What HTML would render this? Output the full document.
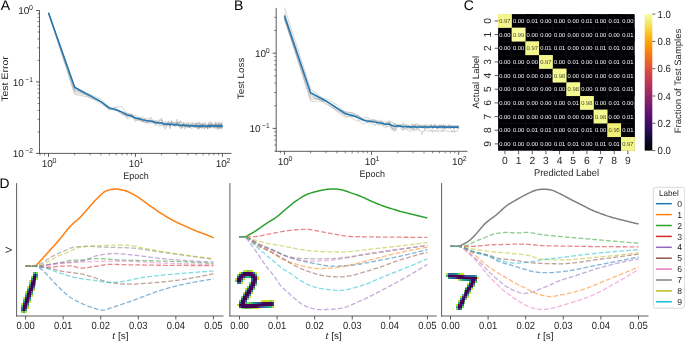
<!DOCTYPE html>
<html><head><meta charset="utf-8"><style>
html,body{margin:0;padding:0;background:#fff;}
svg{display:block;font-family:"Liberation Sans", sans-serif;text-rendering:geometricPrecision;will-change:transform;}
</style></head><body>
<svg width="685" height="341" viewBox="0 0 685 341">
<rect width="685" height="341" fill="#fff"/>
<text x="0.7" y="9.8" font-size="14" text-anchor="start" fill="#000" >A</text>
<text x="233.9" y="9.8" font-size="14" text-anchor="start" fill="#000" >B</text>
<text x="463.7" y="9.8" font-size="14" text-anchor="start" fill="#000" >C</text>
<text x="-0.6" y="187.6" font-size="13.8" text-anchor="start" fill="#000" >D</text>
<polyline points="48.5,13.1 74.67,86.73 89.99,97.87 100.85,101.66 109.28,109.62 116.16,109.7 121.98,111.84 127.02,118.68 131.47,117.05 135.45,117.69 139.05,120.2 142.33,121.83 145.36,120.11 148.16,122.06 150.76,119.39 153.2,121.22 155.49,121.58 157.65,120.19 159.69,120.28 161.62,120.27 163.47,123.38 165.22,123.72 166.9,123.64 168.51,124.68 170.05,121.94 171.53,124.79 172.96,125.59 174.33,126.74 175.66,123.69 176.94,124.71 178.17,121.72 179.37,124.75 180.53,121.57 181.66,123.05 182.76,127.69 183.82,121.66 184.86,127.07 185.86,126.21 186.84,125.09 187.8,126.53 188.73,126.72 189.64,127.69 190.53,125.6 191.4,125.08 192.25,125.14 193.08,124.6 193.89,126.23 194.68,125.04 195.46,128.02 196.23,123.32 196.97,124.57 197.71,124.79 198.43,123.03 199.13,129.21 199.82,122.58 200.5,125.84 201.17,125.47 201.83,128.74 202.48,123.3 203.11,127.84 203.73,125.17 204.35,126.02 204.95,125.27 205.55,127.16 206.13,124.6 206.71,126.11 207.28,126.72 207.84,128.81 208.39,122.85 208.93,128.34 209.47,127.53 210,125.55 210.52,126.63 211.03,125.58 211.54,128.44 212.04,126.5 212.53,125.93 213.02,125.91 213.5,125.95 213.97,125.98 214.44,125.06 214.91,128.9 215.36,123.73 215.82,121.55 216.26,126.06 216.7,126.03 217.14,126.69 217.57,125.95 218,126.03 218.42,126.63 218.84,127.43 219.25,125.66 219.66,125.75 220.06,128.61 220.46,126.87 220.86,125.01 221.25,129.05 221.64,127.16 222.02,125.5 222.4,124.8" fill="none" stroke="#999999" stroke-width="0.8" stroke-linejoin="round" stroke-linecap="butt" stroke-opacity="0.5"/>
<polyline points="48.5,12.4 74.67,88.23 89.99,95.64 100.85,101.77 109.28,107.14 116.16,109.42 121.98,114.96 127.02,114.02 131.47,113.92 135.45,119.43 139.05,119.05 142.33,121.48 145.36,122.94 148.16,120.71 150.76,121.37 153.2,122.14 155.49,120.37 157.65,124.64 159.69,126.57 161.62,124.3 163.47,123.63 165.22,123.78 166.9,122.92 168.51,123.09 170.05,124.15 171.53,123.45 172.96,124.46 174.33,122.32 175.66,126.3 176.94,125.83 178.17,123.63 179.37,121.58 180.53,125.93 181.66,127.98 182.76,124.56 183.82,125.02 184.86,124.86 185.86,127.03 186.84,124.27 187.8,127.69 188.73,125.54 189.64,127.72 190.53,126.28 191.4,125.92 192.25,123.94 193.08,125.34 193.89,126.12 194.68,127.62 195.46,126.94 196.23,125.43 196.97,127.18 197.71,128.08 198.43,126.3 199.13,125.85 199.82,125.91 200.5,127.75 201.17,127.32 201.83,125.11 202.48,127.06 203.11,125.79 203.73,125.39 204.35,128.3 204.95,127.67 205.55,125.43 206.13,126.59 206.71,127.19 207.28,125.56 207.84,126.29 208.39,127.39 208.93,123.97 209.47,126.91 210,127.47 210.52,127.15 211.03,124.63 211.54,126.89 212.04,125.3 212.53,127.22 213.02,127.26 213.5,126.74 213.97,125.45 214.44,125.68 214.91,127.57 215.36,125.29 215.82,127.1 216.26,127.12 216.7,126.1 217.14,129.51 217.57,126.55 218,129.17 218.42,123.92 218.84,123.65 219.25,127.68 219.66,127.25 220.06,126.07 220.46,126.39 220.86,124.12 221.25,125.69 221.64,125.2 222.02,126.19 222.4,127.53" fill="none" stroke="#999999" stroke-width="0.8" stroke-linejoin="round" stroke-linecap="butt" stroke-opacity="0.5"/>
<polyline points="48.5,13.6 74.67,89.73 89.99,96.76 100.85,101.88 109.28,107.86 116.16,110.43 121.98,111.74 127.02,117.29 131.47,114.83 135.45,121.7 139.05,116.56 142.33,121.64 145.36,118.5 148.16,124.24 150.76,121.67 153.2,122.78 155.49,124.02 157.65,121.6 159.69,121.21 161.62,119.38 163.47,126.39 165.22,122.57 166.9,123.02 168.51,124.42 170.05,128.87 171.53,121.33 172.96,125.56 174.33,124.39 175.66,126.37 176.94,121.92 178.17,124.79 179.37,127.26 180.53,128.58 181.66,128.6 182.76,124.05 183.82,125.7 184.86,125.39 185.86,123.13 186.84,123.05 187.8,126.99 188.73,126.19 189.64,125.61 190.53,127.99 191.4,124.34 192.25,126.97 193.08,126.19 193.89,126.16 194.68,127.05 195.46,126.54 196.23,126.67 196.97,126.66 197.71,129.28 198.43,125.75 199.13,127.79 199.82,127.16 200.5,125.69 201.17,127.42 201.83,124.92 202.48,127.93 203.11,125 203.73,125.48 204.35,126.66 204.95,127.4 205.55,127.49 206.13,127.46 206.71,125.88 207.28,124.82 207.84,126.94 208.39,126.59 208.93,124.84 209.47,127.51 210,126.44 210.52,124.85 211.03,126.76 211.54,124.37 212.04,124.98 212.53,126.7 213.02,124.09 213.5,126.21 213.97,124.38 214.44,127.13 214.91,125.21 215.36,126.4 215.82,124.22 216.26,125.72 216.7,127.38 217.14,126.75 217.57,123.83 218,127.33 218.42,127.29 218.84,125.69 219.25,127.93 219.66,124.85 220.06,126.06 220.46,127.53 220.86,127.77 221.25,127.73 221.64,124.83 222.02,124.01 222.4,126.64" fill="none" stroke="#999999" stroke-width="0.8" stroke-linejoin="round" stroke-linecap="butt" stroke-opacity="0.5"/>
<polyline points="48.5,13 74.67,91.23 89.99,94.23 100.85,99.25 109.28,107.72 116.16,110.1 121.98,111.72 127.02,112.89 131.47,114.98 135.45,115.33 139.05,117.64 142.33,118.16 145.36,119.31 148.16,118.09 150.76,123.59 153.2,120.75 155.49,123.6 157.65,123.95 159.69,119.77 161.62,118.31 163.47,124.69 165.22,121.44 166.9,122.66 168.51,122.16 170.05,123.19 171.53,120.66 172.96,123.06 174.33,122.47 175.66,123.5 176.94,119.1 178.17,125.36 179.37,124.51 180.53,120.62 181.66,122.49 182.76,123.89 183.82,124.96 184.86,123.81 185.86,126.25 186.84,123.84 187.8,122.16 188.73,122.82 189.64,125.34 190.53,123.12 191.4,125.64 192.25,126.01 193.08,125.36 193.89,126.13 194.68,124.2 195.46,124.46 196.23,123.53 196.97,123.5 197.71,122 198.43,123.59 199.13,122.79 199.82,122.26 200.5,124.66 201.17,125.12 201.83,123.92 202.48,126.46 203.11,125.81 203.73,125.95 204.35,123.53 204.95,122.24 205.55,125.21 206.13,124.84 206.71,125.43 207.28,124.98 207.84,126.16 208.39,123.98 208.93,125.31 209.47,123.14 210,121.21 210.52,123.77 211.03,126.42 211.54,122.11 212.04,125.75 212.53,123.47 213.02,123.85 213.5,124.44 213.97,124.66 214.44,123.1 214.91,124.55 215.36,124.96 215.82,125.46 216.26,123.41 216.7,126.37 217.14,126.81 217.57,127.45 218,122.69 218.42,124.6 218.84,122.05 219.25,124.85 219.66,125.07 220.06,122.96 220.46,122.43 220.86,124.61 221.25,125.15 221.64,123.42 222.02,124.07 222.4,121.33" fill="none" stroke="#999999" stroke-width="0.8" stroke-linejoin="round" stroke-linecap="butt" stroke-opacity="0.5"/>
<polyline points="48.5,12.6 74.67,92.93 89.99,95.51 100.85,101.91 109.28,109.29 116.16,106.88 121.98,106.7 127.02,114.68 131.47,114.51 135.45,117.42 139.05,119.21 142.33,119.77 145.36,122.24 148.16,122.7 150.76,116.97 153.2,120.9 155.49,125.74 157.65,121.17 159.69,124.51 161.62,122.61 163.47,122.04 165.22,126.45 166.9,125.54 168.51,123.06 170.05,125.69 171.53,121.27 172.96,122.67 174.33,126.09 175.66,124.48 176.94,122.45 178.17,125.51 179.37,125.38 180.53,127.15 181.66,126.5 182.76,124.2 183.82,123.81 184.86,124.43 185.86,124.25 186.84,127.24 187.8,127.53 188.73,127.19 189.64,125.59 190.53,124.61 191.4,126.62 192.25,124.61 193.08,125.65 193.89,122.62 194.68,124.66 195.46,127.65 196.23,123.7 196.97,122.98 197.71,125.07 198.43,127.91 199.13,127.56 199.82,124.76 200.5,124.58 201.17,125.14 201.83,123.9 202.48,125.35 203.11,124.85 203.73,123.11 204.35,124.43 204.95,124.9 205.55,124.03 206.13,123.66 206.71,126.55 207.28,127.94 207.84,124.85 208.39,124.66 208.93,125.95 209.47,124.93 210,124.17 210.52,127.16 211.03,123.83 211.54,124.26 212.04,124.36 212.53,124.07 213.02,124.93 213.5,126.01 213.97,127.15 214.44,126.12 214.91,125.3 215.36,123.63 215.82,125.17 216.26,124.04 216.7,125.13 217.14,126.5 217.57,125.51 218,124.99 218.42,124.3 218.84,125.22 219.25,125.39 219.66,124.1 220.06,124.63 220.46,126.34 220.86,123.22 221.25,124.71 221.64,123.83 222.02,127.12 222.4,125.98" fill="none" stroke="#999999" stroke-width="0.8" stroke-linejoin="round" stroke-linecap="butt" stroke-opacity="0.5"/>
<polyline points="48.5,13.3 74.67,94.33 89.99,97.39 100.85,103.66 109.28,109.33 116.16,107.41 121.98,113.43 127.02,116.44 131.47,114.22 135.45,120.02 139.05,120.57 142.33,116.78 145.36,119.69 148.16,120.68 150.76,120.83 153.2,123.32 155.49,120.33 157.65,123.02 159.69,124.42 161.62,125.71 163.47,124.49 165.22,124.08 166.9,126.27 168.51,120.86 170.05,127.21 171.53,124.82 172.96,123.06 174.33,124.88 175.66,122.24 176.94,122 178.17,125.48 179.37,124.74 180.53,127.58 181.66,124.54 182.76,123.79 183.82,124.42 184.86,129.22 185.86,126.17 186.84,125.07 187.8,124.51 188.73,124.43 189.64,126.12 190.53,127.21 191.4,128.5 192.25,128.55 193.08,127.18 193.89,125.73 194.68,125.42 195.46,123.1 196.23,125.18 196.97,127.46 197.71,126.26 198.43,127.36 199.13,124.7 199.82,128.15 200.5,127.22 201.17,126.83 201.83,127.36 202.48,123.43 203.11,125.93 203.73,125.43 204.35,129.39 204.95,126.48 205.55,126.01 206.13,127.96 206.71,125.23 207.28,128.74 207.84,125.73 208.39,126.64 208.93,125.44 209.47,127.83 210,123.73 210.52,127.66 211.03,125.6 211.54,126.78 212.04,125.17 212.53,127.02 213.02,126.97 213.5,127.5 213.97,127.13 214.44,127.53 214.91,128.01 215.36,126.21 215.82,125.19 216.26,125.07 216.7,127.59 217.14,126.24 217.57,128.05 218,126.77 218.42,125.44 218.84,127.85 219.25,129.14 219.66,126.49 220.06,125.56 220.46,125.68 220.86,127.81 221.25,126 221.64,126.22 222.02,127.55 222.4,126.73" fill="none" stroke="#999999" stroke-width="0.8" stroke-linejoin="round" stroke-linecap="butt" stroke-opacity="0.5"/>
<polyline points="48.5,12.8 74.67,89.23 89.99,95.75 100.85,102.03 109.28,108.66 116.16,110.59 121.98,113.66 127.02,113.66 131.47,117.47 135.45,118.81 139.05,118.86 142.33,120.69 145.36,122.32 148.16,121.27 150.76,121.62 153.2,119.98 155.49,123.22 157.65,122.82 159.69,122.82 161.62,121.98 163.47,125.11 165.22,129.48 166.9,125.25 168.51,124.74 170.05,125.69 171.53,123.75 172.96,125.32 174.33,123.93 175.66,124.12 176.94,125.97 178.17,126.07 179.37,125.52 180.53,124.23 181.66,126.2 182.76,123.69 183.82,127.08 184.86,125.04 185.86,125.65 186.84,127.04 187.8,126.72 188.73,123.61 189.64,125.5 190.53,126.63 191.4,124.27 192.25,122.18 193.08,126.13 193.89,126.25 194.68,127.03 195.46,126.46 196.23,126.53 196.97,126.7 197.71,128.47 198.43,127.06 199.13,127.14 199.82,125.7 200.5,128 201.17,126.01 201.83,127.39 202.48,123.14 203.11,126.64 203.73,126.13 204.35,125.59 204.95,128.13 205.55,126.84 206.13,126.05 206.71,125.5 207.28,128.9 207.84,127.29 208.39,127.16 208.93,125.18 209.47,128.04 210,127.01 210.52,125.87 211.03,126.1 211.54,124.04 212.04,127.11 212.53,124.78 213.02,127.36 213.5,125.66 213.97,125.42 214.44,126.72 214.91,126.51 215.36,124.78 215.82,126.14 216.26,127.02 216.7,125.92 217.14,124.53 217.57,125.93 218,125.03 218.42,125.51 218.84,126.3 219.25,126.17 219.66,125.98 220.06,124.2 220.46,126.67 220.86,125.99 221.25,125.74 221.64,126.43 222.02,128.56 222.4,124.69" fill="none" stroke="#999999" stroke-width="0.8" stroke-linejoin="round" stroke-linecap="butt" stroke-opacity="0.5"/>
<polyline points="48.5,12.83 74.67,87.27 89.99,95.66 100.85,101.69 109.28,107.85 116.16,109.72 121.98,112.15 127.02,114.94 131.47,116.01 135.45,118.1 139.05,118.7 142.33,119.67 145.36,120.36 148.16,121.02 150.76,121.07 153.2,121.75 155.49,122.53 157.65,122.7 159.69,123.09 161.62,122.77 163.47,123.98 165.22,124.21 166.9,124.19 168.51,123.91 170.05,124.91 171.53,123.95 172.96,124.66 174.33,124.8 175.66,124.86 176.94,124.37 178.17,125.11 179.37,125.25 180.53,125.36 181.66,125.59 182.76,125.1 183.82,125.14 184.86,125.6 185.86,125.52 186.84,125.33 187.8,125.8 188.73,125.48 189.64,125.98 190.53,125.89 191.4,125.87 192.25,125.72 193.08,125.96 193.89,125.93 194.68,126.04 195.46,126.18 196.23,125.61 196.97,125.91 197.71,126.22 198.43,126.03 199.13,126.29 199.82,125.74 200.5,126.2 201.17,126.17 201.83,126.04 202.48,125.74 203.11,126.07 203.73,125.73 204.35,126.2 204.95,126.07 205.55,126.08 206.13,126.01 206.71,126.06 207.28,126.42 207.84,126.32 208.39,125.88 208.93,125.86 209.47,126.31 210,125.64 210.52,126.13 211.03,125.86 211.54,125.73 212.04,125.87 212.53,125.87 213.02,125.95 213.5,126.09 213.97,125.94 214.44,126.01 214.91,126.32 215.36,125.6 215.82,125.59 216.26,125.83 216.7,126.22 217.14,126.38 217.57,126.14 218,126.06 218.42,125.78 218.84,125.81 219.25,126.37 219.66,125.89 220.06,125.8 220.46,126.05 220.86,125.83 221.25,126.19 221.64,125.74 222.02,126.12 222.4,125.78" fill="none" stroke="#1f77b4" stroke-width="1.5" stroke-linejoin="round" stroke-linecap="butt" />
<line x1="39.5" y1="10.4" x2="39.5" y2="153.8" stroke="#333333" stroke-width="0.8" />
<line x1="39.1" y1="153.4" x2="231.5" y2="153.4" stroke="#333333" stroke-width="0.8" />
<line x1="36" y1="153.4" x2="39.5" y2="153.4" stroke="#333333" stroke-width="0.8" />
<line x1="37.5" y1="131.89" x2="39.5" y2="131.89" stroke="#333333" stroke-width="0.6" />
<line x1="37.5" y1="119.31" x2="39.5" y2="119.31" stroke="#333333" stroke-width="0.6" />
<line x1="37.5" y1="110.38" x2="39.5" y2="110.38" stroke="#333333" stroke-width="0.6" />
<line x1="37.5" y1="103.46" x2="39.5" y2="103.46" stroke="#333333" stroke-width="0.6" />
<line x1="37.5" y1="97.8" x2="39.5" y2="97.8" stroke="#333333" stroke-width="0.6" />
<line x1="37.5" y1="93.02" x2="39.5" y2="93.02" stroke="#333333" stroke-width="0.6" />
<line x1="37.5" y1="88.87" x2="39.5" y2="88.87" stroke="#333333" stroke-width="0.6" />
<line x1="37.5" y1="85.22" x2="39.5" y2="85.22" stroke="#333333" stroke-width="0.6" />
<line x1="36" y1="81.95" x2="39.5" y2="81.95" stroke="#333333" stroke-width="0.8" />
<line x1="37.5" y1="60.44" x2="39.5" y2="60.44" stroke="#333333" stroke-width="0.6" />
<line x1="37.5" y1="47.86" x2="39.5" y2="47.86" stroke="#333333" stroke-width="0.6" />
<line x1="37.5" y1="38.93" x2="39.5" y2="38.93" stroke="#333333" stroke-width="0.6" />
<line x1="37.5" y1="32.01" x2="39.5" y2="32.01" stroke="#333333" stroke-width="0.6" />
<line x1="37.5" y1="26.35" x2="39.5" y2="26.35" stroke="#333333" stroke-width="0.6" />
<line x1="37.5" y1="21.57" x2="39.5" y2="21.57" stroke="#333333" stroke-width="0.6" />
<line x1="37.5" y1="17.42" x2="39.5" y2="17.42" stroke="#333333" stroke-width="0.6" />
<line x1="37.5" y1="13.77" x2="39.5" y2="13.77" stroke="#333333" stroke-width="0.6" />
<line x1="36" y1="10.5" x2="39.5" y2="10.5" stroke="#333333" stroke-width="0.8" />
<text x="29.3" y="14.3" font-size="10" text-anchor="end" fill="#262626" >10</text>
<text x="32.9" y="10.2" font-size="7" text-anchor="end" fill="#262626" >0</text>
<text x="23.9" y="85.75" font-size="10" text-anchor="end" fill="#262626" >10</text>
<text x="32.9" y="81.65" font-size="7" text-anchor="end" fill="#262626" textLength="7.6" lengthAdjust="spacingAndGlyphs" >−1</text>
<text x="23.9" y="157.2" font-size="10" text-anchor="end" fill="#262626" >10</text>
<text x="32.9" y="153.1" font-size="7" text-anchor="end" fill="#262626" textLength="7.6" lengthAdjust="spacingAndGlyphs" >−2</text>
<line x1="40.07" y1="153.4" x2="40.07" y2="155.4" stroke="#333333" stroke-width="0.6" />
<line x1="44.52" y1="153.4" x2="44.52" y2="155.4" stroke="#333333" stroke-width="0.6" />
<line x1="48.5" y1="153.4" x2="48.5" y2="156.9" stroke="#333333" stroke-width="0.8" />
<line x1="74.67" y1="153.4" x2="74.67" y2="155.4" stroke="#333333" stroke-width="0.6" />
<line x1="89.99" y1="153.4" x2="89.99" y2="155.4" stroke="#333333" stroke-width="0.6" />
<line x1="100.85" y1="153.4" x2="100.85" y2="155.4" stroke="#333333" stroke-width="0.6" />
<line x1="109.28" y1="153.4" x2="109.28" y2="155.4" stroke="#333333" stroke-width="0.6" />
<line x1="116.16" y1="153.4" x2="116.16" y2="155.4" stroke="#333333" stroke-width="0.6" />
<line x1="121.98" y1="153.4" x2="121.98" y2="155.4" stroke="#333333" stroke-width="0.6" />
<line x1="127.02" y1="153.4" x2="127.02" y2="155.4" stroke="#333333" stroke-width="0.6" />
<line x1="131.47" y1="153.4" x2="131.47" y2="155.4" stroke="#333333" stroke-width="0.6" />
<line x1="135.45" y1="153.4" x2="135.45" y2="156.9" stroke="#333333" stroke-width="0.8" />
<line x1="161.62" y1="153.4" x2="161.62" y2="155.4" stroke="#333333" stroke-width="0.6" />
<line x1="176.94" y1="153.4" x2="176.94" y2="155.4" stroke="#333333" stroke-width="0.6" />
<line x1="187.8" y1="153.4" x2="187.8" y2="155.4" stroke="#333333" stroke-width="0.6" />
<line x1="196.23" y1="153.4" x2="196.23" y2="155.4" stroke="#333333" stroke-width="0.6" />
<line x1="203.11" y1="153.4" x2="203.11" y2="155.4" stroke="#333333" stroke-width="0.6" />
<line x1="208.93" y1="153.4" x2="208.93" y2="155.4" stroke="#333333" stroke-width="0.6" />
<line x1="213.97" y1="153.4" x2="213.97" y2="155.4" stroke="#333333" stroke-width="0.6" />
<line x1="218.42" y1="153.4" x2="218.42" y2="155.4" stroke="#333333" stroke-width="0.6" />
<line x1="222.4" y1="153.4" x2="222.4" y2="156.9" stroke="#333333" stroke-width="0.8" />
<text x="47.3" y="166.6" font-size="10" text-anchor="middle" fill="#262626" >10</text>
<text x="52.5" y="163" font-size="7" text-anchor="start" fill="#262626" >0</text>
<text x="134.25" y="166.6" font-size="10" text-anchor="middle" fill="#262626" >10</text>
<text x="139.45" y="163" font-size="7" text-anchor="start" fill="#262626" >1</text>
<text x="221.2" y="166.6" font-size="10" text-anchor="middle" fill="#262626" >10</text>
<text x="226.4" y="163" font-size="7" text-anchor="start" fill="#262626" >2</text>
<text x="136" y="178.8" font-size="9.3" text-anchor="middle" fill="#262626" textLength="25.5" lengthAdjust="spacingAndGlyphs" >Epoch</text>
<text x="0" y="0" font-size="9.3" text-anchor="middle" fill="#262626" textLength="45.5" lengthAdjust="spacingAndGlyphs" transform="translate(8,79) rotate(-90)">Test Error</text>
<polyline points="284.4,7.5 310.63,88.92 325.98,100.68 336.87,108.3 345.32,111.96 352.22,112.93 358.05,117.18 363.1,119.94 367.56,122.84 371.55,119.8 375.16,120.49 378.45,124.64 381.48,124.95 384.29,127.41 386.9,127.08 389.34,125.9 391.63,126.25 393.8,131.68 395.84,127.25 397.78,126.86 399.63,126.72 401.39,128.9 403.07,129.22 404.69,128.74 406.23,129.38 407.71,130.06 409.14,130.84 410.52,131.54 411.85,130.52 413.13,128.1 414.37,131.44 415.57,128.9 416.74,130.49 417.87,128.97 418.97,130.78 420.03,129.91 421.07,131.09 422.08,134.57 423.06,130.77 424.02,131.72 424.95,129.34 425.87,130.44 426.76,131.42 427.63,130.61 428.48,131.06 429.31,130.77 430.12,129.66 430.92,131.22 431.7,129.87 432.47,132.48 433.21,130.18 433.95,131.32 434.67,130.67 435.38,131.55 436.07,130.11 436.75,131.58 437.42,130.55 438.08,131.79 438.73,131.22 439.37,130.79 439.99,129.99 440.61,131.33 441.21,131.07 441.81,132.05 442.4,130.35 442.97,131.13 443.54,131.08 444.1,130.91 444.66,130.86 445.2,130.84 445.74,130.23 446.27,129.91 446.79,130.42 447.3,131.2 447.81,131.92 448.31,131.51 448.81,131.57 449.3,131.37 449.78,131.31 450.25,130.93 450.72,131.38 451.19,132.12 451.65,130.58 452.1,130.33 452.55,132.26 452.99,131.02 453.43,131.55 453.86,131.49 454.29,130.07 454.71,132.59 455.13,132.13 455.54,131.02 455.95,131.42 456.36,131 456.76,130.32 457.15,130.85 457.55,131.19 457.94,131.69 458.32,131.42 458.7,131" fill="none" stroke="#999999" stroke-width="0.8" stroke-linejoin="round" stroke-linecap="butt" stroke-opacity="0.5"/>
<polyline points="284.4,17.5 310.63,95.42 325.98,102.66 336.87,111.41 345.32,117.26 352.22,116.24 358.05,115.79 363.1,119.11 367.56,122.51 371.55,123.55 375.16,125.78 378.45,121.9 381.48,124.05 384.29,125.56 386.9,124.57 389.34,121.26 391.63,127.1 393.8,130.07 395.84,128.03 397.78,125.12 399.63,126.16 401.39,127.25 403.07,130.71 404.69,128 406.23,127.36 407.71,129.45 409.14,127.26 410.52,129.92 411.85,126.58 413.13,126.91 414.37,128.47 415.57,129.37 416.74,128.44 417.87,128.05 418.97,125.57 420.03,126.93 421.07,127.1 422.08,127.2 423.06,128.42 424.02,127.38 424.95,128.57 425.87,127.79 426.76,127.32 427.63,127.77 428.48,128.07 429.31,128.48 430.12,127.13 430.92,127.38 431.7,126.28 432.47,129.17 433.21,129 433.95,127.44 434.67,127.16 435.38,126.46 436.07,127.77 436.75,127.8 437.42,129.58 438.08,127.83 438.73,126.92 439.37,125.47 439.99,128.84 440.61,127.78 441.21,126.24 441.81,127.77 442.4,126.26 442.97,130.51 443.54,128.54 444.1,128.09 444.66,127.49 445.2,125.92 445.74,127.55 446.27,126.43 446.79,128.14 447.3,126.01 447.81,126.99 448.31,128.64 448.81,128.97 449.3,126.83 449.78,126.58 450.25,128.4 450.72,128.39 451.19,127.03 451.65,127.26 452.1,127.27 452.55,126.93 452.99,127.31 453.43,128.7 453.86,128.3 454.29,129.27 454.71,127.77 455.13,127.74 455.54,127.16 455.95,127.77 456.36,126.96 456.76,126.66 457.15,128.35 457.55,128.85 457.94,128.45 458.32,128.79 458.7,128.07" fill="none" stroke="#999999" stroke-width="0.8" stroke-linejoin="round" stroke-linecap="butt" stroke-opacity="0.5"/>
<polyline points="284.4,19 310.63,97.42 325.98,100.98 336.87,107.32 345.32,111.9 352.22,112.62 358.05,115.07 363.1,119.4 367.56,121.12 371.55,120.6 375.16,124.33 378.45,122.67 381.48,123.8 384.29,125.29 386.9,122.2 389.34,120.7 391.63,125.77 393.8,123.72 395.84,127.29 397.78,125.89 399.63,127.13 401.39,126.83 403.07,122.68 404.69,126.91 406.23,125 407.71,124.99 409.14,125.53 410.52,127.21 411.85,127.39 413.13,127.58 414.37,124.23 415.57,125.63 416.74,123.51 417.87,126.32 418.97,127.19 420.03,125.63 421.07,126.83 422.08,126.82 423.06,127.65 424.02,125.6 424.95,125.58 425.87,125.64 426.76,128.28 427.63,127.54 428.48,126.26 429.31,126.6 430.12,126.48 430.92,126.57 431.7,126.16 432.47,126.05 433.21,125.16 433.95,125.76 434.67,127.92 435.38,126.87 436.07,126.43 436.75,126.17 437.42,126.43 438.08,126.68 438.73,125.8 439.37,126.54 439.99,126.58 440.61,125.72 441.21,125.7 441.81,125.52 442.4,125.48 442.97,127.11 443.54,124.42 444.1,126.16 444.66,125.89 445.2,125.9 445.74,126.49 446.27,127.32 446.79,126.49 447.3,126.33 447.81,125.98 448.31,126.36 448.81,127.17 449.3,126.18 449.78,125.63 450.25,125.55 450.72,125.69 451.19,125.49 451.65,127.33 452.1,126.79 452.55,126.37 452.99,127.6 453.43,126.09 453.86,127.1 454.29,127.14 454.71,125.5 455.13,125.51 455.54,125.96 455.95,127.23 456.36,127.51 456.76,125.79 457.15,127.34 457.55,126.38 457.94,126.38 458.32,126.29 458.7,126.45" fill="none" stroke="#999999" stroke-width="0.8" stroke-linejoin="round" stroke-linecap="butt" stroke-opacity="0.5"/>
<polyline points="284.4,16.5 310.63,99.42 325.98,98.25 336.87,104.85 345.32,112.39 352.22,118.39 358.05,121.57 363.1,118.17 367.56,117.27 371.55,120.06 375.16,119.65 378.45,125.08 381.48,123.12 384.29,121.32 386.9,124.53 389.34,124.3 391.63,121.07 393.8,123.33 395.84,124.07 397.78,124.72 399.63,125.11 401.39,124.49 403.07,125.39 404.69,124.35 406.23,124.02 407.71,127.49 409.14,125.95 410.52,126.11 411.85,123.49 413.13,125.41 414.37,126.69 415.57,124.1 416.74,127.08 417.87,125.31 418.97,126.29 420.03,125.7 421.07,126.14 422.08,127.25 423.06,125.42 424.02,127.56 424.95,124.97 425.87,124.8 426.76,126.52 427.63,124.64 428.48,125.34 429.31,126.63 430.12,126.92 430.92,123.95 431.7,126.2 432.47,127.53 433.21,126.85 433.95,125.48 434.67,125.15 435.38,125.43 436.07,124.65 436.75,125.47 437.42,125.54 438.08,125.58 438.73,126.76 439.37,125.51 439.99,124.44 440.61,126.61 441.21,124.79 441.81,125.33 442.4,125.6 442.97,125.42 443.54,124.88 444.1,125.52 444.66,127.5 445.2,125.25 445.74,125.64 446.27,126.65 446.79,126.36 447.3,126.38 447.81,126.46 448.31,124.29 448.81,125.15 449.3,125.92 449.78,126.21 450.25,126.81 450.72,126.2 451.19,125.68 451.65,125.89 452.1,125.72 452.55,126.06 452.99,126.38 453.43,125.66 453.86,125.33 454.29,125.31 454.71,126.69 455.13,126.83 455.54,126.63 455.95,126.54 456.36,126.53 456.76,125.96 457.15,126.42 457.55,125.27 457.94,125.85 458.32,125.51 458.7,126.48" fill="none" stroke="#999999" stroke-width="0.8" stroke-linejoin="round" stroke-linecap="butt" stroke-opacity="0.5"/>
<polyline points="284.4,18 310.63,101.42 325.98,100.93 336.87,108.42 345.32,115.03 352.22,114.23 358.05,116.08 363.1,120.88 367.56,119.06 371.55,122.26 375.16,121.02 378.45,122.27 381.48,119.79 384.29,124.51 386.9,122.83 389.34,122.6 391.63,128.1 393.8,126.18 395.84,131 397.78,126.09 399.63,125.1 401.39,125.92 403.07,128.24 404.69,125.91 406.23,126.68 407.71,126.84 409.14,124.97 410.52,126.45 411.85,125.66 413.13,124.76 414.37,127.5 415.57,127.27 416.74,126.58 417.87,125.44 418.97,124.2 420.03,127.16 421.07,126.52 422.08,124.74 423.06,126.55 424.02,124.92 424.95,126.53 425.87,126.69 426.76,126.89 427.63,126.71 428.48,126.64 429.31,125.3 430.12,126.07 430.92,125.95 431.7,126.22 432.47,126.71 433.21,127.05 433.95,128 434.67,124.04 435.38,126.82 436.07,126.27 436.75,128.52 437.42,127.29 438.08,124.98 438.73,126.81 439.37,126 439.99,127.32 440.61,125.54 441.21,126.37 441.81,126.34 442.4,126.37 442.97,125.97 443.54,124.94 444.1,126.84 444.66,127.28 445.2,126.43 445.74,125.68 446.27,126.66 446.79,126.96 447.3,126.39 447.81,126.52 448.31,127.63 448.81,125.7 449.3,126.14 449.78,125.14 450.25,126.06 450.72,126.04 451.19,125.89 451.65,126.1 452.1,127.93 452.55,126.48 452.99,126.55 453.43,128.21 453.86,126.61 454.29,125.44 454.71,126.95 455.13,126.02 455.54,127.82 455.95,125.83 456.36,126.3 456.76,125.61 457.15,126.78 457.55,126.04 457.94,126.69 458.32,126.49 458.7,126.34" fill="none" stroke="#999999" stroke-width="0.8" stroke-linejoin="round" stroke-linecap="butt" stroke-opacity="0.5"/>
<polyline points="284.4,19.5 310.63,93.92 325.98,104.16 336.87,110 345.32,114.31 352.22,114.67 358.05,119.05 363.1,124.47 367.56,121.08 371.55,121.07 375.16,121.71 378.45,121.5 381.48,122.15 384.29,123.86 386.9,127.03 389.34,125.04 391.63,124.62 393.8,123.14 395.84,126.48 397.78,126.3 399.63,124.64 401.39,125.01 403.07,126.7 404.69,128.33 406.23,127.84 407.71,127.32 409.14,126.68 410.52,127.61 411.85,127.22 413.13,130.07 414.37,125.89 415.57,126.9 416.74,128.94 417.87,127.12 418.97,129.16 420.03,127.46 421.07,127.71 422.08,127.14 423.06,125.99 424.02,126.44 424.95,129.87 425.87,128.14 426.76,128.06 427.63,128.39 428.48,127.96 429.31,128.4 430.12,127.1 430.92,127.14 431.7,128.33 432.47,127.02 433.21,126.09 433.95,127.15 434.67,126.85 435.38,127.94 436.07,126.7 436.75,126.4 437.42,127.07 438.08,128.75 438.73,127.32 439.37,127.51 439.99,127.37 440.61,127.62 441.21,128.16 441.81,128.55 442.4,125.99 442.97,128.5 443.54,127.36 444.1,127.11 444.66,129.33 445.2,127.26 445.74,128.96 446.27,128.19 446.79,126.62 447.3,127.82 447.81,128.02 448.31,127.36 448.81,125.69 449.3,127.22 449.78,127.34 450.25,126.67 450.72,128.86 451.19,127.33 451.65,127.23 452.1,127.31 452.55,126.97 452.99,126.99 453.43,127.62 453.86,127.79 454.29,127.22 454.71,127.52 455.13,126.62 455.54,127.96 455.95,127.09 456.36,127.76 456.76,127 457.15,127.28 457.55,127.78 457.94,126.83 458.32,129.3 458.7,127.64" fill="none" stroke="#999999" stroke-width="0.8" stroke-linejoin="round" stroke-linecap="butt" stroke-opacity="0.5"/>
<polyline points="284.4,12.5 310.63,91.42 325.98,100.84 336.87,110.52 345.32,115.73 352.22,116.39 358.05,115.65 363.1,118.94 367.56,122.29 371.55,120.92 375.16,120.28 378.45,120.73 381.48,121.88 384.29,123.63 386.9,122.88 389.34,124.46 391.63,129.62 393.8,128.29 395.84,123.8 397.78,126.29 399.63,126.08 401.39,125.85 403.07,127.7 404.69,125.77 406.23,125.88 407.71,125.91 409.14,126.38 410.52,128.29 411.85,127.64 413.13,124.94 414.37,126.15 415.57,125.76 416.74,127.78 417.87,127.1 418.97,127.92 420.03,126.83 421.07,124.76 422.08,127.45 423.06,127.17 424.02,127.45 424.95,125.46 425.87,126.93 426.76,126.09 427.63,126.08 428.48,127.13 429.31,127.11 430.12,125.86 430.92,125.06 431.7,124.33 432.47,126.2 433.21,127.83 433.95,126.7 434.67,124.64 435.38,125.95 436.07,127.14 436.75,128.28 437.42,127.81 438.08,127.08 438.73,126.93 439.37,125.83 439.99,126.36 440.61,126.47 441.21,126.1 441.81,126.81 442.4,126.43 442.97,127.04 443.54,127.94 444.1,127.37 444.66,127.12 445.2,126.59 445.74,125.58 446.27,126.72 446.79,127.25 447.3,126.04 447.81,127.81 448.31,126.59 448.81,127.14 449.3,126.62 449.78,125.93 450.25,128.43 450.72,126.03 451.19,127.58 451.65,126.51 452.1,127.13 452.55,126.35 452.99,126.64 453.43,127.61 453.86,128.34 454.29,126.37 454.71,126.98 455.13,127.64 455.54,126.55 455.95,127.49 456.36,126.47 456.76,127.42 457.15,127.32 457.55,127.84 457.94,127.28 458.32,126.25 458.7,127.49" fill="none" stroke="#999999" stroke-width="0.8" stroke-linejoin="round" stroke-linecap="butt" stroke-opacity="0.5"/>
<polyline points="284.4,15.54 310.63,92.87 325.98,100.99 336.87,108.14 345.32,113.58 352.22,115.54 358.05,117.65 363.1,119.97 367.56,121.11 371.55,121.54 375.16,122.13 378.45,122.75 381.48,123.05 384.29,124.04 386.9,124.22 389.34,124.02 391.63,125.44 393.8,125.91 395.84,126.14 397.78,125.83 399.63,125.93 401.39,126.2 403.07,126.66 404.69,126.55 406.23,126.48 407.71,126.91 409.14,126.67 410.52,127.31 411.85,126.78 413.13,126.76 414.37,126.95 415.57,126.82 416.74,127.15 417.87,126.89 418.97,127.09 420.03,127.01 421.07,127.06 422.08,127.39 423.06,127.17 424.02,127.1 424.95,127.04 425.87,127.03 426.76,127.28 427.63,127.09 428.48,127.12 429.31,127.17 430.12,126.9 430.92,126.78 431.7,126.79 432.47,127.29 433.21,127.09 433.95,127.07 434.67,126.73 435.38,127.02 436.07,126.89 436.75,127.23 437.42,127.23 438.08,127.13 438.73,127.07 439.37,126.8 439.99,127.01 440.61,127.02 441.21,126.85 441.81,127.11 442.4,126.73 442.97,127.32 443.54,126.9 444.1,127.09 444.66,127.32 445.2,126.86 445.74,126.99 446.27,127.1 446.79,127.13 447.3,127 447.81,127.24 448.31,127.16 448.81,127.1 449.3,127.03 449.78,126.9 450.25,127.21 450.72,127.2 451.19,127.11 451.65,127.1 452.1,127.2 452.55,127.14 452.99,127.22 453.43,127.41 453.86,127.38 454.29,127.12 454.71,127.33 455.13,127.24 455.54,127.28 455.95,127.3 456.36,127.25 456.76,127.02 457.15,127.38 457.55,127.32 457.94,127.31 458.32,127.37 458.7,127.34" fill="none" stroke="#1f77b4" stroke-width="1.5" stroke-linejoin="round" stroke-linecap="butt" />
<line x1="276.2" y1="7.9" x2="276.2" y2="151.7" stroke="#333333" stroke-width="0.8" />
<line x1="275.8" y1="151.3" x2="467.5" y2="151.3" stroke="#333333" stroke-width="0.8" />
<line x1="274.2" y1="151.04" x2="276.2" y2="151.04" stroke="#333333" stroke-width="0.6" />
<line x1="274.2" y1="145.08" x2="276.2" y2="145.08" stroke="#333333" stroke-width="0.6" />
<line x1="274.2" y1="140.05" x2="276.2" y2="140.05" stroke="#333333" stroke-width="0.6" />
<line x1="274.2" y1="135.69" x2="276.2" y2="135.69" stroke="#333333" stroke-width="0.6" />
<line x1="274.2" y1="131.84" x2="276.2" y2="131.84" stroke="#333333" stroke-width="0.6" />
<line x1="272.7" y1="128.4" x2="276.2" y2="128.4" stroke="#333333" stroke-width="0.8" />
<line x1="274.2" y1="105.76" x2="276.2" y2="105.76" stroke="#333333" stroke-width="0.6" />
<line x1="274.2" y1="92.52" x2="276.2" y2="92.52" stroke="#333333" stroke-width="0.6" />
<line x1="274.2" y1="83.13" x2="276.2" y2="83.13" stroke="#333333" stroke-width="0.6" />
<line x1="274.2" y1="75.84" x2="276.2" y2="75.84" stroke="#333333" stroke-width="0.6" />
<line x1="274.2" y1="69.88" x2="276.2" y2="69.88" stroke="#333333" stroke-width="0.6" />
<line x1="274.2" y1="64.85" x2="276.2" y2="64.85" stroke="#333333" stroke-width="0.6" />
<line x1="274.2" y1="60.49" x2="276.2" y2="60.49" stroke="#333333" stroke-width="0.6" />
<line x1="274.2" y1="56.64" x2="276.2" y2="56.64" stroke="#333333" stroke-width="0.6" />
<line x1="272.7" y1="53.2" x2="276.2" y2="53.2" stroke="#333333" stroke-width="0.8" />
<line x1="274.2" y1="30.56" x2="276.2" y2="30.56" stroke="#333333" stroke-width="0.6" />
<line x1="274.2" y1="17.32" x2="276.2" y2="17.32" stroke="#333333" stroke-width="0.6" />
<text x="266" y="57" font-size="10" text-anchor="end" fill="#262626" >10</text>
<text x="269.6" y="52.9" font-size="7" text-anchor="end" fill="#262626" >0</text>
<text x="260.6" y="132.2" font-size="10" text-anchor="end" fill="#262626" >10</text>
<text x="269.6" y="128.1" font-size="7" text-anchor="end" fill="#262626" textLength="7.6" lengthAdjust="spacingAndGlyphs" >−1</text>
<line x1="280.41" y1="151.3" x2="280.41" y2="153.3" stroke="#333333" stroke-width="0.6" />
<line x1="284.4" y1="151.3" x2="284.4" y2="154.8" stroke="#333333" stroke-width="0.8" />
<line x1="310.63" y1="151.3" x2="310.63" y2="153.3" stroke="#333333" stroke-width="0.6" />
<line x1="325.98" y1="151.3" x2="325.98" y2="153.3" stroke="#333333" stroke-width="0.6" />
<line x1="336.87" y1="151.3" x2="336.87" y2="153.3" stroke="#333333" stroke-width="0.6" />
<line x1="345.32" y1="151.3" x2="345.32" y2="153.3" stroke="#333333" stroke-width="0.6" />
<line x1="352.22" y1="151.3" x2="352.22" y2="153.3" stroke="#333333" stroke-width="0.6" />
<line x1="358.05" y1="151.3" x2="358.05" y2="153.3" stroke="#333333" stroke-width="0.6" />
<line x1="363.1" y1="151.3" x2="363.1" y2="153.3" stroke="#333333" stroke-width="0.6" />
<line x1="367.56" y1="151.3" x2="367.56" y2="153.3" stroke="#333333" stroke-width="0.6" />
<line x1="371.55" y1="151.3" x2="371.55" y2="154.8" stroke="#333333" stroke-width="0.8" />
<line x1="397.78" y1="151.3" x2="397.78" y2="153.3" stroke="#333333" stroke-width="0.6" />
<line x1="413.13" y1="151.3" x2="413.13" y2="153.3" stroke="#333333" stroke-width="0.6" />
<line x1="424.02" y1="151.3" x2="424.02" y2="153.3" stroke="#333333" stroke-width="0.6" />
<line x1="432.47" y1="151.3" x2="432.47" y2="153.3" stroke="#333333" stroke-width="0.6" />
<line x1="439.37" y1="151.3" x2="439.37" y2="153.3" stroke="#333333" stroke-width="0.6" />
<line x1="445.2" y1="151.3" x2="445.2" y2="153.3" stroke="#333333" stroke-width="0.6" />
<line x1="450.25" y1="151.3" x2="450.25" y2="153.3" stroke="#333333" stroke-width="0.6" />
<line x1="454.71" y1="151.3" x2="454.71" y2="153.3" stroke="#333333" stroke-width="0.6" />
<line x1="458.7" y1="151.3" x2="458.7" y2="154.8" stroke="#333333" stroke-width="0.8" />
<text x="283.2" y="164.5" font-size="10" text-anchor="middle" fill="#262626" >10</text>
<text x="288.4" y="160.9" font-size="7" text-anchor="start" fill="#262626" >0</text>
<text x="370.35" y="164.5" font-size="10" text-anchor="middle" fill="#262626" >10</text>
<text x="375.55" y="160.9" font-size="7" text-anchor="start" fill="#262626" >1</text>
<text x="457.5" y="164.5" font-size="10" text-anchor="middle" fill="#262626" >10</text>
<text x="462.7" y="160.9" font-size="7" text-anchor="start" fill="#262626" >2</text>
<text x="372.35" y="176.7" font-size="9.3" text-anchor="middle" fill="#262626" textLength="25.5" lengthAdjust="spacingAndGlyphs" >Epoch</text>
<text x="0" y="0" font-size="9.3" text-anchor="middle" fill="#262626" textLength="41.5" lengthAdjust="spacingAndGlyphs" transform="translate(243.6,78.45) rotate(-90)">Test Loss</text>
<rect x="498.1" y="14.1" width="136.6" height="136.6" fill="#000004"/>
<rect x="498.1" y="14.1" width="13.66" height="13.66" fill="#f3f68a"/>
<rect x="525.42" y="14.1" width="13.66" height="13.66" fill="#010106"/>
<rect x="580.06" y="14.1" width="13.66" height="13.66" fill="#010106"/>
<rect x="607.38" y="14.1" width="13.66" height="13.66" fill="#010106"/>
<rect x="511.76" y="27.76" width="13.66" height="13.66" fill="#f9fc9d"/>
<rect x="621.04" y="27.76" width="13.66" height="13.66" fill="#010106"/>
<rect x="525.42" y="41.42" width="13.66" height="13.66" fill="#f3f68a"/>
<rect x="539.08" y="41.42" width="13.66" height="13.66" fill="#010106"/>
<rect x="552.74" y="41.42" width="13.66" height="13.66" fill="#010106"/>
<rect x="593.72" y="41.42" width="13.66" height="13.66" fill="#010106"/>
<rect x="607.38" y="41.42" width="13.66" height="13.66" fill="#010106"/>
<rect x="539.08" y="55.08" width="13.66" height="13.66" fill="#f3f68a"/>
<rect x="566.4" y="55.08" width="13.66" height="13.66" fill="#010106"/>
<rect x="607.38" y="55.08" width="13.66" height="13.66" fill="#010106"/>
<rect x="621.04" y="55.08" width="13.66" height="13.66" fill="#010106"/>
<rect x="552.74" y="68.74" width="13.66" height="13.66" fill="#f5f992"/>
<rect x="621.04" y="68.74" width="13.66" height="13.66" fill="#010106"/>
<rect x="566.4" y="82.4" width="13.66" height="13.66" fill="#f5f992"/>
<rect x="607.38" y="82.4" width="13.66" height="13.66" fill="#010106"/>
<rect x="621.04" y="82.4" width="13.66" height="13.66" fill="#010106"/>
<rect x="566.4" y="96.06" width="13.66" height="13.66" fill="#010106"/>
<rect x="580.06" y="96.06" width="13.66" height="13.66" fill="#f5f992"/>
<rect x="607.38" y="96.06" width="13.66" height="13.66" fill="#010106"/>
<rect x="593.72" y="109.72" width="13.66" height="13.66" fill="#f5f992"/>
<rect x="621.04" y="109.72" width="13.66" height="13.66" fill="#010106"/>
<rect x="525.42" y="123.38" width="13.66" height="13.66" fill="#010106"/>
<rect x="539.08" y="123.38" width="13.66" height="13.66" fill="#010106"/>
<rect x="566.4" y="123.38" width="13.66" height="13.66" fill="#010106"/>
<rect x="580.06" y="123.38" width="13.66" height="13.66" fill="#010106"/>
<rect x="607.38" y="123.38" width="13.66" height="13.66" fill="#f1ef75"/>
<rect x="621.04" y="123.38" width="13.66" height="13.66" fill="#010106"/>
<rect x="552.74" y="137.04" width="13.66" height="13.66" fill="#010106"/>
<rect x="566.4" y="137.04" width="13.66" height="13.66" fill="#010106"/>
<rect x="593.72" y="137.04" width="13.66" height="13.66" fill="#010106"/>
<rect x="607.38" y="137.04" width="13.66" height="13.66" fill="#010106"/>
<rect x="621.04" y="137.04" width="13.66" height="13.66" fill="#f3f68a"/>
<line x1="511.76" y1="14.1" x2="511.76" y2="150.7" stroke="#1a1a1a" stroke-width="0.5" />
<line x1="498.1" y1="27.76" x2="634.7" y2="27.76" stroke="#1a1a1a" stroke-width="0.5" />
<line x1="525.42" y1="14.1" x2="525.42" y2="150.7" stroke="#1a1a1a" stroke-width="0.5" />
<line x1="498.1" y1="41.42" x2="634.7" y2="41.42" stroke="#1a1a1a" stroke-width="0.5" />
<line x1="539.08" y1="14.1" x2="539.08" y2="150.7" stroke="#1a1a1a" stroke-width="0.5" />
<line x1="498.1" y1="55.08" x2="634.7" y2="55.08" stroke="#1a1a1a" stroke-width="0.5" />
<line x1="552.74" y1="14.1" x2="552.74" y2="150.7" stroke="#1a1a1a" stroke-width="0.5" />
<line x1="498.1" y1="68.74" x2="634.7" y2="68.74" stroke="#1a1a1a" stroke-width="0.5" />
<line x1="566.4" y1="14.1" x2="566.4" y2="150.7" stroke="#1a1a1a" stroke-width="0.5" />
<line x1="498.1" y1="82.4" x2="634.7" y2="82.4" stroke="#1a1a1a" stroke-width="0.5" />
<line x1="580.06" y1="14.1" x2="580.06" y2="150.7" stroke="#1a1a1a" stroke-width="0.5" />
<line x1="498.1" y1="96.06" x2="634.7" y2="96.06" stroke="#1a1a1a" stroke-width="0.5" />
<line x1="593.72" y1="14.1" x2="593.72" y2="150.7" stroke="#1a1a1a" stroke-width="0.5" />
<line x1="498.1" y1="109.72" x2="634.7" y2="109.72" stroke="#1a1a1a" stroke-width="0.5" />
<line x1="607.38" y1="14.1" x2="607.38" y2="150.7" stroke="#1a1a1a" stroke-width="0.5" />
<line x1="498.1" y1="123.38" x2="634.7" y2="123.38" stroke="#1a1a1a" stroke-width="0.5" />
<line x1="621.04" y1="14.1" x2="621.04" y2="150.7" stroke="#1a1a1a" stroke-width="0.5" />
<line x1="498.1" y1="137.04" x2="634.7" y2="137.04" stroke="#1a1a1a" stroke-width="0.5" />
<rect x="498.1" y="14.1" width="13.66" height="13.66" fill="#f3f68a"/>
<rect x="511.76" y="27.76" width="13.66" height="13.66" fill="#f9fc9d"/>
<rect x="525.42" y="41.42" width="13.66" height="13.66" fill="#f3f68a"/>
<rect x="539.08" y="55.08" width="13.66" height="13.66" fill="#f3f68a"/>
<rect x="552.74" y="68.74" width="13.66" height="13.66" fill="#f5f992"/>
<rect x="566.4" y="82.4" width="13.66" height="13.66" fill="#f5f992"/>
<rect x="580.06" y="96.06" width="13.66" height="13.66" fill="#f5f992"/>
<rect x="593.72" y="109.72" width="13.66" height="13.66" fill="#f5f992"/>
<rect x="607.38" y="123.38" width="13.66" height="13.66" fill="#f1ef75"/>
<rect x="621.04" y="137.04" width="13.66" height="13.66" fill="#f3f68a"/>
<text x="504.93" y="23.03" font-size="5.9" text-anchor="middle" fill="#3c3c28" textLength="11.3" lengthAdjust="spacingAndGlyphs" >0.97</text>
<text x="518.59" y="23.03" font-size="5.9" text-anchor="middle" fill="#ffffff" textLength="11.3" lengthAdjust="spacingAndGlyphs" >0.00</text>
<text x="532.25" y="23.03" font-size="5.9" text-anchor="middle" fill="#ffffff" textLength="11.3" lengthAdjust="spacingAndGlyphs" >0.01</text>
<text x="545.91" y="23.03" font-size="5.9" text-anchor="middle" fill="#ffffff" textLength="11.3" lengthAdjust="spacingAndGlyphs" >0.00</text>
<text x="559.57" y="23.03" font-size="5.9" text-anchor="middle" fill="#ffffff" textLength="11.3" lengthAdjust="spacingAndGlyphs" >0.00</text>
<text x="573.23" y="23.03" font-size="5.9" text-anchor="middle" fill="#ffffff" textLength="11.3" lengthAdjust="spacingAndGlyphs" >0.00</text>
<text x="586.89" y="23.03" font-size="5.9" text-anchor="middle" fill="#ffffff" textLength="11.3" lengthAdjust="spacingAndGlyphs" >0.01</text>
<text x="600.55" y="23.03" font-size="5.9" text-anchor="middle" fill="#ffffff" textLength="11.3" lengthAdjust="spacingAndGlyphs" >0.00</text>
<text x="614.21" y="23.03" font-size="5.9" text-anchor="middle" fill="#ffffff" textLength="11.3" lengthAdjust="spacingAndGlyphs" >0.01</text>
<text x="627.87" y="23.03" font-size="5.9" text-anchor="middle" fill="#ffffff" textLength="11.3" lengthAdjust="spacingAndGlyphs" >0.00</text>
<text x="504.93" y="36.69" font-size="5.9" text-anchor="middle" fill="#ffffff" textLength="11.3" lengthAdjust="spacingAndGlyphs" >0.00</text>
<text x="518.59" y="36.69" font-size="5.9" text-anchor="middle" fill="#3c3c28" textLength="11.3" lengthAdjust="spacingAndGlyphs" >0.99</text>
<text x="532.25" y="36.69" font-size="5.9" text-anchor="middle" fill="#ffffff" textLength="11.3" lengthAdjust="spacingAndGlyphs" >0.00</text>
<text x="545.91" y="36.69" font-size="5.9" text-anchor="middle" fill="#ffffff" textLength="11.3" lengthAdjust="spacingAndGlyphs" >0.00</text>
<text x="559.57" y="36.69" font-size="5.9" text-anchor="middle" fill="#ffffff" textLength="11.3" lengthAdjust="spacingAndGlyphs" >0.00</text>
<text x="573.23" y="36.69" font-size="5.9" text-anchor="middle" fill="#ffffff" textLength="11.3" lengthAdjust="spacingAndGlyphs" >0.00</text>
<text x="586.89" y="36.69" font-size="5.9" text-anchor="middle" fill="#ffffff" textLength="11.3" lengthAdjust="spacingAndGlyphs" >0.00</text>
<text x="600.55" y="36.69" font-size="5.9" text-anchor="middle" fill="#ffffff" textLength="11.3" lengthAdjust="spacingAndGlyphs" >0.00</text>
<text x="614.21" y="36.69" font-size="5.9" text-anchor="middle" fill="#ffffff" textLength="11.3" lengthAdjust="spacingAndGlyphs" >0.00</text>
<text x="627.87" y="36.69" font-size="5.9" text-anchor="middle" fill="#ffffff" textLength="11.3" lengthAdjust="spacingAndGlyphs" >0.01</text>
<text x="504.93" y="50.35" font-size="5.9" text-anchor="middle" fill="#ffffff" textLength="11.3" lengthAdjust="spacingAndGlyphs" >0.00</text>
<text x="518.59" y="50.35" font-size="5.9" text-anchor="middle" fill="#ffffff" textLength="11.3" lengthAdjust="spacingAndGlyphs" >0.00</text>
<text x="532.25" y="50.35" font-size="5.9" text-anchor="middle" fill="#3c3c28" textLength="11.3" lengthAdjust="spacingAndGlyphs" >0.97</text>
<text x="545.91" y="50.35" font-size="5.9" text-anchor="middle" fill="#ffffff" textLength="11.3" lengthAdjust="spacingAndGlyphs" >0.01</text>
<text x="559.57" y="50.35" font-size="5.9" text-anchor="middle" fill="#ffffff" textLength="11.3" lengthAdjust="spacingAndGlyphs" >0.01</text>
<text x="573.23" y="50.35" font-size="5.9" text-anchor="middle" fill="#ffffff" textLength="11.3" lengthAdjust="spacingAndGlyphs" >0.00</text>
<text x="586.89" y="50.35" font-size="5.9" text-anchor="middle" fill="#ffffff" textLength="11.3" lengthAdjust="spacingAndGlyphs" >0.00</text>
<text x="600.55" y="50.35" font-size="5.9" text-anchor="middle" fill="#ffffff" textLength="11.3" lengthAdjust="spacingAndGlyphs" >0.01</text>
<text x="614.21" y="50.35" font-size="5.9" text-anchor="middle" fill="#ffffff" textLength="11.3" lengthAdjust="spacingAndGlyphs" >0.01</text>
<text x="627.87" y="50.35" font-size="5.9" text-anchor="middle" fill="#ffffff" textLength="11.3" lengthAdjust="spacingAndGlyphs" >0.00</text>
<text x="504.93" y="64.01" font-size="5.9" text-anchor="middle" fill="#ffffff" textLength="11.3" lengthAdjust="spacingAndGlyphs" >0.00</text>
<text x="518.59" y="64.01" font-size="5.9" text-anchor="middle" fill="#ffffff" textLength="11.3" lengthAdjust="spacingAndGlyphs" >0.00</text>
<text x="532.25" y="64.01" font-size="5.9" text-anchor="middle" fill="#ffffff" textLength="11.3" lengthAdjust="spacingAndGlyphs" >0.00</text>
<text x="545.91" y="64.01" font-size="5.9" text-anchor="middle" fill="#3c3c28" textLength="11.3" lengthAdjust="spacingAndGlyphs" >0.97</text>
<text x="559.57" y="64.01" font-size="5.9" text-anchor="middle" fill="#ffffff" textLength="11.3" lengthAdjust="spacingAndGlyphs" >0.00</text>
<text x="573.23" y="64.01" font-size="5.9" text-anchor="middle" fill="#ffffff" textLength="11.3" lengthAdjust="spacingAndGlyphs" >0.01</text>
<text x="586.89" y="64.01" font-size="5.9" text-anchor="middle" fill="#ffffff" textLength="11.3" lengthAdjust="spacingAndGlyphs" >0.00</text>
<text x="600.55" y="64.01" font-size="5.9" text-anchor="middle" fill="#ffffff" textLength="11.3" lengthAdjust="spacingAndGlyphs" >0.00</text>
<text x="614.21" y="64.01" font-size="5.9" text-anchor="middle" fill="#ffffff" textLength="11.3" lengthAdjust="spacingAndGlyphs" >0.01</text>
<text x="627.87" y="64.01" font-size="5.9" text-anchor="middle" fill="#ffffff" textLength="11.3" lengthAdjust="spacingAndGlyphs" >0.01</text>
<text x="504.93" y="77.67" font-size="5.9" text-anchor="middle" fill="#ffffff" textLength="11.3" lengthAdjust="spacingAndGlyphs" >0.00</text>
<text x="518.59" y="77.67" font-size="5.9" text-anchor="middle" fill="#ffffff" textLength="11.3" lengthAdjust="spacingAndGlyphs" >0.00</text>
<text x="532.25" y="77.67" font-size="5.9" text-anchor="middle" fill="#ffffff" textLength="11.3" lengthAdjust="spacingAndGlyphs" >0.00</text>
<text x="545.91" y="77.67" font-size="5.9" text-anchor="middle" fill="#ffffff" textLength="11.3" lengthAdjust="spacingAndGlyphs" >0.00</text>
<text x="559.57" y="77.67" font-size="5.9" text-anchor="middle" fill="#3c3c28" textLength="11.3" lengthAdjust="spacingAndGlyphs" >0.98</text>
<text x="573.23" y="77.67" font-size="5.9" text-anchor="middle" fill="#ffffff" textLength="11.3" lengthAdjust="spacingAndGlyphs" >0.00</text>
<text x="586.89" y="77.67" font-size="5.9" text-anchor="middle" fill="#ffffff" textLength="11.3" lengthAdjust="spacingAndGlyphs" >0.00</text>
<text x="600.55" y="77.67" font-size="5.9" text-anchor="middle" fill="#ffffff" textLength="11.3" lengthAdjust="spacingAndGlyphs" >0.00</text>
<text x="614.21" y="77.67" font-size="5.9" text-anchor="middle" fill="#ffffff" textLength="11.3" lengthAdjust="spacingAndGlyphs" >0.00</text>
<text x="627.87" y="77.67" font-size="5.9" text-anchor="middle" fill="#ffffff" textLength="11.3" lengthAdjust="spacingAndGlyphs" >0.01</text>
<text x="504.93" y="91.33" font-size="5.9" text-anchor="middle" fill="#ffffff" textLength="11.3" lengthAdjust="spacingAndGlyphs" >0.00</text>
<text x="518.59" y="91.33" font-size="5.9" text-anchor="middle" fill="#ffffff" textLength="11.3" lengthAdjust="spacingAndGlyphs" >0.00</text>
<text x="532.25" y="91.33" font-size="5.9" text-anchor="middle" fill="#ffffff" textLength="11.3" lengthAdjust="spacingAndGlyphs" >0.00</text>
<text x="545.91" y="91.33" font-size="5.9" text-anchor="middle" fill="#ffffff" textLength="11.3" lengthAdjust="spacingAndGlyphs" >0.00</text>
<text x="559.57" y="91.33" font-size="5.9" text-anchor="middle" fill="#ffffff" textLength="11.3" lengthAdjust="spacingAndGlyphs" >0.00</text>
<text x="573.23" y="91.33" font-size="5.9" text-anchor="middle" fill="#3c3c28" textLength="11.3" lengthAdjust="spacingAndGlyphs" >0.98</text>
<text x="586.89" y="91.33" font-size="5.9" text-anchor="middle" fill="#ffffff" textLength="11.3" lengthAdjust="spacingAndGlyphs" >0.00</text>
<text x="600.55" y="91.33" font-size="5.9" text-anchor="middle" fill="#ffffff" textLength="11.3" lengthAdjust="spacingAndGlyphs" >0.00</text>
<text x="614.21" y="91.33" font-size="5.9" text-anchor="middle" fill="#ffffff" textLength="11.3" lengthAdjust="spacingAndGlyphs" >0.01</text>
<text x="627.87" y="91.33" font-size="5.9" text-anchor="middle" fill="#ffffff" textLength="11.3" lengthAdjust="spacingAndGlyphs" >0.01</text>
<text x="504.93" y="104.99" font-size="5.9" text-anchor="middle" fill="#ffffff" textLength="11.3" lengthAdjust="spacingAndGlyphs" >0.00</text>
<text x="518.59" y="104.99" font-size="5.9" text-anchor="middle" fill="#ffffff" textLength="11.3" lengthAdjust="spacingAndGlyphs" >0.00</text>
<text x="532.25" y="104.99" font-size="5.9" text-anchor="middle" fill="#ffffff" textLength="11.3" lengthAdjust="spacingAndGlyphs" >0.00</text>
<text x="545.91" y="104.99" font-size="5.9" text-anchor="middle" fill="#ffffff" textLength="11.3" lengthAdjust="spacingAndGlyphs" >0.00</text>
<text x="559.57" y="104.99" font-size="5.9" text-anchor="middle" fill="#ffffff" textLength="11.3" lengthAdjust="spacingAndGlyphs" >0.00</text>
<text x="573.23" y="104.99" font-size="5.9" text-anchor="middle" fill="#ffffff" textLength="11.3" lengthAdjust="spacingAndGlyphs" >0.01</text>
<text x="586.89" y="104.99" font-size="5.9" text-anchor="middle" fill="#3c3c28" textLength="11.3" lengthAdjust="spacingAndGlyphs" >0.98</text>
<text x="600.55" y="104.99" font-size="5.9" text-anchor="middle" fill="#ffffff" textLength="11.3" lengthAdjust="spacingAndGlyphs" >0.00</text>
<text x="614.21" y="104.99" font-size="5.9" text-anchor="middle" fill="#ffffff" textLength="11.3" lengthAdjust="spacingAndGlyphs" >0.01</text>
<text x="627.87" y="104.99" font-size="5.9" text-anchor="middle" fill="#ffffff" textLength="11.3" lengthAdjust="spacingAndGlyphs" >0.00</text>
<text x="504.93" y="118.65" font-size="5.9" text-anchor="middle" fill="#ffffff" textLength="11.3" lengthAdjust="spacingAndGlyphs" >0.00</text>
<text x="518.59" y="118.65" font-size="5.9" text-anchor="middle" fill="#ffffff" textLength="11.3" lengthAdjust="spacingAndGlyphs" >0.00</text>
<text x="532.25" y="118.65" font-size="5.9" text-anchor="middle" fill="#ffffff" textLength="11.3" lengthAdjust="spacingAndGlyphs" >0.00</text>
<text x="545.91" y="118.65" font-size="5.9" text-anchor="middle" fill="#ffffff" textLength="11.3" lengthAdjust="spacingAndGlyphs" >0.00</text>
<text x="559.57" y="118.65" font-size="5.9" text-anchor="middle" fill="#ffffff" textLength="11.3" lengthAdjust="spacingAndGlyphs" >0.00</text>
<text x="573.23" y="118.65" font-size="5.9" text-anchor="middle" fill="#ffffff" textLength="11.3" lengthAdjust="spacingAndGlyphs" >0.00</text>
<text x="586.89" y="118.65" font-size="5.9" text-anchor="middle" fill="#ffffff" textLength="11.3" lengthAdjust="spacingAndGlyphs" >0.00</text>
<text x="600.55" y="118.65" font-size="5.9" text-anchor="middle" fill="#3c3c28" textLength="11.3" lengthAdjust="spacingAndGlyphs" >0.98</text>
<text x="614.21" y="118.65" font-size="5.9" text-anchor="middle" fill="#ffffff" textLength="11.3" lengthAdjust="spacingAndGlyphs" >0.00</text>
<text x="627.87" y="118.65" font-size="5.9" text-anchor="middle" fill="#ffffff" textLength="11.3" lengthAdjust="spacingAndGlyphs" >0.01</text>
<text x="504.93" y="132.31" font-size="5.9" text-anchor="middle" fill="#ffffff" textLength="11.3" lengthAdjust="spacingAndGlyphs" >0.00</text>
<text x="518.59" y="132.31" font-size="5.9" text-anchor="middle" fill="#ffffff" textLength="11.3" lengthAdjust="spacingAndGlyphs" >0.00</text>
<text x="532.25" y="132.31" font-size="5.9" text-anchor="middle" fill="#ffffff" textLength="11.3" lengthAdjust="spacingAndGlyphs" >0.01</text>
<text x="545.91" y="132.31" font-size="5.9" text-anchor="middle" fill="#ffffff" textLength="11.3" lengthAdjust="spacingAndGlyphs" >0.01</text>
<text x="559.57" y="132.31" font-size="5.9" text-anchor="middle" fill="#ffffff" textLength="11.3" lengthAdjust="spacingAndGlyphs" >0.00</text>
<text x="573.23" y="132.31" font-size="5.9" text-anchor="middle" fill="#ffffff" textLength="11.3" lengthAdjust="spacingAndGlyphs" >0.01</text>
<text x="586.89" y="132.31" font-size="5.9" text-anchor="middle" fill="#ffffff" textLength="11.3" lengthAdjust="spacingAndGlyphs" >0.01</text>
<text x="600.55" y="132.31" font-size="5.9" text-anchor="middle" fill="#ffffff" textLength="11.3" lengthAdjust="spacingAndGlyphs" >0.00</text>
<text x="614.21" y="132.31" font-size="5.9" text-anchor="middle" fill="#3c3c28" textLength="11.3" lengthAdjust="spacingAndGlyphs" >0.95</text>
<text x="627.87" y="132.31" font-size="5.9" text-anchor="middle" fill="#ffffff" textLength="11.3" lengthAdjust="spacingAndGlyphs" >0.01</text>
<text x="504.93" y="145.97" font-size="5.9" text-anchor="middle" fill="#ffffff" textLength="11.3" lengthAdjust="spacingAndGlyphs" >0.00</text>
<text x="518.59" y="145.97" font-size="5.9" text-anchor="middle" fill="#ffffff" textLength="11.3" lengthAdjust="spacingAndGlyphs" >0.00</text>
<text x="532.25" y="145.97" font-size="5.9" text-anchor="middle" fill="#ffffff" textLength="11.3" lengthAdjust="spacingAndGlyphs" >0.00</text>
<text x="545.91" y="145.97" font-size="5.9" text-anchor="middle" fill="#ffffff" textLength="11.3" lengthAdjust="spacingAndGlyphs" >0.00</text>
<text x="559.57" y="145.97" font-size="5.9" text-anchor="middle" fill="#ffffff" textLength="11.3" lengthAdjust="spacingAndGlyphs" >0.01</text>
<text x="573.23" y="145.97" font-size="5.9" text-anchor="middle" fill="#ffffff" textLength="11.3" lengthAdjust="spacingAndGlyphs" >0.01</text>
<text x="586.89" y="145.97" font-size="5.9" text-anchor="middle" fill="#ffffff" textLength="11.3" lengthAdjust="spacingAndGlyphs" >0.00</text>
<text x="600.55" y="145.97" font-size="5.9" text-anchor="middle" fill="#ffffff" textLength="11.3" lengthAdjust="spacingAndGlyphs" >0.01</text>
<text x="614.21" y="145.97" font-size="5.9" text-anchor="middle" fill="#ffffff" textLength="11.3" lengthAdjust="spacingAndGlyphs" >0.01</text>
<text x="627.87" y="145.97" font-size="5.9" text-anchor="middle" fill="#3c3c28" textLength="11.3" lengthAdjust="spacingAndGlyphs" >0.97</text>
<line x1="494.6" y1="20.93" x2="498.1" y2="20.93" stroke="#333333" stroke-width="0.8" />
<text x="0" y="0" font-size="10.3" text-anchor="middle" fill="#262626" transform="translate(491.1,20.93) rotate(-90)">0</text>
<line x1="504.93" y1="150.7" x2="504.93" y2="154.2" stroke="#333333" stroke-width="0.8" />
<text x="504.93" y="163.8" font-size="10.3" text-anchor="middle" fill="#262626" >0</text>
<line x1="494.6" y1="34.59" x2="498.1" y2="34.59" stroke="#333333" stroke-width="0.8" />
<text x="0" y="0" font-size="10.3" text-anchor="middle" fill="#262626" transform="translate(491.1,34.59) rotate(-90)">1</text>
<line x1="518.59" y1="150.7" x2="518.59" y2="154.2" stroke="#333333" stroke-width="0.8" />
<text x="518.59" y="163.8" font-size="10.3" text-anchor="middle" fill="#262626" >1</text>
<line x1="494.6" y1="48.25" x2="498.1" y2="48.25" stroke="#333333" stroke-width="0.8" />
<text x="0" y="0" font-size="10.3" text-anchor="middle" fill="#262626" transform="translate(491.1,48.25) rotate(-90)">2</text>
<line x1="532.25" y1="150.7" x2="532.25" y2="154.2" stroke="#333333" stroke-width="0.8" />
<text x="532.25" y="163.8" font-size="10.3" text-anchor="middle" fill="#262626" >2</text>
<line x1="494.6" y1="61.91" x2="498.1" y2="61.91" stroke="#333333" stroke-width="0.8" />
<text x="0" y="0" font-size="10.3" text-anchor="middle" fill="#262626" transform="translate(491.1,61.91) rotate(-90)">3</text>
<line x1="545.91" y1="150.7" x2="545.91" y2="154.2" stroke="#333333" stroke-width="0.8" />
<text x="545.91" y="163.8" font-size="10.3" text-anchor="middle" fill="#262626" >3</text>
<line x1="494.6" y1="75.57" x2="498.1" y2="75.57" stroke="#333333" stroke-width="0.8" />
<text x="0" y="0" font-size="10.3" text-anchor="middle" fill="#262626" transform="translate(491.1,75.57) rotate(-90)">4</text>
<line x1="559.57" y1="150.7" x2="559.57" y2="154.2" stroke="#333333" stroke-width="0.8" />
<text x="559.57" y="163.8" font-size="10.3" text-anchor="middle" fill="#262626" >4</text>
<line x1="494.6" y1="89.23" x2="498.1" y2="89.23" stroke="#333333" stroke-width="0.8" />
<text x="0" y="0" font-size="10.3" text-anchor="middle" fill="#262626" transform="translate(491.1,89.23) rotate(-90)">5</text>
<line x1="573.23" y1="150.7" x2="573.23" y2="154.2" stroke="#333333" stroke-width="0.8" />
<text x="573.23" y="163.8" font-size="10.3" text-anchor="middle" fill="#262626" >5</text>
<line x1="494.6" y1="102.89" x2="498.1" y2="102.89" stroke="#333333" stroke-width="0.8" />
<text x="0" y="0" font-size="10.3" text-anchor="middle" fill="#262626" transform="translate(491.1,102.89) rotate(-90)">6</text>
<line x1="586.89" y1="150.7" x2="586.89" y2="154.2" stroke="#333333" stroke-width="0.8" />
<text x="586.89" y="163.8" font-size="10.3" text-anchor="middle" fill="#262626" >6</text>
<line x1="494.6" y1="116.55" x2="498.1" y2="116.55" stroke="#333333" stroke-width="0.8" />
<text x="0" y="0" font-size="10.3" text-anchor="middle" fill="#262626" transform="translate(491.1,116.55) rotate(-90)">7</text>
<line x1="600.55" y1="150.7" x2="600.55" y2="154.2" stroke="#333333" stroke-width="0.8" />
<text x="600.55" y="163.8" font-size="10.3" text-anchor="middle" fill="#262626" >7</text>
<line x1="494.6" y1="130.21" x2="498.1" y2="130.21" stroke="#333333" stroke-width="0.8" />
<text x="0" y="0" font-size="10.3" text-anchor="middle" fill="#262626" transform="translate(491.1,130.21) rotate(-90)">8</text>
<line x1="614.21" y1="150.7" x2="614.21" y2="154.2" stroke="#333333" stroke-width="0.8" />
<text x="614.21" y="163.8" font-size="10.3" text-anchor="middle" fill="#262626" >8</text>
<line x1="494.6" y1="143.87" x2="498.1" y2="143.87" stroke="#333333" stroke-width="0.8" />
<text x="0" y="0" font-size="10.3" text-anchor="middle" fill="#262626" transform="translate(491.1,143.87) rotate(-90)">9</text>
<line x1="627.87" y1="150.7" x2="627.87" y2="154.2" stroke="#333333" stroke-width="0.8" />
<text x="627.87" y="163.8" font-size="10.3" text-anchor="middle" fill="#262626" >9</text>
<text x="566.5" y="175.6" font-size="9.9" text-anchor="middle" fill="#262626" textLength="65" lengthAdjust="spacingAndGlyphs" >Predicted Label</text>
<text x="0" y="0" font-size="9.3" text-anchor="middle" fill="#262626" textLength="52.6" lengthAdjust="spacingAndGlyphs" transform="translate(478.6,82.1) rotate(-90)">Actual Label</text>
<defs><filter id="dblur" x="-10%" y="-10%" width="120%" height="120%"><feGaussianBlur stdDeviation="0.35"/></filter></defs>
<defs><linearGradient id="cb" x1="0" y1="0" x2="0" y2="1"><stop offset="0" stop-color="#fcffa4"/><stop offset="0.05" stop-color="#f1ef75"/><stop offset="0.1" stop-color="#f6d746"/><stop offset="0.15" stop-color="#fbbe23"/><stop offset="0.2" stop-color="#fca50a"/><stop offset="0.25" stop-color="#f98e09"/><stop offset="0.3" stop-color="#f37819"/><stop offset="0.35" stop-color="#ea632a"/><stop offset="0.4" stop-color="#dd513a"/><stop offset="0.45" stop-color="#cc4248"/><stop offset="0.5" stop-color="#bc3754"/><stop offset="0.55" stop-color="#a82e5f"/><stop offset="0.6" stop-color="#932667"/><stop offset="0.65" stop-color="#7f1e6c"/><stop offset="0.7" stop-color="#6a176e"/><stop offset="0.75" stop-color="#57106e"/><stop offset="0.8" stop-color="#420a68"/><stop offset="0.85" stop-color="#2b0b57"/><stop offset="0.9" stop-color="#160b39"/><stop offset="0.95" stop-color="#07051b"/><stop offset="1" stop-color="#000004"/></linearGradient></defs>
<rect x="644.7" y="14.1" width="7.6" height="136.5" fill="url(#cb)"/>
<line x1="652.3" y1="150.6" x2="655.3" y2="150.6" stroke="#333333" stroke-width="0.8" />
<text x="657.6" y="154.1" font-size="10.3" text-anchor="start" fill="#262626" textLength="13.3" lengthAdjust="spacingAndGlyphs" >0.0</text>
<line x1="652.3" y1="123.3" x2="655.3" y2="123.3" stroke="#333333" stroke-width="0.8" />
<text x="657.6" y="126.8" font-size="10.3" text-anchor="start" fill="#262626" textLength="13.3" lengthAdjust="spacingAndGlyphs" >0.2</text>
<line x1="652.3" y1="96" x2="655.3" y2="96" stroke="#333333" stroke-width="0.8" />
<text x="657.6" y="99.5" font-size="10.3" text-anchor="start" fill="#262626" textLength="13.3" lengthAdjust="spacingAndGlyphs" >0.4</text>
<line x1="652.3" y1="68.7" x2="655.3" y2="68.7" stroke="#333333" stroke-width="0.8" />
<text x="657.6" y="72.2" font-size="10.3" text-anchor="start" fill="#262626" textLength="13.3" lengthAdjust="spacingAndGlyphs" >0.6</text>
<line x1="652.3" y1="41.4" x2="655.3" y2="41.4" stroke="#333333" stroke-width="0.8" />
<text x="657.6" y="44.9" font-size="10.3" text-anchor="start" fill="#262626" textLength="13.3" lengthAdjust="spacingAndGlyphs" >0.8</text>
<line x1="652.3" y1="14.1" x2="655.3" y2="14.1" stroke="#333333" stroke-width="0.8" />
<text x="657.6" y="17.6" font-size="10.3" text-anchor="start" fill="#262626" textLength="13.3" lengthAdjust="spacingAndGlyphs" >1.0</text>
<text x="0" y="0" font-size="9.3" text-anchor="middle" fill="#262626" textLength="104.5" lengthAdjust="spacingAndGlyphs" transform="translate(680.8,81.0) rotate(-90)">Fraction of Test Samples</text>
<line x1="16.6" y1="183.1" x2="16.6" y2="316.4" stroke="#333333" stroke-width="0.8" />
<line x1="16.2" y1="316" x2="223.5" y2="316" stroke="#333333" stroke-width="0.8" />
<line x1="25.6" y1="316" x2="25.6" y2="319.5" stroke="#333333" stroke-width="0.8" />
<text x="25.6" y="328.9" font-size="10.4" text-anchor="middle" fill="#262626" textLength="18.4" lengthAdjust="spacingAndGlyphs" >0.00</text>
<line x1="63.16" y1="316" x2="63.16" y2="319.5" stroke="#333333" stroke-width="0.8" />
<text x="63.16" y="328.9" font-size="10.4" text-anchor="middle" fill="#262626" textLength="18.4" lengthAdjust="spacingAndGlyphs" >0.01</text>
<line x1="100.72" y1="316" x2="100.72" y2="319.5" stroke="#333333" stroke-width="0.8" />
<text x="100.72" y="328.9" font-size="10.4" text-anchor="middle" fill="#262626" textLength="18.4" lengthAdjust="spacingAndGlyphs" >0.02</text>
<line x1="138.28" y1="316" x2="138.28" y2="319.5" stroke="#333333" stroke-width="0.8" />
<text x="138.28" y="328.9" font-size="10.4" text-anchor="middle" fill="#262626" textLength="18.4" lengthAdjust="spacingAndGlyphs" >0.03</text>
<line x1="175.84" y1="316" x2="175.84" y2="319.5" stroke="#333333" stroke-width="0.8" />
<text x="175.84" y="328.9" font-size="10.4" text-anchor="middle" fill="#262626" textLength="18.4" lengthAdjust="spacingAndGlyphs" >0.04</text>
<line x1="213.4" y1="316" x2="213.4" y2="319.5" stroke="#333333" stroke-width="0.8" />
<text x="213.4" y="328.9" font-size="10.4" text-anchor="middle" fill="#262626" textLength="18.4" lengthAdjust="spacingAndGlyphs" >0.05</text>
<text x="120.45" y="338.6" font-size="9.6" text-anchor="middle" fill="#262626" textLength="16.2" lengthAdjust="spacingAndGlyphs" ><tspan font-style="italic">t</tspan> [s]</text>
<line x1="229.9" y1="183.1" x2="229.9" y2="316.4" stroke="#333333" stroke-width="0.8" />
<line x1="229.5" y1="316" x2="436.7" y2="316" stroke="#333333" stroke-width="0.8" />
<line x1="239.5" y1="316" x2="239.5" y2="319.5" stroke="#333333" stroke-width="0.8" />
<text x="239.5" y="328.9" font-size="10.4" text-anchor="middle" fill="#262626" textLength="18.4" lengthAdjust="spacingAndGlyphs" >0.00</text>
<line x1="277.08" y1="316" x2="277.08" y2="319.5" stroke="#333333" stroke-width="0.8" />
<text x="277.08" y="328.9" font-size="10.4" text-anchor="middle" fill="#262626" textLength="18.4" lengthAdjust="spacingAndGlyphs" >0.01</text>
<line x1="314.66" y1="316" x2="314.66" y2="319.5" stroke="#333333" stroke-width="0.8" />
<text x="314.66" y="328.9" font-size="10.4" text-anchor="middle" fill="#262626" textLength="18.4" lengthAdjust="spacingAndGlyphs" >0.02</text>
<line x1="352.24" y1="316" x2="352.24" y2="319.5" stroke="#333333" stroke-width="0.8" />
<text x="352.24" y="328.9" font-size="10.4" text-anchor="middle" fill="#262626" textLength="18.4" lengthAdjust="spacingAndGlyphs" >0.03</text>
<line x1="389.82" y1="316" x2="389.82" y2="319.5" stroke="#333333" stroke-width="0.8" />
<text x="389.82" y="328.9" font-size="10.4" text-anchor="middle" fill="#262626" textLength="18.4" lengthAdjust="spacingAndGlyphs" >0.04</text>
<line x1="427.4" y1="316" x2="427.4" y2="319.5" stroke="#333333" stroke-width="0.8" />
<text x="427.4" y="328.9" font-size="10.4" text-anchor="middle" fill="#262626" textLength="18.4" lengthAdjust="spacingAndGlyphs" >0.05</text>
<text x="333.7" y="338.6" font-size="9.6" text-anchor="middle" fill="#262626" textLength="16.2" lengthAdjust="spacingAndGlyphs" ><tspan font-style="italic">t</tspan> [s]</text>
<line x1="441.6" y1="183.1" x2="441.6" y2="316.4" stroke="#333333" stroke-width="0.8" />
<line x1="441.2" y1="316" x2="648.5" y2="316" stroke="#333333" stroke-width="0.8" />
<line x1="450.5" y1="316" x2="450.5" y2="319.5" stroke="#333333" stroke-width="0.8" />
<text x="450.5" y="328.9" font-size="10.4" text-anchor="middle" fill="#262626" textLength="18.4" lengthAdjust="spacingAndGlyphs" >0.00</text>
<line x1="488.1" y1="316" x2="488.1" y2="319.5" stroke="#333333" stroke-width="0.8" />
<text x="488.1" y="328.9" font-size="10.4" text-anchor="middle" fill="#262626" textLength="18.4" lengthAdjust="spacingAndGlyphs" >0.01</text>
<line x1="525.7" y1="316" x2="525.7" y2="319.5" stroke="#333333" stroke-width="0.8" />
<text x="525.7" y="328.9" font-size="10.4" text-anchor="middle" fill="#262626" textLength="18.4" lengthAdjust="spacingAndGlyphs" >0.02</text>
<line x1="563.3" y1="316" x2="563.3" y2="319.5" stroke="#333333" stroke-width="0.8" />
<text x="563.3" y="328.9" font-size="10.4" text-anchor="middle" fill="#262626" textLength="18.4" lengthAdjust="spacingAndGlyphs" >0.03</text>
<line x1="600.9" y1="316" x2="600.9" y2="319.5" stroke="#333333" stroke-width="0.8" />
<text x="600.9" y="328.9" font-size="10.4" text-anchor="middle" fill="#262626" textLength="18.4" lengthAdjust="spacingAndGlyphs" >0.04</text>
<line x1="638.5" y1="316" x2="638.5" y2="319.5" stroke="#333333" stroke-width="0.8" />
<text x="638.5" y="328.9" font-size="10.4" text-anchor="middle" fill="#262626" textLength="18.4" lengthAdjust="spacingAndGlyphs" >0.05</text>
<text x="545.45" y="338.6" font-size="9.6" text-anchor="middle" fill="#262626" textLength="16.2" lengthAdjust="spacingAndGlyphs" ><tspan font-style="italic">t</tspan> [s]</text>
<text x="0" y="0" font-size="9.3" text-anchor="middle" fill="#262626" transform="translate(11.6,249.9) rotate(-90)">V</text>
<polyline points="25.6,266.2 26.35,266.2 27.1,266.2 27.85,266.2 28.6,266.2 29.35,266.2 30.1,266.2 30.85,266.2 31.6,266.2 32.35,266.2 33.1,266.2 33.85,266.2 34.6,266.29 35.35,266.39 36.1,266.55 36.85,266.77 37.6,267.05 38.35,267.38 39.1,267.75 39.85,268.17 40.6,268.65 41.35,269.19 42.1,269.81 42.85,270.48 43.6,271.19 44.35,271.93 45.1,272.69 45.85,273.45 46.6,274.23 47.35,275.01 48.1,275.82 48.85,276.64 49.6,277.48 50.35,278.32 51.1,279.17 51.85,280.01 52.6,280.85 53.35,281.67 54.1,282.47 54.85,283.26 55.6,284.04 56.35,284.8 57.1,285.57 57.85,286.32 58.6,287.06 59.35,287.8 60.1,288.52 60.85,289.24 61.6,289.94 62.35,290.64 63.1,291.33 63.85,292.02 64.6,292.7 65.35,293.38 66.1,294.04 66.85,294.69 67.6,295.32 68.35,295.92 69.1,296.5 69.85,297.04 70.6,297.56 71.35,298.05 72.1,298.52 72.85,298.97 73.6,299.4 74.35,299.81 75.1,300.22 75.85,300.61 76.6,300.99 77.35,301.37 78.1,301.75 78.85,302.11 79.6,302.47 80.35,302.83 81.1,303.18 81.85,303.52 82.6,303.86 83.35,304.19 84.1,304.51 84.85,304.82 85.6,305.13 86.35,305.43 87.1,305.73 87.85,306.02 88.6,306.3 89.35,306.58 90.1,306.85 90.85,307.11 91.6,307.37 92.35,307.62 93.1,307.86 93.85,308.1 94.6,308.33 95.35,308.57 96.1,308.81 96.85,309.05 97.6,309.28 98.35,309.51 99.1,309.71 99.85,309.89 100.6,310.04 101.35,310.14 102.1,310.2 102.85,310.2 103.6,310.15 104.35,310.03 105.1,309.87 105.85,309.67 106.6,309.45 107.35,309.2 108.1,308.94 108.85,308.69 109.6,308.44 110.35,308.2 111.1,307.96 111.85,307.72 112.6,307.48 113.35,307.24 114.1,306.99 114.85,306.74 115.6,306.48 116.35,306.23 117.1,305.98 117.85,305.72 118.6,305.47 119.35,305.22 120.1,304.97 120.85,304.72 121.6,304.47 122.35,304.22 123.1,303.97 123.85,303.71 124.6,303.46 125.35,303.21 126.1,302.95 126.85,302.7 127.6,302.44 128.35,302.18 129.1,301.91 129.85,301.65 130.6,301.38 131.35,301.11 132.1,300.84 132.85,300.56 133.6,300.28 134.35,300 135.1,299.72 135.85,299.43 136.6,299.15 137.35,298.86 138.1,298.58 138.85,298.29 139.6,298 140.35,297.71 141.1,297.42 141.85,297.14 142.6,296.85 143.35,296.56 144.1,296.28 144.85,295.99 145.6,295.71 146.35,295.42 147.1,295.13 147.85,294.84 148.6,294.55 149.35,294.26 150.1,293.97 150.85,293.67 151.6,293.39 152.35,293.1 153.1,292.82 153.85,292.54 154.6,292.27 155.35,292 156.1,291.74 156.85,291.49 157.6,291.24 158.35,291 159.1,290.76 159.85,290.53 160.6,290.29 161.35,290.06 162.1,289.83 162.85,289.61 163.6,289.38 164.35,289.16 165.1,288.94 165.85,288.73 166.6,288.52 167.35,288.31 168.1,288.1 168.85,287.89 169.6,287.69 170.35,287.49 171.1,287.29 171.85,287.09 172.6,286.9 173.35,286.71 174.1,286.52 174.85,286.33 175.6,286.15 176.35,285.97 177.1,285.79 177.85,285.61 178.6,285.44 179.35,285.26 180.1,285.09 180.85,284.92 181.6,284.76 182.35,284.59 183.1,284.43 183.85,284.27 184.6,284.11 185.35,283.95 186.1,283.79 186.85,283.64 187.6,283.48 188.35,283.33 189.1,283.18 189.85,283.03 190.6,282.88 191.35,282.74 192.1,282.59 192.85,282.45 193.6,282.3 194.35,282.16 195.1,282.02 195.85,281.88 196.6,281.74 197.35,281.6 198.1,281.47 198.85,281.33 199.6,281.19 200.35,281.06 201.1,280.93 201.85,280.8 202.6,280.66 203.35,280.53 204.1,280.41 204.85,280.28 205.6,280.15 206.35,280.03 207.1,279.9 207.85,279.78 208.6,279.66 209.35,279.54 210.1,279.42 210.85,279.31 211.6,279.2 212.35,279.1 213.1,279.01 213.5,278.96" fill="none" stroke="#1f77b4" stroke-width="1.3" stroke-linejoin="round" stroke-linecap="butt" stroke-dasharray="4.8,2.1" stroke-opacity="0.55"/>
<polyline points="25.6,266.2 26.35,266.2 27.1,266.2 27.85,266.2 28.6,266.2 29.35,266.2 30.1,266.2 30.85,266.2 31.6,266.2 32.35,266.2 33.1,266.2 33.85,266.2 34.6,265.96 35.35,265.68 36.1,265.24 36.85,264.64 37.6,263.91 38.35,263.1 39.1,262.26 39.85,261.43 40.6,260.6 41.35,259.79 42.1,258.97 42.85,258.14 43.6,257.31 44.35,256.47 45.1,255.63 45.85,254.79 46.6,253.95 47.35,253.11 48.1,252.27 48.85,251.43 49.6,250.6 50.35,249.76 51.1,248.94 51.85,248.11 52.6,247.29 53.35,246.47 54.1,245.64 54.85,244.81 55.6,243.97 56.35,243.13 57.1,242.27 57.85,241.41 58.6,240.54 59.35,239.66 60.1,238.77 60.85,237.87 61.6,236.95 62.35,236.01 63.1,235.06 63.85,234.09 64.6,233.12 65.35,232.15 66.1,231.19 66.85,230.25 67.6,229.32 68.35,228.43 69.1,227.56 69.85,226.74 70.6,225.96 71.35,225.21 72.1,224.5 72.85,223.82 73.6,223.16 74.35,222.52 75.1,221.89 75.85,221.25 76.6,220.61 77.35,219.96 78.1,219.28 78.85,218.58 79.6,217.85 80.35,217.1 81.1,216.31 81.85,215.5 82.6,214.68 83.35,213.83 84.1,212.98 84.85,212.12 85.6,211.25 86.35,210.39 87.1,209.52 87.85,208.67 88.6,207.81 89.35,206.96 90.1,206.1 90.85,205.24 91.6,204.38 92.35,203.52 93.1,202.66 93.85,201.82 94.6,201 95.35,200.2 96.1,199.42 96.85,198.66 97.6,197.92 98.35,197.17 99.1,196.43 99.85,195.69 100.6,194.97 101.35,194.27 102.1,193.61 102.85,192.99 103.6,192.42 104.35,191.92 105.1,191.49 105.85,191.13 106.6,190.82 107.35,190.55 108.1,190.32 108.85,190.1 109.6,189.89 110.35,189.7 111.1,189.54 111.85,189.39 112.6,189.26 113.35,189.17 114.1,189.1 114.85,189.06 115.6,189.05 116.35,189.07 117.1,189.12 117.85,189.19 118.6,189.29 119.35,189.41 120.1,189.54 120.85,189.68 121.6,189.84 122.35,190 123.1,190.18 123.85,190.36 124.6,190.56 125.35,190.78 126.1,191.03 126.85,191.3 127.6,191.59 128.35,191.9 129.1,192.23 129.85,192.57 130.6,192.93 131.35,193.31 132.1,193.69 132.85,194.09 133.6,194.49 134.35,194.89 135.1,195.31 135.85,195.74 136.6,196.2 137.35,196.67 138.1,197.17 138.85,197.69 139.6,198.23 140.35,198.77 141.1,199.33 141.85,199.89 142.6,200.46 143.35,201.02 144.1,201.57 144.85,202.12 145.6,202.66 146.35,203.2 147.1,203.73 147.85,204.26 148.6,204.79 149.35,205.32 150.1,205.85 150.85,206.38 151.6,206.9 152.35,207.43 153.1,207.95 153.85,208.46 154.6,208.98 155.35,209.49 156.1,210 156.85,210.51 157.6,211.01 158.35,211.52 159.1,212.02 159.85,212.52 160.6,213.01 161.35,213.51 162.1,213.99 162.85,214.48 163.6,214.95 164.35,215.42 165.1,215.88 165.85,216.34 166.6,216.79 167.35,217.23 168.1,217.67 168.85,218.1 169.6,218.52 170.35,218.94 171.1,219.36 171.85,219.77 172.6,220.18 173.35,220.58 174.1,220.97 174.85,221.36 175.6,221.74 176.35,222.11 177.1,222.48 177.85,222.85 178.6,223.2 179.35,223.55 180.1,223.9 180.85,224.24 181.6,224.58 182.35,224.92 183.1,225.25 183.85,225.58 184.6,225.91 185.35,226.25 186.1,226.58 186.85,226.91 187.6,227.25 188.35,227.59 189.1,227.92 189.85,228.26 190.6,228.6 191.35,228.93 192.1,229.27 192.85,229.59 193.6,229.92 194.35,230.24 195.1,230.56 195.85,230.87 196.6,231.17 197.35,231.46 198.1,231.75 198.85,232.03 199.6,232.3 200.35,232.57 201.1,232.83 201.85,233.09 202.6,233.35 203.35,233.62 204.1,233.88 204.85,234.16 205.6,234.43 206.35,234.72 207.1,235.01 207.85,235.32 208.6,235.63 209.35,235.95 210.1,236.27 210.85,236.6 211.6,236.92 212.35,237.23 213.1,237.5 213.7,237.69" fill="none" stroke="#ff7f0e" stroke-width="1.5" stroke-linejoin="round" stroke-linecap="butt" />
<polyline points="25.6,266.2 26.35,266.2 27.1,266.2 27.85,266.2 28.6,266.2 29.35,266.2 30.1,266.2 30.85,266.2 31.6,266.2 32.35,266.2 33.1,266.2 33.85,266.2 34.6,266.18 35.35,266.16 36.1,266.13 36.85,266.08 37.6,266.01 38.35,265.94 39.1,265.85 39.85,265.75 40.6,265.64 41.35,265.54 42.1,265.42 42.85,265.31 43.6,265.2 44.35,265.09 45.1,264.99 45.85,264.88 46.6,264.78 47.35,264.67 48.1,264.56 48.85,264.45 49.6,264.34 50.35,264.22 51.1,264.1 51.85,263.98 52.6,263.86 53.35,263.74 54.1,263.61 54.85,263.49 55.6,263.36 56.35,263.23 57.1,263.1 57.85,262.98 58.6,262.85 59.35,262.71 60.1,262.58 60.85,262.44 61.6,262.29 62.35,262.14 63.1,261.97 63.85,261.79 64.6,261.61 65.35,261.43 66.1,261.25 66.85,261.07 67.6,260.89 68.35,260.73 69.1,260.57 69.85,260.43 70.6,260.31 71.35,260.21 72.1,260.13 72.85,260.07 73.6,260.04 74.35,260.03 75.1,260.04 75.85,260.07 76.6,260.1 77.35,260.14 78.1,260.18 78.85,260.22 79.6,260.25 80.35,260.26 81.1,260.26 81.85,260.24 82.6,260.19 83.35,260.11 84.1,260.01 84.85,259.9 85.6,259.77 86.35,259.64 87.1,259.5 87.85,259.37 88.6,259.24 89.35,259.13 90.1,259.04 90.85,258.96 91.6,258.9 92.35,258.85 93.1,258.81 93.85,258.77 94.6,258.74 95.35,258.71 96.1,258.68 96.85,258.66 97.6,258.64 98.35,258.62 99.1,258.61 99.85,258.61 100.6,258.62 101.35,258.63 102.1,258.65 102.85,258.67 103.6,258.71 104.35,258.75 105.1,258.8 105.85,258.85 106.6,258.91 107.35,258.97 108.1,259.03 108.85,259.1 109.6,259.17 110.35,259.24 111.1,259.31 111.85,259.38 112.6,259.45 113.35,259.52 114.1,259.59 114.85,259.66 115.6,259.72 116.35,259.78 117.1,259.83 117.85,259.88 118.6,259.92 119.35,259.96 120.1,260 120.85,260.03 121.6,260.06 122.35,260.09 123.1,260.11 123.85,260.14 124.6,260.16 125.35,260.18 126.1,260.21 126.85,260.23 127.6,260.25 128.35,260.27 129.1,260.29 129.85,260.31 130.6,260.33 131.35,260.35 132.1,260.37 132.85,260.39 133.6,260.4 134.35,260.42 135.1,260.44 135.85,260.45 136.6,260.47 137.35,260.48 138.1,260.5 138.85,260.52 139.6,260.53 140.35,260.55 141.1,260.56 141.85,260.57 142.6,260.59 143.35,260.6 144.1,260.62 144.85,260.63 145.6,260.65 146.35,260.66 147.1,260.67 147.85,260.69 148.6,260.7 149.35,260.72 150.1,260.73 150.85,260.75 151.6,260.76 152.35,260.78 153.1,260.79 153.85,260.81 154.6,260.83 155.35,260.84 156.1,260.86 156.85,260.88 157.6,260.89 158.35,260.91 159.1,260.93 159.85,260.95 160.6,260.97 161.35,260.99 162.1,261.01 162.85,261.03 163.6,261.06 164.35,261.08 165.1,261.1 165.85,261.13 166.6,261.15 167.35,261.18 168.1,261.2 168.85,261.23 169.6,261.26 170.35,261.28 171.1,261.31 171.85,261.34 172.6,261.37 173.35,261.39 174.1,261.42 174.85,261.45 175.6,261.48 176.35,261.51 177.1,261.54 177.85,261.57 178.6,261.61 179.35,261.64 180.1,261.67 180.85,261.7 181.6,261.73 182.35,261.77 183.1,261.8 183.85,261.83 184.6,261.87 185.35,261.9 186.1,261.94 186.85,261.97 187.6,262.01 188.35,262.04 189.1,262.08 189.85,262.11 190.6,262.15 191.35,262.19 192.1,262.23 192.85,262.26 193.6,262.3 194.35,262.34 195.1,262.38 195.85,262.42 196.6,262.45 197.35,262.49 198.1,262.53 198.85,262.57 199.6,262.61 200.35,262.65 201.1,262.69 201.85,262.74 202.6,262.78 203.35,262.82 204.1,262.86 204.85,262.9 205.6,262.94 206.35,262.99 207.1,263.03 207.85,263.07 208.6,263.11 209.35,263.16 210.1,263.2 210.85,263.24 211.6,263.29 212.35,263.32 213.1,263.36 213.5,263.38" fill="none" stroke="#2ca02c" stroke-width="1.3" stroke-linejoin="round" stroke-linecap="butt" stroke-dasharray="4.8,2.1" stroke-opacity="0.55"/>
<polyline points="25.6,266.2 26.35,266.2 27.1,266.2 27.85,266.2 28.6,266.2 29.35,266.2 30.1,266.2 30.85,266.2 31.6,266.2 32.35,266.2 33.1,266.2 33.85,266.2 34.6,266.22 35.35,266.25 36.1,266.29 36.85,266.34 37.6,266.41 38.35,266.5 39.1,266.59 39.85,266.69 40.6,266.79 41.35,266.89 42.1,266.98 42.85,267.07 43.6,267.15 44.35,267.2 45.1,267.25 45.85,267.27 46.6,267.28 47.35,267.27 48.1,267.25 48.85,267.21 49.6,267.17 50.35,267.13 51.1,267.07 51.85,267.01 52.6,266.94 53.35,266.88 54.1,266.8 54.85,266.73 55.6,266.66 56.35,266.58 57.1,266.51 57.85,266.44 58.6,266.37 59.35,266.31 60.1,266.25 60.85,266.19 61.6,266.15 62.35,266.1 63.1,266.06 63.85,266.02 64.6,265.99 65.35,265.95 66.1,265.92 66.85,265.88 67.6,265.86 68.35,265.84 69.1,265.83 69.85,265.83 70.6,265.86 71.35,265.92 72.1,266.02 72.85,266.15 73.6,266.31 74.35,266.5 75.1,266.71 75.85,266.92 76.6,267.14 77.35,267.35 78.1,267.54 78.85,267.71 79.6,267.85 80.35,267.96 81.1,268.02 81.85,268.05 82.6,268.05 83.35,268.02 84.1,267.97 84.85,267.91 85.6,267.83 86.35,267.74 87.1,267.64 87.85,267.53 88.6,267.42 89.35,267.3 90.1,267.18 90.85,267.06 91.6,266.94 92.35,266.82 93.1,266.7 93.85,266.59 94.6,266.48 95.35,266.37 96.1,266.26 96.85,266.14 97.6,266.02 98.35,265.89 99.1,265.76 99.85,265.63 100.6,265.49 101.35,265.36 102.1,265.23 102.85,265.11 103.6,264.99 104.35,264.88 105.1,264.78 105.85,264.68 106.6,264.6 107.35,264.54 108.1,264.48 108.85,264.45 109.6,264.42 110.35,264.41 111.1,264.41 111.85,264.41 112.6,264.42 113.35,264.42 114.1,264.43 114.85,264.45 115.6,264.46 116.35,264.47 117.1,264.49 117.85,264.51 118.6,264.52 119.35,264.54 120.1,264.56 120.85,264.58 121.6,264.6 122.35,264.62 123.1,264.64 123.85,264.66 124.6,264.68 125.35,264.7 126.1,264.72 126.85,264.73 127.6,264.75 128.35,264.77 129.1,264.78 129.85,264.8 130.6,264.81 131.35,264.82 132.1,264.84 132.85,264.85 133.6,264.86 134.35,264.87 135.1,264.89 135.85,264.9 136.6,264.91 137.35,264.92 138.1,264.94 138.85,264.95 139.6,264.96 140.35,264.97 141.1,264.99 141.85,265 142.6,265.01 143.35,265.02 144.1,265.03 144.85,265.04 145.6,265.06 146.35,265.07 147.1,265.08 147.85,265.09 148.6,265.1 149.35,265.11 150.1,265.12 150.85,265.13 151.6,265.14 152.35,265.15 153.1,265.17 153.85,265.18 154.6,265.18 155.35,265.19 156.1,265.2 156.85,265.21 157.6,265.22 158.35,265.23 159.1,265.24 159.85,265.25 160.6,265.26 161.35,265.26 162.1,265.27 162.85,265.28 163.6,265.29 164.35,265.29 165.1,265.3 165.85,265.31 166.6,265.31 167.35,265.32 168.1,265.33 168.85,265.33 169.6,265.34 170.35,265.35 171.1,265.35 171.85,265.36 172.6,265.37 173.35,265.37 174.1,265.38 174.85,265.38 175.6,265.39 176.35,265.4 177.1,265.4 177.85,265.41 178.6,265.42 179.35,265.42 180.1,265.43 180.85,265.43 181.6,265.44 182.35,265.44 183.1,265.45 183.85,265.46 184.6,265.46 185.35,265.47 186.1,265.47 186.85,265.48 187.6,265.48 188.35,265.49 189.1,265.49 189.85,265.5 190.6,265.5 191.35,265.51 192.1,265.51 192.85,265.52 193.6,265.52 194.35,265.53 195.1,265.53 195.85,265.54 196.6,265.54 197.35,265.54 198.1,265.55 198.85,265.55 199.6,265.55 200.35,265.56 201.1,265.56 201.85,265.57 202.6,265.57 203.35,265.57 204.1,265.57 204.85,265.58 205.6,265.58 206.35,265.58 207.1,265.58 207.85,265.59 208.6,265.59 209.35,265.59 210.1,265.59 210.85,265.59 211.6,265.6 212.35,265.6 213.1,265.6 213.5,265.6" fill="none" stroke="#d62728" stroke-width="1.3" stroke-linejoin="round" stroke-linecap="butt" stroke-dasharray="4.8,2.1" stroke-opacity="0.55"/>
<polyline points="25.6,266.2 26.35,266.2 27.1,266.2 27.85,266.2 28.6,266.2 29.35,266.2 30.1,266.2 30.85,266.2 31.6,266.2 32.35,266.2 33.1,266.2 33.85,266.2 34.6,266.19 35.35,266.17 36.1,266.14 36.85,266.1 37.6,266.05 38.35,265.98 39.1,265.91 39.85,265.83 40.6,265.74 41.35,265.65 42.1,265.56 42.85,265.46 43.6,265.37 44.35,265.28 45.1,265.19 45.85,265.1 46.6,265 47.35,264.9 48.1,264.8 48.85,264.7 49.6,264.59 50.35,264.48 51.1,264.37 51.85,264.25 52.6,264.14 53.35,264.02 54.1,263.91 54.85,263.79 55.6,263.68 56.35,263.57 57.1,263.46 57.85,263.36 58.6,263.26 59.35,263.16 60.1,263.07 60.85,262.98 61.6,262.89 62.35,262.82 63.1,262.74 63.85,262.67 64.6,262.6 65.35,262.53 66.1,262.47 66.85,262.41 67.6,262.35 68.35,262.29 69.1,262.23 69.85,262.17 70.6,262.11 71.35,262.05 72.1,261.99 72.85,261.92 73.6,261.86 74.35,261.79 75.1,261.72 75.85,261.64 76.6,261.57 77.35,261.48 78.1,261.4 78.85,261.3 79.6,261.2 80.35,261.1 81.1,260.98 81.85,260.85 82.6,260.7 83.35,260.54 84.1,260.36 84.85,260.17 85.6,259.96 86.35,259.74 87.1,259.49 87.85,259.23 88.6,258.93 89.35,258.62 90.1,258.28 90.85,257.93 91.6,257.58 92.35,257.24 93.1,256.93 93.85,256.64 94.6,256.37 95.35,256.13 96.1,255.91 96.85,255.7 97.6,255.51 98.35,255.34 99.1,255.18 99.85,255.04 100.6,254.92 101.35,254.8 102.1,254.69 102.85,254.58 103.6,254.47 104.35,254.36 105.1,254.26 105.85,254.17 106.6,254.08 107.35,253.99 108.1,253.91 108.85,253.83 109.6,253.76 110.35,253.7 111.1,253.65 111.85,253.6 112.6,253.57 113.35,253.54 114.1,253.52 114.85,253.52 115.6,253.52 116.35,253.53 117.1,253.55 117.85,253.58 118.6,253.62 119.35,253.67 120.1,253.72 120.85,253.78 121.6,253.85 122.35,253.92 123.1,253.99 123.85,254.06 124.6,254.14 125.35,254.22 126.1,254.3 126.85,254.38 127.6,254.46 128.35,254.53 129.1,254.61 129.85,254.68 130.6,254.76 131.35,254.83 132.1,254.91 132.85,254.99 133.6,255.07 134.35,255.15 135.1,255.24 135.85,255.33 136.6,255.41 137.35,255.51 138.1,255.6 138.85,255.69 139.6,255.79 140.35,255.88 141.1,255.98 141.85,256.08 142.6,256.18 143.35,256.28 144.1,256.38 144.85,256.48 145.6,256.58 146.35,256.68 147.1,256.78 147.85,256.89 148.6,256.99 149.35,257.09 150.1,257.19 150.85,257.29 151.6,257.39 152.35,257.48 153.1,257.58 153.85,257.68 154.6,257.77 155.35,257.87 156.1,257.96 156.85,258.05 157.6,258.14 158.35,258.23 159.1,258.31 159.85,258.39 160.6,258.47 161.35,258.55 162.1,258.63 162.85,258.7 163.6,258.77 164.35,258.84 165.1,258.91 165.85,258.97 166.6,259.03 167.35,259.1 168.1,259.16 168.85,259.22 169.6,259.29 170.35,259.35 171.1,259.41 171.85,259.47 172.6,259.53 173.35,259.59 174.1,259.65 174.85,259.71 175.6,259.77 176.35,259.83 177.1,259.89 177.85,259.95 178.6,260.01 179.35,260.06 180.1,260.12 180.85,260.18 181.6,260.23 182.35,260.29 183.1,260.34 183.85,260.4 184.6,260.45 185.35,260.5 186.1,260.56 186.85,260.61 187.6,260.66 188.35,260.71 189.1,260.76 189.85,260.81 190.6,260.86 191.35,260.91 192.1,260.96 192.85,261.01 193.6,261.05 194.35,261.1 195.1,261.14 195.85,261.19 196.6,261.23 197.35,261.28 198.1,261.32 198.85,261.36 199.6,261.4 200.35,261.44 201.1,261.48 201.85,261.52 202.6,261.56 203.35,261.59 204.1,261.63 204.85,261.66 205.6,261.7 206.35,261.73 207.1,261.76 207.85,261.79 208.6,261.82 209.35,261.85 210.1,261.88 210.85,261.91 211.6,261.93 212.35,261.96 213.1,261.98 213.5,261.99" fill="none" stroke="#9467bd" stroke-width="1.3" stroke-linejoin="round" stroke-linecap="butt" stroke-dasharray="4.8,2.1" stroke-opacity="0.55"/>
<polyline points="25.6,266.2 26.35,266.2 27.1,266.2 27.85,266.2 28.6,266.2 29.35,266.2 30.1,266.2 30.85,266.2 31.6,266.2 32.35,266.2 33.1,266.2 33.85,266.2 34.6,266.22 35.35,266.23 36.1,266.27 36.85,266.31 37.6,266.37 38.35,266.44 39.1,266.53 39.85,266.63 40.6,266.74 41.35,266.86 42.1,266.98 42.85,267.12 43.6,267.25 44.35,267.4 45.1,267.54 45.85,267.69 46.6,267.84 47.35,267.99 48.1,268.14 48.85,268.28 49.6,268.43 50.35,268.57 51.1,268.73 51.85,268.89 52.6,269.05 53.35,269.23 54.1,269.41 54.85,269.59 55.6,269.78 56.35,269.97 57.1,270.16 57.85,270.34 58.6,270.52 59.35,270.69 60.1,270.86 60.85,271.01 61.6,271.16 62.35,271.29 63.1,271.42 63.85,271.54 64.6,271.65 65.35,271.75 66.1,271.85 66.85,271.95 67.6,272.05 68.35,272.14 69.1,272.24 69.85,272.33 70.6,272.43 71.35,272.53 72.1,272.63 72.85,272.73 73.6,272.83 74.35,272.93 75.1,273.02 75.85,273.12 76.6,273.22 77.35,273.33 78.1,273.43 78.85,273.55 79.6,273.66 80.35,273.79 81.1,273.92 81.85,274.07 82.6,274.22 83.35,274.38 84.1,274.56 84.85,274.75 85.6,274.95 86.35,275.15 87.1,275.36 87.85,275.59 88.6,275.81 89.35,276.04 90.1,276.28 90.85,276.52 91.6,276.76 92.35,277 93.1,277.25 93.85,277.49 94.6,277.74 95.35,278 96.1,278.26 96.85,278.53 97.6,278.81 98.35,279.09 99.1,279.37 99.85,279.64 100.6,279.91 101.35,280.17 102.1,280.43 102.85,280.67 103.6,280.91 104.35,281.15 105.1,281.38 105.85,281.61 106.6,281.82 107.35,282.03 108.1,282.21 108.85,282.37 109.6,282.51 110.35,282.63 111.1,282.74 111.85,282.84 112.6,282.94 113.35,283.03 114.1,283.12 114.85,283.21 115.6,283.29 116.35,283.38 117.1,283.45 117.85,283.53 118.6,283.6 119.35,283.67 120.1,283.74 120.85,283.8 121.6,283.86 122.35,283.91 123.1,283.96 123.85,284.01 124.6,284.05 125.35,284.09 126.1,284.12 126.85,284.14 127.6,284.16 128.35,284.18 129.1,284.19 129.85,284.19 130.6,284.19 131.35,284.18 132.1,284.17 132.85,284.15 133.6,284.12 134.35,284.09 135.1,284.05 135.85,284.02 136.6,283.97 137.35,283.93 138.1,283.88 138.85,283.83 139.6,283.78 140.35,283.73 141.1,283.67 141.85,283.62 142.6,283.57 143.35,283.51 144.1,283.46 144.85,283.41 145.6,283.36 146.35,283.31 147.1,283.26 147.85,283.2 148.6,283.15 149.35,283.09 150.1,283.04 150.85,282.98 151.6,282.92 152.35,282.86 153.1,282.8 153.85,282.74 154.6,282.68 155.35,282.62 156.1,282.55 156.85,282.49 157.6,282.42 158.35,282.35 159.1,282.28 159.85,282.21 160.6,282.14 161.35,282.07 162.1,282 162.85,281.92 163.6,281.85 164.35,281.77 165.1,281.69 165.85,281.61 166.6,281.53 167.35,281.45 168.1,281.37 168.85,281.29 169.6,281.2 170.35,281.12 171.1,281.03 171.85,280.94 172.6,280.86 173.35,280.76 174.1,280.67 174.85,280.58 175.6,280.48 176.35,280.38 177.1,280.29 177.85,280.18 178.6,280.08 179.35,279.98 180.1,279.87 180.85,279.77 181.6,279.66 182.35,279.55 183.1,279.44 183.85,279.32 184.6,279.21 185.35,279.09 186.1,278.97 186.85,278.85 187.6,278.73 188.35,278.61 189.1,278.49 189.85,278.36 190.6,278.23 191.35,278.1 192.1,277.98 192.85,277.84 193.6,277.71 194.35,277.58 195.1,277.44 195.85,277.3 196.6,277.17 197.35,277.03 198.1,276.89 198.85,276.74 199.6,276.6 200.35,276.45 201.1,276.31 201.85,276.16 202.6,276.01 203.35,275.86 204.1,275.71 204.85,275.56 205.6,275.4 206.35,275.25 207.1,275.09 207.85,274.93 208.6,274.77 209.35,274.61 210.1,274.45 210.85,274.29 211.6,274.13 212.35,273.99 213.1,273.87 213.5,273.78" fill="none" stroke="#8c564b" stroke-width="1.3" stroke-linejoin="round" stroke-linecap="butt" stroke-dasharray="4.8,2.1" stroke-opacity="0.55"/>
<polyline points="25.6,266.2 26.35,266.2 27.1,266.2 27.85,266.2 28.6,266.2 29.35,266.2 30.1,266.2 30.85,266.2 31.6,266.2 32.35,266.2 33.1,266.2 33.85,266.2 34.6,266.19 35.35,266.18 36.1,266.15 36.85,266.12 37.6,266.08 38.35,266.03 39.1,265.97 39.85,265.9 40.6,265.84 41.35,265.76 42.1,265.69 42.85,265.61 43.6,265.54 44.35,265.46 45.1,265.39 45.85,265.31 46.6,265.23 47.35,265.15 48.1,265.06 48.85,264.97 49.6,264.88 50.35,264.78 51.1,264.68 51.85,264.58 52.6,264.48 53.35,264.38 54.1,264.27 54.85,264.17 55.6,264.08 56.35,263.98 57.1,263.89 57.85,263.8 58.6,263.71 59.35,263.63 60.1,263.55 60.85,263.48 61.6,263.41 62.35,263.35 63.1,263.29 63.85,263.22 64.6,263.17 65.35,263.11 66.1,263.05 66.85,263 67.6,262.94 68.35,262.89 69.1,262.84 69.85,262.78 70.6,262.73 71.35,262.68 72.1,262.63 72.85,262.57 73.6,262.52 74.35,262.47 75.1,262.41 75.85,262.35 76.6,262.3 77.35,262.24 78.1,262.19 78.85,262.14 79.6,262.09 80.35,262.05 81.1,262 81.85,261.96 82.6,261.93 83.35,261.89 84.1,261.85 84.85,261.82 85.6,261.79 86.35,261.75 87.1,261.72 87.85,261.69 88.6,261.66 89.35,261.63 90.1,261.6 90.85,261.57 91.6,261.54 92.35,261.52 93.1,261.49 93.85,261.47 94.6,261.44 95.35,261.42 96.1,261.4 96.85,261.38 97.6,261.36 98.35,261.34 99.1,261.32 99.85,261.3 100.6,261.29 101.35,261.27 102.1,261.25 102.85,261.24 103.6,261.22 104.35,261.21 105.1,261.19 105.85,261.18 106.6,261.16 107.35,261.15 108.1,261.13 108.85,261.12 109.6,261.1 110.35,261.09 111.1,261.08 111.85,261.07 112.6,261.06 113.35,261.05 114.1,261.04 114.85,261.03 115.6,261.02 116.35,261.02 117.1,261.01 117.85,261.01 118.6,261 119.35,261 120.1,261 120.85,261.01 121.6,261.01 122.35,261.02 123.1,261.03 123.85,261.04 124.6,261.05 125.35,261.07 126.1,261.09 126.85,261.11 127.6,261.13 128.35,261.16 129.1,261.18 129.85,261.21 130.6,261.24 131.35,261.27 132.1,261.31 132.85,261.34 133.6,261.38 134.35,261.42 135.1,261.46 135.85,261.5 136.6,261.54 137.35,261.58 138.1,261.62 138.85,261.67 139.6,261.71 140.35,261.76 141.1,261.81 141.85,261.85 142.6,261.9 143.35,261.95 144.1,262 144.85,262.05 145.6,262.1 146.35,262.15 147.1,262.2 147.85,262.25 148.6,262.29 149.35,262.34 150.1,262.39 150.85,262.44 151.6,262.49 152.35,262.54 153.1,262.58 153.85,262.63 154.6,262.68 155.35,262.72 156.1,262.77 156.85,262.81 157.6,262.85 158.35,262.89 159.1,262.93 159.85,262.97 160.6,263.01 161.35,263.04 162.1,263.08 162.85,263.11 163.6,263.14 164.35,263.17 165.1,263.2 165.85,263.23 166.6,263.26 167.35,263.28 168.1,263.31 168.85,263.34 169.6,263.37 170.35,263.39 171.1,263.42 171.85,263.44 172.6,263.47 173.35,263.5 174.1,263.52 174.85,263.55 175.6,263.57 176.35,263.6 177.1,263.62 177.85,263.65 178.6,263.67 179.35,263.7 180.1,263.72 180.85,263.75 181.6,263.77 182.35,263.8 183.1,263.82 183.85,263.84 184.6,263.87 185.35,263.89 186.1,263.91 186.85,263.94 187.6,263.96 188.35,263.98 189.1,264 189.85,264.03 190.6,264.05 191.35,264.07 192.1,264.09 192.85,264.11 193.6,264.13 194.35,264.15 195.1,264.17 195.85,264.2 196.6,264.22 197.35,264.24 198.1,264.25 198.85,264.27 199.6,264.29 200.35,264.31 201.1,264.33 201.85,264.35 202.6,264.37 203.35,264.39 204.1,264.4 204.85,264.42 205.6,264.44 206.35,264.45 207.1,264.47 207.85,264.49 208.6,264.5 209.35,264.52 210.1,264.53 210.85,264.55 211.6,264.56 212.35,264.58 213.1,264.59 213.5,264.59" fill="none" stroke="#e377c2" stroke-width="1.3" stroke-linejoin="round" stroke-linecap="butt" stroke-dasharray="4.8,2.1" stroke-opacity="0.55"/>
<polyline points="25.6,266.2 26.35,266.2 27.1,266.2 27.85,266.2 28.6,266.2 29.35,266.2 30.1,266.2 30.85,266.2 31.6,266.2 32.35,266.2 33.1,266.2 33.85,266.2 34.6,266.1 35.35,265.99 36.1,265.81 36.85,265.56 37.6,265.26 38.35,264.91 39.1,264.55 39.85,264.17 40.6,263.78 41.35,263.38 42.1,262.96 42.85,262.52 43.6,262.07 44.35,261.59 45.1,261.1 45.85,260.59 46.6,260.07 47.35,259.53 48.1,258.99 48.85,258.46 49.6,257.96 50.35,257.49 51.1,257.06 51.85,256.66 52.6,256.28 53.35,255.92 54.1,255.56 54.85,255.2 55.6,254.83 56.35,254.45 57.1,254.06 57.85,253.67 58.6,253.29 59.35,252.92 60.1,252.56 60.85,252.23 61.6,251.91 62.35,251.62 63.1,251.33 63.85,251.05 64.6,250.75 65.35,250.45 66.1,250.12 66.85,249.77 67.6,249.41 68.35,249.04 69.1,248.68 69.85,248.36 70.6,248.06 71.35,247.81 72.1,247.58 72.85,247.38 73.6,247.21 74.35,247.06 75.1,246.94 75.85,246.85 76.6,246.79 77.35,246.74 78.1,246.7 78.85,246.67 79.6,246.64 80.35,246.62 81.1,246.6 81.85,246.58 82.6,246.56 83.35,246.54 84.1,246.52 84.85,246.5 85.6,246.48 86.35,246.46 87.1,246.45 87.85,246.44 88.6,246.42 89.35,246.42 90.1,246.41 90.85,246.41 91.6,246.42 92.35,246.44 93.1,246.47 93.85,246.52 94.6,246.57 95.35,246.63 96.1,246.69 96.85,246.76 97.6,246.82 98.35,246.88 99.1,246.94 99.85,246.98 100.6,247.02 101.35,247.05 102.1,247.09 102.85,247.11 103.6,247.14 104.35,247.17 105.1,247.19 105.85,247.21 106.6,247.24 107.35,247.26 108.1,247.28 108.85,247.3 109.6,247.32 110.35,247.33 111.1,247.35 111.85,247.37 112.6,247.38 113.35,247.4 114.1,247.42 114.85,247.43 115.6,247.45 116.35,247.47 117.1,247.48 117.85,247.5 118.6,247.52 119.35,247.54 120.1,247.56 120.85,247.57 121.6,247.59 122.35,247.62 123.1,247.64 123.85,247.66 124.6,247.68 125.35,247.71 126.1,247.74 126.85,247.77 127.6,247.8 128.35,247.83 129.1,247.86 129.85,247.9 130.6,247.94 131.35,247.98 132.1,248.03 132.85,248.09 133.6,248.14 134.35,248.21 135.1,248.28 135.85,248.35 136.6,248.43 137.35,248.51 138.1,248.59 138.85,248.68 139.6,248.78 140.35,248.87 141.1,248.97 141.85,249.07 142.6,249.18 143.35,249.29 144.1,249.4 144.85,249.51 145.6,249.62 146.35,249.74 147.1,249.86 147.85,249.98 148.6,250.1 149.35,250.22 150.1,250.34 150.85,250.47 151.6,250.59 152.35,250.71 153.1,250.84 153.85,250.96 154.6,251.09 155.35,251.21 156.1,251.34 156.85,251.46 157.6,251.58 158.35,251.7 159.1,251.82 159.85,251.94 160.6,252.06 161.35,252.17 162.1,252.28 162.85,252.39 163.6,252.5 164.35,252.61 165.1,252.71 165.85,252.81 166.6,252.92 167.35,253.02 168.1,253.12 168.85,253.22 169.6,253.32 170.35,253.42 171.1,253.53 171.85,253.63 172.6,253.73 173.35,253.83 174.1,253.93 174.85,254.03 175.6,254.13 176.35,254.24 177.1,254.34 177.85,254.44 178.6,254.54 179.35,254.64 180.1,254.74 180.85,254.84 181.6,254.94 182.35,255.04 183.1,255.14 183.85,255.25 184.6,255.35 185.35,255.45 186.1,255.55 186.85,255.65 187.6,255.75 188.35,255.85 189.1,255.95 189.85,256.05 190.6,256.15 191.35,256.25 192.1,256.35 192.85,256.45 193.6,256.55 194.35,256.65 195.1,256.75 195.85,256.85 196.6,256.95 197.35,257.05 198.1,257.15 198.85,257.25 199.6,257.35 200.35,257.45 201.1,257.55 201.85,257.65 202.6,257.75 203.35,257.85 204.1,257.95 204.85,258.05 205.6,258.15 206.35,258.25 207.1,258.35 207.85,258.45 208.6,258.55 209.35,258.65 210.1,258.75 210.85,258.85 211.6,258.94 212.35,259.03 213.1,259.1 213.5,259.15" fill="none" stroke="#7f7f7f" stroke-width="1.3" stroke-linejoin="round" stroke-linecap="butt" stroke-dasharray="4.8,2.1" stroke-opacity="0.55"/>
<polyline points="25.6,266.2 26.35,266.2 27.1,266.2 27.85,266.2 28.6,266.2 29.35,266.2 30.1,266.2 30.85,266.2 31.6,266.2 32.35,266.2 33.1,266.2 33.85,266.2 34.6,266.16 35.35,266.11 36.1,266.03 36.85,265.91 37.6,265.75 38.35,265.56 39.1,265.34 39.85,265.1 40.6,264.84 41.35,264.56 42.1,264.27 42.85,263.97 43.6,263.67 44.35,263.37 45.1,263.07 45.85,262.75 46.6,262.42 47.35,262.07 48.1,261.7 48.85,261.32 49.6,260.92 50.35,260.5 51.1,260.07 51.85,259.62 52.6,259.17 53.35,258.7 54.1,258.25 54.85,257.8 55.6,257.37 56.35,256.96 57.1,256.57 57.85,256.18 58.6,255.82 59.35,255.47 60.1,255.14 60.85,254.84 61.6,254.55 62.35,254.28 63.1,254.03 63.85,253.77 64.6,253.51 65.35,253.24 66.1,252.95 66.85,252.64 67.6,252.32 68.35,251.98 69.1,251.64 69.85,251.29 70.6,250.93 71.35,250.57 72.1,250.21 72.85,249.84 73.6,249.47 74.35,249.13 75.1,248.8 75.85,248.5 76.6,248.22 77.35,247.97 78.1,247.74 78.85,247.53 79.6,247.34 80.35,247.17 81.1,247.03 81.85,246.91 82.6,246.8 83.35,246.7 84.1,246.6 84.85,246.52 85.6,246.44 86.35,246.36 87.1,246.3 87.85,246.23 88.6,246.17 89.35,246.12 90.1,246.07 90.85,246.03 91.6,245.99 92.35,245.96 93.1,245.92 93.85,245.9 94.6,245.87 95.35,245.84 96.1,245.82 96.85,245.8 97.6,245.78 98.35,245.75 99.1,245.73 99.85,245.7 100.6,245.68 101.35,245.65 102.1,245.62 102.85,245.58 103.6,245.55 104.35,245.52 105.1,245.48 105.85,245.44 106.6,245.41 107.35,245.37 108.1,245.34 108.85,245.3 109.6,245.27 110.35,245.23 111.1,245.2 111.85,245.17 112.6,245.14 113.35,245.12 114.1,245.09 114.85,245.07 115.6,245.05 116.35,245.03 117.1,245.02 117.85,245.01 118.6,245.01 119.35,245.01 120.1,245.01 120.85,245.02 121.6,245.04 122.35,245.06 123.1,245.09 123.85,245.12 124.6,245.16 125.35,245.2 126.1,245.24 126.85,245.29 127.6,245.33 128.35,245.39 129.1,245.44 129.85,245.5 130.6,245.57 131.35,245.65 132.1,245.75 132.85,245.86 133.6,245.98 134.35,246.12 135.1,246.27 135.85,246.42 136.6,246.59 137.35,246.76 138.1,246.93 138.85,247.11 139.6,247.29 140.35,247.47 141.1,247.65 141.85,247.82 142.6,247.99 143.35,248.15 144.1,248.31 144.85,248.46 145.6,248.61 146.35,248.75 147.1,248.89 147.85,249.03 148.6,249.17 149.35,249.31 150.1,249.44 150.85,249.58 151.6,249.72 152.35,249.85 153.1,249.99 153.85,250.12 154.6,250.26 155.35,250.39 156.1,250.52 156.85,250.65 157.6,250.78 158.35,250.91 159.1,251.04 159.85,251.16 160.6,251.29 161.35,251.41 162.1,251.54 162.85,251.66 163.6,251.78 164.35,251.9 165.1,252.01 165.85,252.13 166.6,252.25 167.35,252.36 168.1,252.48 168.85,252.6 169.6,252.71 170.35,252.83 171.1,252.94 171.85,253.05 172.6,253.17 173.35,253.28 174.1,253.39 174.85,253.51 175.6,253.62 176.35,253.73 177.1,253.84 177.85,253.95 178.6,254.06 179.35,254.17 180.1,254.28 180.85,254.39 181.6,254.5 182.35,254.61 183.1,254.72 183.85,254.83 184.6,254.93 185.35,255.04 186.1,255.15 186.85,255.25 187.6,255.36 188.35,255.46 189.1,255.57 189.85,255.67 190.6,255.77 191.35,255.87 192.1,255.98 192.85,256.08 193.6,256.18 194.35,256.28 195.1,256.38 195.85,256.47 196.6,256.57 197.35,256.67 198.1,256.77 198.85,256.86 199.6,256.96 200.35,257.05 201.1,257.15 201.85,257.24 202.6,257.33 203.35,257.43 204.1,257.52 204.85,257.61 205.6,257.7 206.35,257.79 207.1,257.88 207.85,257.96 208.6,258.05 209.35,258.14 210.1,258.22 210.85,258.3 211.6,258.39 212.35,258.46 213.1,258.52 213.5,258.56" fill="none" stroke="#bcbd22" stroke-width="1.3" stroke-linejoin="round" stroke-linecap="butt" stroke-dasharray="4.8,2.1" stroke-opacity="0.55"/>
<polyline points="25.6,266.2 26.35,266.2 27.1,266.2 27.85,266.2 28.6,266.2 29.35,266.2 30.1,266.2 30.85,266.2 31.6,266.2 32.35,266.2 33.1,266.2 33.85,266.2 34.6,266.22 35.35,266.25 36.1,266.29 36.85,266.35 37.6,266.43 38.35,266.53 39.1,266.65 39.85,266.79 40.6,266.93 41.35,267.09 42.1,267.26 42.85,267.44 43.6,267.62 44.35,267.81 45.1,268.01 45.85,268.21 46.6,268.41 47.35,268.63 48.1,268.88 48.85,269.14 49.6,269.43 50.35,269.73 51.1,270.05 51.85,270.36 52.6,270.67 53.35,270.96 54.1,271.23 54.85,271.49 55.6,271.73 56.35,271.97 57.1,272.19 57.85,272.41 58.6,272.62 59.35,272.84 60.1,273.05 60.85,273.27 61.6,273.5 62.35,273.73 63.1,273.97 63.85,274.23 64.6,274.49 65.35,274.75 66.1,275.02 66.85,275.29 67.6,275.56 68.35,275.82 69.1,276.07 69.85,276.3 70.6,276.53 71.35,276.74 72.1,276.93 72.85,277.11 73.6,277.28 74.35,277.44 75.1,277.6 75.85,277.75 76.6,277.9 77.35,278.04 78.1,278.17 78.85,278.3 79.6,278.43 80.35,278.55 81.1,278.67 81.85,278.79 82.6,278.91 83.35,279.02 84.1,279.12 84.85,279.22 85.6,279.32 86.35,279.41 87.1,279.5 87.85,279.59 88.6,279.68 89.35,279.76 90.1,279.85 90.85,279.93 91.6,280.02 92.35,280.12 93.1,280.22 93.85,280.32 94.6,280.43 95.35,280.55 96.1,280.67 96.85,280.81 97.6,280.94 98.35,281.08 99.1,281.22 99.85,281.36 100.6,281.49 101.35,281.61 102.1,281.72 102.85,281.83 103.6,281.92 104.35,282.02 105.1,282.11 105.85,282.2 106.6,282.28 107.35,282.35 108.1,282.4 108.85,282.45 109.6,282.47 110.35,282.48 111.1,282.47 111.85,282.45 112.6,282.42 113.35,282.38 114.1,282.33 114.85,282.27 115.6,282.21 116.35,282.15 117.1,282.08 117.85,282.01 118.6,281.94 119.35,281.86 120.1,281.78 120.85,281.7 121.6,281.61 122.35,281.51 123.1,281.41 123.85,281.29 124.6,281.17 125.35,281.04 126.1,280.91 126.85,280.77 127.6,280.62 128.35,280.47 129.1,280.32 129.85,280.16 130.6,280 131.35,279.84 132.1,279.67 132.85,279.5 133.6,279.34 134.35,279.17 135.1,279 135.85,278.84 136.6,278.67 137.35,278.51 138.1,278.35 138.85,278.2 139.6,278.05 140.35,277.9 141.1,277.76 141.85,277.62 142.6,277.49 143.35,277.37 144.1,277.25 144.85,277.14 145.6,277.04 146.35,276.94 147.1,276.84 147.85,276.74 148.6,276.65 149.35,276.56 150.1,276.47 150.85,276.38 151.6,276.29 152.35,276.2 153.1,276.12 153.85,276.03 154.6,275.95 155.35,275.87 156.1,275.79 156.85,275.71 157.6,275.63 158.35,275.55 159.1,275.48 159.85,275.4 160.6,275.33 161.35,275.25 162.1,275.18 162.85,275.11 163.6,275.04 164.35,274.97 165.1,274.9 165.85,274.83 166.6,274.76 167.35,274.69 168.1,274.62 168.85,274.55 169.6,274.48 170.35,274.42 171.1,274.35 171.85,274.28 172.6,274.21 173.35,274.15 174.1,274.08 174.85,274.01 175.6,273.95 176.35,273.88 177.1,273.81 177.85,273.75 178.6,273.68 179.35,273.62 180.1,273.55 180.85,273.48 181.6,273.42 182.35,273.36 183.1,273.29 183.85,273.23 184.6,273.16 185.35,273.1 186.1,273.04 186.85,272.97 187.6,272.91 188.35,272.85 189.1,272.79 189.85,272.73 190.6,272.67 191.35,272.61 192.1,272.55 192.85,272.49 193.6,272.43 194.35,272.37 195.1,272.31 195.85,272.25 196.6,272.19 197.35,272.13 198.1,272.08 198.85,272.02 199.6,271.96 200.35,271.91 201.1,271.85 201.85,271.8 202.6,271.74 203.35,271.69 204.1,271.64 204.85,271.58 205.6,271.53 206.35,271.48 207.1,271.42 207.85,271.37 208.6,271.32 209.35,271.27 210.1,271.22 210.85,271.17 211.6,271.13 212.35,271.08 213.1,271.05 213.5,271.02" fill="none" stroke="#17becf" stroke-width="1.3" stroke-linejoin="round" stroke-linecap="butt" stroke-dasharray="4.8,2.1" stroke-opacity="0.55"/>
<polyline points="239.2,237.1 239.95,237.1 240.7,237.1 241.45,237.1 242.2,237.1 242.95,237.1 243.7,237.1 244.45,237.1 245.2,237.22 245.95,237.33 246.7,237.5 247.45,237.73 248.2,238 248.95,238.33 249.7,238.7 250.45,239.11 251.2,239.55 251.95,240.01 252.7,240.49 253.45,240.98 254.2,241.48 254.95,241.99 255.7,242.48 256.45,242.97 257.2,243.44 257.95,243.88 258.7,244.3 259.45,244.69 260.2,245.06 260.95,245.4 261.7,245.73 262.45,246.05 263.2,246.37 263.95,246.67 264.7,246.97 265.45,247.27 266.2,247.57 266.95,247.86 267.7,248.16 268.45,248.45 269.2,248.75 269.95,249.05 270.7,249.35 271.45,249.65 272.2,249.96 272.95,250.28 273.7,250.6 274.45,250.93 275.2,251.27 275.95,251.61 276.7,251.96 277.45,252.32 278.2,252.68 278.95,253.03 279.7,253.39 280.45,253.74 281.2,254.09 281.95,254.43 282.7,254.76 283.45,255.08 284.2,255.39 284.95,255.69 285.7,255.98 286.45,256.26 287.2,256.53 287.95,256.8 288.7,257.06 289.45,257.32 290.2,257.58 290.95,257.83 291.7,258.08 292.45,258.32 293.2,258.56 293.95,258.79 294.7,259.02 295.45,259.24 296.2,259.46 296.95,259.68 297.7,259.88 298.45,260.09 299.2,260.29 299.95,260.48 300.7,260.67 301.45,260.85 302.2,261.02 302.95,261.19 303.7,261.36 304.45,261.52 305.2,261.68 305.95,261.84 306.7,261.99 307.45,262.15 308.2,262.3 308.95,262.45 309.7,262.6 310.45,262.75 311.2,262.9 311.95,263.05 312.7,263.2 313.45,263.35 314.2,263.5 314.95,263.64 315.7,263.78 316.45,263.92 317.2,264.05 317.95,264.19 318.7,264.32 319.45,264.44 320.2,264.58 320.95,264.71 321.7,264.85 322.45,264.98 323.2,265.12 323.95,265.26 324.7,265.39 325.45,265.52 326.2,265.65 326.95,265.76 327.7,265.86 328.45,265.96 329.2,266.03 329.95,266.09 330.7,266.14 331.45,266.17 332.2,266.18 332.95,266.19 333.7,266.18 334.45,266.17 335.2,266.16 335.95,266.14 336.7,266.12 337.45,266.1 338.2,266.07 338.95,266.04 339.7,266.01 340.45,265.98 341.2,265.94 341.95,265.9 342.7,265.86 343.45,265.82 344.2,265.78 344.95,265.73 345.7,265.68 346.45,265.64 347.2,265.59 347.95,265.54 348.7,265.49 349.45,265.43 350.2,265.38 350.95,265.32 351.7,265.25 352.45,265.18 353.2,265.1 353.95,265.01 354.7,264.92 355.45,264.82 356.2,264.72 356.95,264.61 357.7,264.49 358.45,264.37 359.2,264.25 359.95,264.12 360.7,263.99 361.45,263.85 362.2,263.71 362.95,263.57 363.7,263.42 364.45,263.28 365.2,263.13 365.95,262.98 366.7,262.83 367.45,262.68 368.2,262.53 368.95,262.38 369.7,262.23 370.45,262.08 371.2,261.93 371.95,261.78 372.7,261.64 373.45,261.49 374.2,261.35 374.95,261.21 375.7,261.07 376.45,260.93 377.2,260.79 377.95,260.65 378.7,260.51 379.45,260.37 380.2,260.23 380.95,260.09 381.7,259.95 382.45,259.8 383.2,259.66 383.95,259.51 384.7,259.37 385.45,259.22 386.2,259.07 386.95,258.92 387.7,258.77 388.45,258.62 389.2,258.47 389.95,258.32 390.7,258.17 391.45,258.02 392.2,257.86 392.95,257.71 393.7,257.55 394.45,257.39 395.2,257.23 395.95,257.07 396.7,256.91 397.45,256.75 398.2,256.59 398.95,256.43 399.7,256.26 400.45,256.1 401.2,255.93 401.95,255.77 402.7,255.6 403.45,255.43 404.2,255.26 404.95,255.09 405.7,254.92 406.45,254.74 407.2,254.57 407.95,254.39 408.7,254.22 409.45,254.04 410.2,253.86 410.95,253.68 411.7,253.5 412.45,253.32 413.2,253.14 413.95,252.95 414.7,252.77 415.45,252.58 416.2,252.4 416.95,252.21 417.7,252.02 418.45,251.83 419.2,251.64 419.95,251.45 420.7,251.26 421.45,251.06 422.2,250.87 422.95,250.67 423.7,250.48 424.45,250.28 425.2,250.09 425.95,249.91 426.7,249.75 427.4,249.63" fill="none" stroke="#1f77b4" stroke-width="1.3" stroke-linejoin="round" stroke-linecap="butt" stroke-dasharray="4.8,2.1" stroke-opacity="0.55"/>
<polyline points="239.2,237.1 239.95,237.1 240.7,237.1 241.45,237.1 242.2,237.1 242.95,237.1 243.7,237.1 244.45,237.1 245.2,237.28 245.95,237.46 246.7,237.71 247.45,238.05 248.2,238.47 248.95,238.95 249.7,239.48 250.45,240.05 251.2,240.64 251.95,241.26 252.7,241.88 253.45,242.48 254.2,243.07 254.95,243.63 255.7,244.15 256.45,244.62 257.2,245.04 257.95,245.43 258.7,245.79 259.45,246.12 260.2,246.45 260.95,246.76 261.7,247.07 262.45,247.37 263.2,247.68 263.95,247.99 264.7,248.31 265.45,248.64 266.2,248.99 266.95,249.36 267.7,249.75 268.45,250.17 269.2,250.61 269.95,251.08 270.7,251.57 271.45,252.07 272.2,252.59 272.95,253.12 273.7,253.66 274.45,254.2 275.2,254.74 275.95,255.28 276.7,255.81 277.45,256.33 278.2,256.84 278.95,257.33 279.7,257.8 280.45,258.24 281.2,258.66 281.95,259.05 282.7,259.42 283.45,259.76 284.2,260.09 284.95,260.4 285.7,260.7 286.45,260.99 287.2,261.28 287.95,261.56 288.7,261.83 289.45,262.09 290.2,262.34 290.95,262.59 291.7,262.84 292.45,263.08 293.2,263.31 293.95,263.54 294.7,263.76 295.45,263.98 296.2,264.2 296.95,264.42 297.7,264.63 298.45,264.84 299.2,265.05 299.95,265.26 300.7,265.47 301.45,265.67 302.2,265.88 302.95,266.08 303.7,266.28 304.45,266.48 305.2,266.67 305.95,266.85 306.7,267.02 307.45,267.18 308.2,267.33 308.95,267.46 309.7,267.59 310.45,267.71 311.2,267.82 311.95,267.93 312.7,268.03 313.45,268.14 314.2,268.23 314.95,268.32 315.7,268.39 316.45,268.46 317.2,268.51 317.95,268.55 318.7,268.57 319.45,268.58 320.2,268.58 320.95,268.58 321.7,268.56 322.45,268.54 323.2,268.52 323.95,268.49 324.7,268.45 325.45,268.42 326.2,268.38 326.95,268.33 327.7,268.29 328.45,268.24 329.2,268.19 329.95,268.14 330.7,268.09 331.45,268.03 332.2,267.98 332.95,267.91 333.7,267.84 334.45,267.76 335.2,267.68 335.95,267.58 336.7,267.48 337.45,267.37 338.2,267.26 338.95,267.14 339.7,267.01 340.45,266.88 341.2,266.74 341.95,266.61 342.7,266.46 343.45,266.32 344.2,266.17 344.95,266.02 345.7,265.87 346.45,265.72 347.2,265.57 347.95,265.41 348.7,265.26 349.45,265.11 350.2,264.96 350.95,264.8 351.7,264.64 352.45,264.48 353.2,264.32 353.95,264.15 354.7,263.97 355.45,263.8 356.2,263.62 356.95,263.44 357.7,263.25 358.45,263.06 359.2,262.87 359.95,262.68 360.7,262.48 361.45,262.29 362.2,262.09 362.95,261.89 363.7,261.69 364.45,261.49 365.2,261.29 365.95,261.08 366.7,260.88 367.45,260.68 368.2,260.48 368.95,260.28 369.7,260.08 370.45,259.88 371.2,259.68 371.95,259.48 372.7,259.29 373.45,259.1 374.2,258.9 374.95,258.71 375.7,258.52 376.45,258.33 377.2,258.14 377.95,257.95 378.7,257.76 379.45,257.57 380.2,257.38 380.95,257.18 381.7,256.99 382.45,256.8 383.2,256.6 383.95,256.41 384.7,256.22 385.45,256.03 386.2,255.83 386.95,255.64 387.7,255.45 388.45,255.26 389.2,255.07 389.95,254.88 390.7,254.69 391.45,254.51 392.2,254.32 392.95,254.14 393.7,253.96 394.45,253.78 395.2,253.6 395.95,253.42 396.7,253.25 397.45,253.07 398.2,252.9 398.95,252.73 399.7,252.57 400.45,252.4 401.2,252.24 401.95,252.08 402.7,251.92 403.45,251.76 404.2,251.6 404.95,251.44 405.7,251.29 406.45,251.13 407.2,250.97 407.95,250.82 408.7,250.67 409.45,250.51 410.2,250.36 410.95,250.21 411.7,250.06 412.45,249.92 413.2,249.77 413.95,249.62 414.7,249.48 415.45,249.33 416.2,249.19 416.95,249.05 417.7,248.91 418.45,248.77 419.2,248.63 419.95,248.49 420.7,248.36 421.45,248.22 422.2,248.09 422.95,247.96 423.7,247.83 424.45,247.7 425.2,247.57 425.95,247.46 426.7,247.36 427.4,247.28" fill="none" stroke="#ff7f0e" stroke-width="1.3" stroke-linejoin="round" stroke-linecap="butt" stroke-dasharray="4.8,2.1" stroke-opacity="0.55"/>
<polyline points="239.2,237.1 239.95,237.1 240.7,237.1 241.45,237.1 242.2,237.1 242.95,237.1 243.7,237.1 244.45,237.1 245.2,236.82 245.95,236.57 246.7,236.23 247.45,235.82 248.2,235.36 248.95,234.9 249.7,234.44 250.45,234 251.2,233.57 251.95,233.15 252.7,232.72 253.45,232.29 254.2,231.84 254.95,231.38 255.7,230.91 256.45,230.43 257.2,229.93 257.95,229.41 258.7,228.88 259.45,228.35 260.2,227.8 260.95,227.26 261.7,226.71 262.45,226.16 263.2,225.62 263.95,225.09 264.7,224.57 265.45,224.06 266.2,223.56 266.95,223.08 267.7,222.61 268.45,222.16 269.2,221.71 269.95,221.26 270.7,220.82 271.45,220.37 272.2,219.92 272.95,219.46 273.7,218.99 274.45,218.5 275.2,218 275.95,217.47 276.7,216.92 277.45,216.34 278.2,215.74 278.95,215.12 279.7,214.49 280.45,213.84 281.2,213.17 281.95,212.51 282.7,211.84 283.45,211.17 284.2,210.51 284.95,209.86 285.7,209.22 286.45,208.58 287.2,207.95 287.95,207.33 288.7,206.7 289.45,206.08 290.2,205.45 290.95,204.83 291.7,204.22 292.45,203.62 293.2,203.03 293.95,202.45 294.7,201.88 295.45,201.33 296.2,200.8 296.95,200.27 297.7,199.76 298.45,199.25 299.2,198.75 299.95,198.26 300.7,197.77 301.45,197.3 302.2,196.84 302.95,196.4 303.7,195.98 304.45,195.58 305.2,195.2 305.95,194.85 306.7,194.52 307.45,194.21 308.2,193.92 308.95,193.65 309.7,193.39 310.45,193.14 311.2,192.9 311.95,192.67 312.7,192.45 313.45,192.24 314.2,192.03 314.95,191.84 315.7,191.65 316.45,191.46 317.2,191.28 317.95,191.1 318.7,190.92 319.45,190.75 320.2,190.57 320.95,190.41 321.7,190.24 322.45,190.09 323.2,189.94 323.95,189.8 324.7,189.67 325.45,189.56 326.2,189.45 326.95,189.36 327.7,189.28 328.45,189.21 329.2,189.14 329.95,189.08 330.7,189.02 331.45,188.98 332.2,188.95 332.95,188.93 333.7,188.93 334.45,188.95 335.2,188.99 335.95,189.05 336.7,189.12 337.45,189.21 338.2,189.3 338.95,189.41 339.7,189.52 340.45,189.65 341.2,189.79 341.95,189.95 342.7,190.13 343.45,190.33 344.2,190.55 344.95,190.79 345.7,191.03 346.45,191.29 347.2,191.55 347.95,191.81 348.7,192.08 349.45,192.34 350.2,192.59 350.95,192.85 351.7,193.1 352.45,193.35 353.2,193.61 353.95,193.87 354.7,194.13 355.45,194.39 356.2,194.66 356.95,194.93 357.7,195.21 358.45,195.49 359.2,195.78 359.95,196.07 360.7,196.37 361.45,196.68 362.2,197 362.95,197.33 363.7,197.67 364.45,198.01 365.2,198.36 365.95,198.71 366.7,199.07 367.45,199.42 368.2,199.77 368.95,200.12 369.7,200.47 370.45,200.8 371.2,201.14 371.95,201.47 372.7,201.79 373.45,202.11 374.2,202.43 374.95,202.75 375.7,203.07 376.45,203.38 377.2,203.69 377.95,204 378.7,204.3 379.45,204.59 380.2,204.88 380.95,205.16 381.7,205.44 382.45,205.71 383.2,205.97 383.95,206.23 384.7,206.48 385.45,206.73 386.2,206.98 386.95,207.22 387.7,207.47 388.45,207.71 389.2,207.94 389.95,208.18 390.7,208.42 391.45,208.65 392.2,208.89 392.95,209.12 393.7,209.36 394.45,209.59 395.2,209.83 395.95,210.06 396.7,210.29 397.45,210.52 398.2,210.74 398.95,210.96 399.7,211.18 400.45,211.39 401.2,211.6 401.95,211.81 402.7,212.01 403.45,212.2 404.2,212.39 404.95,212.58 405.7,212.77 406.45,212.95 407.2,213.13 407.95,213.31 408.7,213.49 409.45,213.67 410.2,213.84 410.95,214.02 411.7,214.2 412.45,214.39 413.2,214.57 413.95,214.75 414.7,214.93 415.45,215.11 416.2,215.3 416.95,215.48 417.7,215.66 418.45,215.84 419.2,216.02 419.95,216.21 420.7,216.39 421.45,216.57 422.2,216.75 422.95,216.93 423.7,217.11 424.45,217.29 425.2,217.47 425.95,217.63 426.7,217.78 427.4,217.88" fill="none" stroke="#2ca02c" stroke-width="1.5" stroke-linejoin="round" stroke-linecap="butt" />
<polyline points="239.2,237.1 239.95,237.1 240.7,237.1 241.45,237.1 242.2,237.1 242.95,237.1 243.7,237.1 244.45,237.1 245.2,237.09 245.95,237.08 246.7,237.07 247.45,237.05 248.2,237.02 248.95,236.99 249.7,236.96 250.45,236.92 251.2,236.88 251.95,236.84 252.7,236.8 253.45,236.75 254.2,236.69 254.95,236.64 255.7,236.58 256.45,236.5 257.2,236.41 257.95,236.31 258.7,236.19 259.45,236.06 260.2,235.92 260.95,235.77 261.7,235.61 262.45,235.45 263.2,235.28 263.95,235.12 264.7,234.95 265.45,234.79 266.2,234.63 266.95,234.48 267.7,234.32 268.45,234.17 269.2,234.02 269.95,233.87 270.7,233.72 271.45,233.57 272.2,233.41 272.95,233.26 273.7,233.11 274.45,232.96 275.2,232.81 275.95,232.67 276.7,232.52 277.45,232.38 278.2,232.25 278.95,232.11 279.7,231.98 280.45,231.85 281.2,231.72 281.95,231.59 282.7,231.46 283.45,231.34 284.2,231.22 284.95,231.09 285.7,230.98 286.45,230.86 287.2,230.75 287.95,230.65 288.7,230.55 289.45,230.46 290.2,230.37 290.95,230.29 291.7,230.21 292.45,230.13 293.2,230.05 293.95,229.97 294.7,229.89 295.45,229.82 296.2,229.75 296.95,229.68 297.7,229.62 298.45,229.57 299.2,229.52 299.95,229.48 300.7,229.45 301.45,229.43 302.2,229.41 302.95,229.41 303.7,229.41 304.45,229.41 305.2,229.42 305.95,229.43 306.7,229.44 307.45,229.45 308.2,229.46 308.95,229.49 309.7,229.52 310.45,229.57 311.2,229.65 311.95,229.76 312.7,229.89 313.45,230.05 314.2,230.22 314.95,230.4 315.7,230.58 316.45,230.75 317.2,230.91 317.95,231.06 318.7,231.21 319.45,231.35 320.2,231.5 320.95,231.64 321.7,231.78 322.45,231.93 323.2,232.07 323.95,232.21 324.7,232.36 325.45,232.5 326.2,232.64 326.95,232.78 327.7,232.92 328.45,233.06 329.2,233.19 329.95,233.33 330.7,233.46 331.45,233.59 332.2,233.72 332.95,233.85 333.7,233.98 334.45,234.11 335.2,234.24 335.95,234.37 336.7,234.5 337.45,234.64 338.2,234.77 338.95,234.91 339.7,235.06 340.45,235.2 341.2,235.34 341.95,235.47 342.7,235.6 343.45,235.73 344.2,235.85 344.95,235.97 345.7,236.07 346.45,236.17 347.2,236.26 347.95,236.33 348.7,236.39 349.45,236.44 350.2,236.48 350.95,236.5 351.7,236.53 352.45,236.55 353.2,236.56 353.95,236.58 354.7,236.6 355.45,236.61 356.2,236.63 356.95,236.65 357.7,236.66 358.45,236.68 359.2,236.69 359.95,236.71 360.7,236.72 361.45,236.74 362.2,236.75 362.95,236.77 363.7,236.78 364.45,236.79 365.2,236.81 365.95,236.82 366.7,236.83 367.45,236.85 368.2,236.86 368.95,236.87 369.7,236.88 370.45,236.9 371.2,236.91 371.95,236.92 372.7,236.93 373.45,236.94 374.2,236.95 374.95,236.96 375.7,236.98 376.45,236.99 377.2,237 377.95,237.01 378.7,237.02 379.45,237.03 380.2,237.03 380.95,237.04 381.7,237.05 382.45,237.06 383.2,237.07 383.95,237.08 384.7,237.09 385.45,237.1 386.2,237.1 386.95,237.11 387.7,237.12 388.45,237.13 389.2,237.13 389.95,237.14 390.7,237.15 391.45,237.15 392.2,237.16 392.95,237.17 393.7,237.17 394.45,237.18 395.2,237.19 395.95,237.19 396.7,237.2 397.45,237.2 398.2,237.21 398.95,237.21 399.7,237.22 400.45,237.22 401.2,237.23 401.95,237.23 402.7,237.23 403.45,237.24 404.2,237.24 404.95,237.25 405.7,237.25 406.45,237.25 407.2,237.26 407.95,237.26 408.7,237.26 409.45,237.27 410.2,237.27 410.95,237.27 411.7,237.27 412.45,237.28 413.2,237.28 413.95,237.28 414.7,237.28 415.45,237.29 416.2,237.29 416.95,237.29 417.7,237.29 418.45,237.29 419.2,237.29 419.95,237.29 420.7,237.3 421.45,237.3 422.2,237.3 422.95,237.3 423.7,237.3 424.45,237.3 425.2,237.3 425.95,237.3 426.7,237.3 427.4,237.3" fill="none" stroke="#d62728" stroke-width="1.3" stroke-linejoin="round" stroke-linecap="butt" stroke-dasharray="4.8,2.1" stroke-opacity="0.55"/>
<polyline points="239.2,237.1 239.95,237.1 240.7,237.1 241.45,237.1 242.2,237.1 242.95,237.1 243.7,237.1 244.45,237.1 245.2,237.59 245.95,238.05 246.7,238.7 247.45,239.52 248.2,240.47 248.95,241.5 249.7,242.56 250.45,243.62 251.2,244.65 251.95,245.66 252.7,246.67 253.45,247.68 254.2,248.72 254.95,249.77 255.7,250.84 256.45,251.94 257.2,253.05 257.95,254.19 258.7,255.33 259.45,256.48 260.2,257.62 260.95,258.76 261.7,259.88 262.45,260.98 263.2,262.07 263.95,263.16 264.7,264.22 265.45,265.27 266.2,266.3 266.95,267.3 267.7,268.27 268.45,269.21 269.2,270.11 269.95,270.99 270.7,271.87 271.45,272.75 272.2,273.64 272.95,274.58 273.7,275.56 274.45,276.59 275.2,277.67 275.95,278.79 276.7,279.93 277.45,281.08 278.2,282.2 278.95,283.3 279.7,284.33 280.45,285.31 281.2,286.21 281.95,287.05 282.7,287.84 283.45,288.58 284.2,289.29 284.95,289.97 285.7,290.63 286.45,291.28 287.2,291.92 287.95,292.55 288.7,293.18 289.45,293.82 290.2,294.47 290.95,295.14 291.7,295.81 292.45,296.5 293.2,297.19 293.95,297.89 294.7,298.58 295.45,299.27 296.2,299.93 296.95,300.58 297.7,301.2 298.45,301.78 299.2,302.34 299.95,302.86 300.7,303.35 301.45,303.83 302.2,304.28 302.95,304.73 303.7,305.15 304.45,305.56 305.2,305.95 305.95,306.32 306.7,306.67 307.45,306.98 308.2,307.27 308.95,307.53 309.7,307.77 310.45,307.99 311.2,308.2 311.95,308.4 312.7,308.6 313.45,308.78 314.2,308.95 314.95,309.1 315.7,309.24 316.45,309.35 317.2,309.45 317.95,309.51 318.7,309.56 319.45,309.58 320.2,309.59 320.95,309.59 321.7,309.58 322.45,309.57 323.2,309.56 323.95,309.55 324.7,309.53 325.45,309.52 326.2,309.5 326.95,309.48 327.7,309.45 328.45,309.43 329.2,309.4 329.95,309.38 330.7,309.35 331.45,309.32 332.2,309.28 332.95,309.23 333.7,309.18 334.45,309.11 335.2,309.04 335.95,308.95 336.7,308.86 337.45,308.76 338.2,308.64 338.95,308.53 339.7,308.4 340.45,308.27 341.2,308.14 341.95,307.99 342.7,307.84 343.45,307.66 344.2,307.48 344.95,307.27 345.7,307.05 346.45,306.81 347.2,306.56 347.95,306.29 348.7,306.01 349.45,305.72 350.2,305.42 350.95,305.11 351.7,304.79 352.45,304.47 353.2,304.14 353.95,303.81 354.7,303.47 355.45,303.13 356.2,302.8 356.95,302.46 357.7,302.12 358.45,301.78 359.2,301.45 359.95,301.12 360.7,300.79 361.45,300.46 362.2,300.12 362.95,299.78 363.7,299.44 364.45,299.09 365.2,298.74 365.95,298.38 366.7,298.02 367.45,297.66 368.2,297.29 368.95,296.92 369.7,296.55 370.45,296.17 371.2,295.8 371.95,295.42 372.7,295.03 373.45,294.65 374.2,294.26 374.95,293.87 375.7,293.48 376.45,293.09 377.2,292.7 377.95,292.31 378.7,291.91 379.45,291.52 380.2,291.12 380.95,290.73 381.7,290.33 382.45,289.94 383.2,289.54 383.95,289.15 384.7,288.76 385.45,288.36 386.2,287.97 386.95,287.58 387.7,287.18 388.45,286.79 389.2,286.39 389.95,285.99 390.7,285.59 391.45,285.19 392.2,284.79 392.95,284.39 393.7,283.99 394.45,283.59 395.2,283.18 395.95,282.77 396.7,282.37 397.45,281.96 398.2,281.55 398.95,281.14 399.7,280.72 400.45,280.31 401.2,279.89 401.95,279.48 402.7,279.06 403.45,278.64 404.2,278.22 404.95,277.79 405.7,277.37 406.45,276.94 407.2,276.51 407.95,276.08 408.7,275.65 409.45,275.22 410.2,274.78 410.95,274.34 411.7,273.9 412.45,273.46 413.2,273.01 413.95,272.57 414.7,272.12 415.45,271.66 416.2,271.21 416.95,270.75 417.7,270.29 418.45,269.83 419.2,269.37 419.95,268.91 420.7,268.44 421.45,267.97 422.2,267.5 422.95,267.03 423.7,266.56 424.45,266.08 425.2,265.62 425.95,265.18 426.7,264.8 427.4,264.51" fill="none" stroke="#9467bd" stroke-width="1.3" stroke-linejoin="round" stroke-linecap="butt" stroke-dasharray="4.8,2.1" stroke-opacity="0.55"/>
<polyline points="239.2,237.1 239.95,237.1 240.7,237.1 241.45,237.1 242.2,237.1 242.95,237.1 243.7,237.1 244.45,237.1 245.2,237.28 245.95,237.45 246.7,237.7 247.45,238.03 248.2,238.44 248.95,238.91 249.7,239.44 250.45,240.01 251.2,240.62 251.95,241.25 252.7,241.9 253.45,242.54 254.2,243.18 254.95,243.8 255.7,244.39 256.45,244.94 257.2,245.45 257.95,245.91 258.7,246.34 259.45,246.74 260.2,247.12 260.95,247.48 261.7,247.84 262.45,248.19 263.2,248.53 263.95,248.87 264.7,249.2 265.45,249.54 266.2,249.87 266.95,250.21 267.7,250.56 268.45,250.91 269.2,251.27 269.95,251.63 270.7,252 271.45,252.37 272.2,252.75 272.95,253.12 273.7,253.5 274.45,253.88 275.2,254.26 275.95,254.65 276.7,255.04 277.45,255.43 278.2,255.82 278.95,256.22 279.7,256.62 280.45,257.02 281.2,257.43 281.95,257.84 282.7,258.26 283.45,258.68 284.2,259.11 284.95,259.55 285.7,260 286.45,260.47 287.2,260.95 287.95,261.44 288.7,261.94 289.45,262.44 290.2,262.94 290.95,263.43 291.7,263.91 292.45,264.37 293.2,264.81 293.95,265.23 294.7,265.63 295.45,266.01 296.2,266.38 296.95,266.74 297.7,267.1 298.45,267.44 299.2,267.78 299.95,268.11 300.7,268.43 301.45,268.75 302.2,269.06 302.95,269.37 303.7,269.67 304.45,269.96 305.2,270.25 305.95,270.54 306.7,270.82 307.45,271.09 308.2,271.36 308.95,271.63 309.7,271.9 310.45,272.16 311.2,272.42 311.95,272.68 312.7,272.94 313.45,273.19 314.2,273.44 314.95,273.67 315.7,273.9 316.45,274.12 317.2,274.32 317.95,274.5 318.7,274.68 319.45,274.84 320.2,274.99 320.95,275.13 321.7,275.27 322.45,275.4 323.2,275.53 323.95,275.66 324.7,275.78 325.45,275.89 326.2,276 326.95,276.1 327.7,276.2 328.45,276.28 329.2,276.36 329.95,276.44 330.7,276.5 331.45,276.56 332.2,276.6 332.95,276.65 333.7,276.69 334.45,276.73 335.2,276.77 335.95,276.8 336.7,276.83 337.45,276.85 338.2,276.87 338.95,276.88 339.7,276.89 340.45,276.88 341.2,276.86 341.95,276.84 342.7,276.8 343.45,276.75 344.2,276.68 344.95,276.61 345.7,276.52 346.45,276.43 347.2,276.32 347.95,276.2 348.7,276.08 349.45,275.94 350.2,275.8 350.95,275.65 351.7,275.49 352.45,275.32 353.2,275.15 353.95,274.97 354.7,274.78 355.45,274.59 356.2,274.39 356.95,274.18 357.7,273.98 358.45,273.76 359.2,273.55 359.95,273.32 360.7,273.1 361.45,272.87 362.2,272.64 362.95,272.41 363.7,272.18 364.45,271.94 365.2,271.71 365.95,271.47 366.7,271.23 367.45,271 368.2,270.76 368.95,270.52 369.7,270.29 370.45,270.06 371.2,269.83 371.95,269.6 372.7,269.37 373.45,269.15 374.2,268.93 374.95,268.71 375.7,268.49 376.45,268.27 377.2,268.04 377.95,267.8 378.7,267.56 379.45,267.32 380.2,267.07 380.95,266.81 381.7,266.55 382.45,266.29 383.2,266.02 383.95,265.75 384.7,265.48 385.45,265.2 386.2,264.93 386.95,264.65 387.7,264.37 388.45,264.09 389.2,263.81 389.95,263.53 390.7,263.25 391.45,262.98 392.2,262.7 392.95,262.42 393.7,262.15 394.45,261.88 395.2,261.62 395.95,261.35 396.7,261.09 397.45,260.84 398.2,260.59 398.95,260.34 399.7,260.1 400.45,259.86 401.2,259.63 401.95,259.39 402.7,259.16 403.45,258.93 404.2,258.7 404.95,258.47 405.7,258.24 406.45,258.02 407.2,257.79 407.95,257.57 408.7,257.35 409.45,257.12 410.2,256.9 410.95,256.68 411.7,256.47 412.45,256.25 413.2,256.03 413.95,255.82 414.7,255.6 415.45,255.39 416.2,255.18 416.95,254.97 417.7,254.77 418.45,254.56 419.2,254.35 419.95,254.15 420.7,253.95 421.45,253.75 422.2,253.55 422.95,253.35 423.7,253.15 424.45,252.96 425.2,252.77 425.95,252.59 426.7,252.44 427.4,252.32" fill="none" stroke="#8c564b" stroke-width="1.3" stroke-linejoin="round" stroke-linecap="butt" stroke-dasharray="4.8,2.1" stroke-opacity="0.55"/>
<polyline points="239.2,237.1 239.95,237.1 240.7,237.1 241.45,237.1 242.2,237.1 242.95,237.1 243.7,237.1 244.45,237.1 245.2,237.23 245.95,237.35 246.7,237.53 247.45,237.77 248.2,238.07 248.95,238.43 249.7,238.82 250.45,239.26 251.2,239.73 251.95,240.22 252.7,240.74 253.45,241.26 254.2,241.8 254.95,242.33 255.7,242.86 256.45,243.37 257.2,243.87 257.95,244.33 258.7,244.77 259.45,245.18 260.2,245.56 260.95,245.91 261.7,246.25 262.45,246.58 263.2,246.9 263.95,247.22 264.7,247.53 265.45,247.83 266.2,248.13 266.95,248.43 267.7,248.73 268.45,249.02 269.2,249.31 269.95,249.61 270.7,249.9 271.45,250.19 272.2,250.49 272.95,250.79 273.7,251.09 274.45,251.4 275.2,251.71 275.95,252.03 276.7,252.35 277.45,252.68 278.2,253 278.95,253.33 279.7,253.66 280.45,253.99 281.2,254.31 281.95,254.63 282.7,254.95 283.45,255.26 284.2,255.56 284.95,255.85 285.7,256.13 286.45,256.4 287.2,256.65 287.95,256.89 288.7,257.12 289.45,257.34 290.2,257.54 290.95,257.74 291.7,257.93 292.45,258.13 293.2,258.32 293.95,258.51 294.7,258.7 295.45,258.89 296.2,259.07 296.95,259.26 297.7,259.43 298.45,259.61 299.2,259.77 299.95,259.93 300.7,260.08 301.45,260.23 302.2,260.36 302.95,260.49 303.7,260.61 304.45,260.71 305.2,260.8 305.95,260.88 306.7,260.95 307.45,261.01 308.2,261.05 308.95,261.07 309.7,261.09 310.45,261.09 311.2,261.09 311.95,261.08 312.7,261.07 313.45,261.06 314.2,261.04 314.95,261.02 315.7,261 316.45,260.98 317.2,260.95 317.95,260.93 318.7,260.9 319.45,260.87 320.2,260.83 320.95,260.8 321.7,260.76 322.45,260.73 323.2,260.69 323.95,260.65 324.7,260.61 325.45,260.57 326.2,260.53 326.95,260.48 327.7,260.44 328.45,260.38 329.2,260.32 329.95,260.25 330.7,260.18 331.45,260.1 332.2,260.02 332.95,259.93 333.7,259.84 334.45,259.75 335.2,259.65 335.95,259.55 336.7,259.45 337.45,259.35 338.2,259.25 338.95,259.14 339.7,259.04 340.45,258.93 341.2,258.83 341.95,258.72 342.7,258.6 343.45,258.48 344.2,258.36 344.95,258.24 345.7,258.11 346.45,257.98 347.2,257.85 347.95,257.71 348.7,257.57 349.45,257.43 350.2,257.29 350.95,257.14 351.7,257 352.45,256.85 353.2,256.7 353.95,256.55 354.7,256.4 355.45,256.25 356.2,256.09 356.95,255.94 357.7,255.78 358.45,255.63 359.2,255.47 359.95,255.32 360.7,255.17 361.45,255.01 362.2,254.86 362.95,254.71 363.7,254.56 364.45,254.4 365.2,254.26 365.95,254.11 366.7,253.96 367.45,253.82 368.2,253.68 368.95,253.54 369.7,253.4 370.45,253.26 371.2,253.13 371.95,253 372.7,252.87 373.45,252.75 374.2,252.63 374.95,252.51 375.7,252.39 376.45,252.28 377.2,252.16 377.95,252.05 378.7,251.94 379.45,251.82 380.2,251.71 380.95,251.6 381.7,251.49 382.45,251.38 383.2,251.27 383.95,251.16 384.7,251.05 385.45,250.94 386.2,250.83 386.95,250.72 387.7,250.61 388.45,250.5 389.2,250.4 389.95,250.29 390.7,250.18 391.45,250.08 392.2,249.97 392.95,249.87 393.7,249.76 394.45,249.66 395.2,249.56 395.95,249.46 396.7,249.35 397.45,249.25 398.2,249.15 398.95,249.05 399.7,248.95 400.45,248.85 401.2,248.76 401.95,248.66 402.7,248.56 403.45,248.47 404.2,248.37 404.95,248.28 405.7,248.18 406.45,248.09 407.2,248 407.95,247.91 408.7,247.81 409.45,247.72 410.2,247.63 410.95,247.55 411.7,247.46 412.45,247.37 413.2,247.28 413.95,247.2 414.7,247.11 415.45,247.03 416.2,246.95 416.95,246.86 417.7,246.78 418.45,246.7 419.2,246.62 419.95,246.54 420.7,246.46 421.45,246.38 422.2,246.31 422.95,246.23 423.7,246.16 424.45,246.08 425.2,246.01 425.95,245.95 426.7,245.89 427.4,245.85" fill="none" stroke="#e377c2" stroke-width="1.3" stroke-linejoin="round" stroke-linecap="butt" stroke-dasharray="4.8,2.1" stroke-opacity="0.55"/>
<polyline points="239.2,237.1 239.95,237.1 240.7,237.1 241.45,237.1 242.2,237.1 242.95,237.1 243.7,237.1 244.45,237.1 245.2,237.21 245.95,237.32 246.7,237.47 247.45,237.68 248.2,237.94 248.95,238.24 249.7,238.59 250.45,238.96 251.2,239.37 251.95,239.8 252.7,240.24 253.45,240.7 254.2,241.16 254.95,241.62 255.7,242.07 256.45,242.52 257.2,242.94 257.95,243.35 258.7,243.73 259.45,244.1 260.2,244.44 260.95,244.78 261.7,245.1 262.45,245.43 263.2,245.75 263.95,246.07 264.7,246.39 265.45,246.7 266.2,247.01 266.95,247.33 267.7,247.63 268.45,247.94 269.2,248.24 269.95,248.54 270.7,248.84 271.45,249.15 272.2,249.46 272.95,249.78 273.7,250.12 274.45,250.47 275.2,250.83 275.95,251.21 276.7,251.59 277.45,251.97 278.2,252.35 278.95,252.73 279.7,253.1 280.45,253.48 281.2,253.85 281.95,254.22 282.7,254.58 283.45,254.91 284.2,255.21 284.95,255.47 285.7,255.72 286.45,255.94 287.2,256.14 287.95,256.34 288.7,256.53 289.45,256.72 290.2,256.9 290.95,257.07 291.7,257.23 292.45,257.39 293.2,257.53 293.95,257.67 294.7,257.8 295.45,257.92 296.2,258.02 296.95,258.12 297.7,258.2 298.45,258.27 299.2,258.33 299.95,258.38 300.7,258.42 301.45,258.46 302.2,258.49 302.95,258.52 303.7,258.55 304.45,258.58 305.2,258.61 305.95,258.64 306.7,258.66 307.45,258.68 308.2,258.7 308.95,258.72 309.7,258.74 310.45,258.75 311.2,258.77 311.95,258.78 312.7,258.79 313.45,258.79 314.2,258.8 314.95,258.8 315.7,258.8 316.45,258.8 317.2,258.79 317.95,258.79 318.7,258.79 319.45,258.78 320.2,258.78 320.95,258.77 321.7,258.76 322.45,258.75 323.2,258.74 323.95,258.74 324.7,258.73 325.45,258.71 326.2,258.7 326.95,258.69 327.7,258.68 328.45,258.67 329.2,258.65 329.95,258.64 330.7,258.62 331.45,258.61 332.2,258.59 332.95,258.57 333.7,258.54 334.45,258.51 335.2,258.47 335.95,258.42 336.7,258.37 337.45,258.32 338.2,258.26 338.95,258.19 339.7,258.12 340.45,258.05 341.2,257.97 341.95,257.89 342.7,257.8 343.45,257.71 344.2,257.61 344.95,257.52 345.7,257.42 346.45,257.31 347.2,257.21 347.95,257.1 348.7,256.99 349.45,256.88 350.2,256.76 350.95,256.65 351.7,256.53 352.45,256.42 353.2,256.3 353.95,256.18 354.7,256.06 355.45,255.94 356.2,255.82 356.95,255.7 357.7,255.58 358.45,255.47 359.2,255.35 359.95,255.23 360.7,255.12 361.45,255.01 362.2,254.9 362.95,254.79 363.7,254.68 364.45,254.58 365.2,254.47 365.95,254.37 366.7,254.27 367.45,254.17 368.2,254.07 368.95,253.97 369.7,253.86 370.45,253.76 371.2,253.66 371.95,253.56 372.7,253.45 373.45,253.35 374.2,253.25 374.95,253.14 375.7,253.04 376.45,252.93 377.2,252.83 377.95,252.72 378.7,252.62 379.45,252.51 380.2,252.41 380.95,252.3 381.7,252.2 382.45,252.09 383.2,251.98 383.95,251.88 384.7,251.77 385.45,251.66 386.2,251.55 386.95,251.45 387.7,251.34 388.45,251.23 389.2,251.12 389.95,251.01 390.7,250.9 391.45,250.79 392.2,250.68 392.95,250.57 393.7,250.46 394.45,250.35 395.2,250.24 395.95,250.13 396.7,250.02 397.45,249.91 398.2,249.79 398.95,249.68 399.7,249.57 400.45,249.45 401.2,249.34 401.95,249.23 402.7,249.11 403.45,249 404.2,248.89 404.95,248.77 405.7,248.66 406.45,248.54 407.2,248.43 407.95,248.31 408.7,248.19 409.45,248.08 410.2,247.96 410.95,247.84 411.7,247.73 412.45,247.61 413.2,247.49 413.95,247.37 414.7,247.25 415.45,247.13 416.2,247.02 416.95,246.9 417.7,246.78 418.45,246.66 419.2,246.54 419.95,246.42 420.7,246.29 421.45,246.17 422.2,246.05 422.95,245.93 423.7,245.81 424.45,245.69 425.2,245.57 425.95,245.45 426.7,245.35 427.4,245.28" fill="none" stroke="#7f7f7f" stroke-width="1.3" stroke-linejoin="round" stroke-linecap="butt" stroke-dasharray="4.8,2.1" stroke-opacity="0.55"/>
<polyline points="239.2,237.1 239.95,237.1 240.7,237.1 241.45,237.1 242.2,237.1 242.95,237.1 243.7,237.1 244.45,237.1 245.2,237.19 245.95,237.27 246.7,237.39 247.45,237.55 248.2,237.75 248.95,237.97 249.7,238.22 250.45,238.48 251.2,238.76 251.95,239.04 252.7,239.32 253.45,239.58 254.2,239.84 254.95,240.08 255.7,240.31 256.45,240.53 257.2,240.74 257.95,240.95 258.7,241.16 259.45,241.37 260.2,241.57 260.95,241.78 261.7,241.98 262.45,242.18 263.2,242.37 263.95,242.56 264.7,242.75 265.45,242.92 266.2,243.09 266.95,243.25 267.7,243.41 268.45,243.55 269.2,243.69 269.95,243.82 270.7,243.95 271.45,244.07 272.2,244.19 272.95,244.3 273.7,244.42 274.45,244.53 275.2,244.64 275.95,244.76 276.7,244.87 277.45,244.99 278.2,245.12 278.95,245.25 279.7,245.38 280.45,245.52 281.2,245.66 281.95,245.81 282.7,245.96 283.45,246.11 284.2,246.26 284.95,246.42 285.7,246.57 286.45,246.73 287.2,246.88 287.95,247.03 288.7,247.19 289.45,247.33 290.2,247.48 290.95,247.63 291.7,247.77 292.45,247.92 293.2,248.06 293.95,248.2 294.7,248.34 295.45,248.49 296.2,248.63 296.95,248.77 297.7,248.9 298.45,249.04 299.2,249.17 299.95,249.29 300.7,249.42 301.45,249.54 302.2,249.65 302.95,249.76 303.7,249.88 304.45,249.99 305.2,250.1 305.95,250.21 306.7,250.32 307.45,250.42 308.2,250.52 308.95,250.62 309.7,250.72 310.45,250.81 311.2,250.89 311.95,250.97 312.7,251.04 313.45,251.1 314.2,251.15 314.95,251.2 315.7,251.25 316.45,251.29 317.2,251.33 317.95,251.36 318.7,251.4 319.45,251.44 320.2,251.47 320.95,251.51 321.7,251.54 322.45,251.58 323.2,251.61 323.95,251.64 324.7,251.67 325.45,251.7 326.2,251.73 326.95,251.75 327.7,251.78 328.45,251.8 329.2,251.83 329.95,251.85 330.7,251.87 331.45,251.89 332.2,251.91 332.95,251.92 333.7,251.94 334.45,251.95 335.2,251.96 335.95,251.97 336.7,251.98 337.45,251.99 338.2,251.99 338.95,251.99 339.7,252 340.45,251.99 341.2,251.99 341.95,251.97 342.7,251.96 343.45,251.93 344.2,251.91 344.95,251.88 345.7,251.84 346.45,251.8 347.2,251.75 347.95,251.71 348.7,251.65 349.45,251.6 350.2,251.54 350.95,251.47 351.7,251.41 352.45,251.34 353.2,251.26 353.95,251.19 354.7,251.11 355.45,251.03 356.2,250.95 356.95,250.86 357.7,250.78 358.45,250.69 359.2,250.6 359.95,250.51 360.7,250.42 361.45,250.33 362.2,250.23 362.95,250.14 363.7,250.05 364.45,249.95 365.2,249.86 365.95,249.76 366.7,249.67 367.45,249.58 368.2,249.48 368.95,249.39 369.7,249.3 370.45,249.21 371.2,249.12 371.95,249.04 372.7,248.95 373.45,248.87 374.2,248.79 374.95,248.71 375.7,248.63 376.45,248.55 377.2,248.47 377.95,248.39 378.7,248.31 379.45,248.23 380.2,248.16 380.95,248.08 381.7,248 382.45,247.92 383.2,247.83 383.95,247.75 384.7,247.67 385.45,247.59 386.2,247.51 386.95,247.43 387.7,247.35 388.45,247.26 389.2,247.18 389.95,247.1 390.7,247.02 391.45,246.93 392.2,246.85 392.95,246.76 393.7,246.68 394.45,246.6 395.2,246.51 395.95,246.43 396.7,246.34 397.45,246.25 398.2,246.17 398.95,246.08 399.7,246 400.45,245.91 401.2,245.82 401.95,245.73 402.7,245.65 403.45,245.56 404.2,245.47 404.95,245.38 405.7,245.29 406.45,245.2 407.2,245.11 407.95,245.02 408.7,244.93 409.45,244.84 410.2,244.75 410.95,244.66 411.7,244.57 412.45,244.48 413.2,244.39 413.95,244.3 414.7,244.2 415.45,244.11 416.2,244.02 416.95,243.93 417.7,243.83 418.45,243.74 419.2,243.65 419.95,243.55 420.7,243.46 421.45,243.36 422.2,243.27 422.95,243.17 423.7,243.08 424.45,242.98 425.2,242.89 425.95,242.8 426.7,242.72 427.4,242.66" fill="none" stroke="#bcbd22" stroke-width="1.3" stroke-linejoin="round" stroke-linecap="butt" stroke-dasharray="4.8,2.1" stroke-opacity="0.55"/>
<polyline points="239.2,237.1 239.95,237.1 240.7,237.1 241.45,237.1 242.2,237.1 242.95,237.1 243.7,237.1 244.45,237.1 245.2,237.34 245.95,237.57 246.7,237.91 247.45,238.36 248.2,238.9 248.95,239.53 249.7,240.22 250.45,240.96 251.2,241.74 251.95,242.54 252.7,243.34 253.45,244.12 254.2,244.88 254.95,245.59 255.7,246.27 256.45,246.9 257.2,247.51 257.95,248.11 258.7,248.7 259.45,249.29 260.2,249.89 260.95,250.5 261.7,251.13 262.45,251.78 263.2,252.44 263.95,253.11 264.7,253.79 265.45,254.48 266.2,255.15 266.95,255.81 267.7,256.45 268.45,257.08 269.2,257.69 269.95,258.29 270.7,258.88 271.45,259.47 272.2,260.07 272.95,260.67 273.7,261.29 274.45,261.93 275.2,262.57 275.95,263.23 276.7,263.9 277.45,264.56 278.2,265.21 278.95,265.84 279.7,266.45 280.45,267.04 281.2,267.6 281.95,268.13 282.7,268.64 283.45,269.13 284.2,269.6 284.95,270.05 285.7,270.51 286.45,270.95 287.2,271.4 287.95,271.85 288.7,272.31 289.45,272.78 290.2,273.26 290.95,273.77 291.7,274.28 292.45,274.82 293.2,275.37 293.95,275.92 294.7,276.48 295.45,277.05 296.2,277.6 296.95,278.15 297.7,278.68 298.45,279.2 299.2,279.7 299.95,280.18 300.7,280.64 301.45,281.1 302.2,281.54 302.95,281.97 303.7,282.39 304.45,282.8 305.2,283.2 305.95,283.59 306.7,283.96 307.45,284.31 308.2,284.65 308.95,284.97 309.7,285.28 310.45,285.57 311.2,285.85 311.95,286.12 312.7,286.38 313.45,286.64 314.2,286.88 314.95,287.11 315.7,287.33 316.45,287.54 317.2,287.73 317.95,287.91 318.7,288.08 319.45,288.24 320.2,288.38 320.95,288.53 321.7,288.66 322.45,288.79 323.2,288.92 323.95,289.04 324.7,289.16 325.45,289.27 326.2,289.38 326.95,289.48 327.7,289.57 328.45,289.66 329.2,289.74 329.95,289.82 330.7,289.89 331.45,289.95 332.2,290.01 332.95,290.07 333.7,290.12 334.45,290.17 335.2,290.22 335.95,290.26 336.7,290.3 337.45,290.33 338.2,290.36 338.95,290.37 339.7,290.38 340.45,290.37 341.2,290.35 341.95,290.31 342.7,290.25 343.45,290.17 344.2,290.08 344.95,289.97 345.7,289.85 346.45,289.72 347.2,289.57 347.95,289.41 348.7,289.24 349.45,289.07 350.2,288.88 350.95,288.69 351.7,288.48 352.45,288.28 353.2,288.07 353.95,287.85 354.7,287.64 355.45,287.42 356.2,287.2 356.95,286.98 357.7,286.76 358.45,286.54 359.2,286.33 359.95,286.11 360.7,285.89 361.45,285.66 362.2,285.43 362.95,285.19 363.7,284.94 364.45,284.68 365.2,284.41 365.95,284.13 366.7,283.85 367.45,283.56 368.2,283.26 368.95,282.96 369.7,282.66 370.45,282.35 371.2,282.03 371.95,281.71 372.7,281.39 373.45,281.06 374.2,280.74 374.95,280.41 375.7,280.08 376.45,279.75 377.2,279.42 377.95,279.09 378.7,278.76 379.45,278.43 380.2,278.11 380.95,277.79 381.7,277.47 382.45,277.15 383.2,276.84 383.95,276.53 384.7,276.23 385.45,275.92 386.2,275.63 386.95,275.33 387.7,275.03 388.45,274.74 389.2,274.44 389.95,274.15 390.7,273.85 391.45,273.56 392.2,273.27 392.95,272.98 393.7,272.68 394.45,272.39 395.2,272.1 395.95,271.8 396.7,271.51 397.45,271.22 398.2,270.92 398.95,270.63 399.7,270.34 400.45,270.04 401.2,269.75 401.95,269.45 402.7,269.15 403.45,268.85 404.2,268.55 404.95,268.25 405.7,267.95 406.45,267.65 407.2,267.35 407.95,267.04 408.7,266.73 409.45,266.42 410.2,266.12 410.95,265.8 411.7,265.49 412.45,265.18 413.2,264.86 413.95,264.55 414.7,264.23 415.45,263.91 416.2,263.59 416.95,263.27 417.7,262.95 418.45,262.63 419.2,262.3 419.95,261.98 420.7,261.65 421.45,261.32 422.2,261 422.95,260.67 423.7,260.34 424.45,260.01 425.2,259.69 425.95,259.38 426.7,259.11 427.4,258.92" fill="none" stroke="#17becf" stroke-width="1.3" stroke-linejoin="round" stroke-linecap="butt" stroke-dasharray="4.8,2.1" stroke-opacity="0.55"/>
<polyline points="450.3,246.3 451.05,246.3 451.8,246.3 452.55,246.3 453.3,246.3 454.05,246.3 454.8,246.3 455.55,246.3 456.3,246.3 457.05,246.3 457.8,246.3 458.55,246.36 459.3,246.43 460.05,246.54 460.8,246.69 461.55,246.88 462.3,247.11 463.05,247.37 463.8,247.67 464.55,247.98 465.3,248.32 466.05,248.68 466.8,249.04 467.55,249.42 468.3,249.79 469.05,250.16 469.8,250.53 470.55,250.89 471.3,251.23 472.05,251.54 472.8,251.84 473.55,252.11 474.3,252.36 475.05,252.59 475.8,252.81 476.55,253.01 477.3,253.2 478.05,253.38 478.8,253.56 479.55,253.74 480.3,253.91 481.05,254.08 481.8,254.26 482.55,254.44 483.3,254.62 484.05,254.81 484.8,255 485.55,255.21 486.3,255.43 487.05,255.66 487.8,255.92 488.55,256.19 489.3,256.5 490.05,256.84 490.8,257.22 491.55,257.63 492.3,258.06 493.05,258.5 493.8,258.95 494.55,259.39 495.3,259.82 496.05,260.22 496.8,260.59 497.55,260.93 498.3,261.25 499.05,261.54 499.8,261.82 500.55,262.09 501.3,262.35 502.05,262.59 502.8,262.83 503.55,263.07 504.3,263.3 505.05,263.52 505.8,263.74 506.55,263.95 507.3,264.16 508.05,264.37 508.8,264.58 509.55,264.79 510.3,264.99 511.05,265.2 511.8,265.41 512.55,265.62 513.3,265.84 514.05,266.06 514.8,266.28 515.55,266.51 516.3,266.74 517.05,266.97 517.8,267.21 518.55,267.44 519.3,267.67 520.05,267.91 520.8,268.14 521.55,268.37 522.3,268.59 523.05,268.82 523.8,269.04 524.55,269.27 525.3,269.49 526.05,269.72 526.8,269.94 527.55,270.17 528.3,270.39 529.05,270.6 529.8,270.8 530.55,271 531.3,271.17 532.05,271.34 532.8,271.49 533.55,271.63 534.3,271.76 535.05,271.89 535.8,272.01 536.55,272.13 537.3,272.24 538.05,272.34 538.8,272.42 539.55,272.49 540.3,272.54 541.05,272.57 541.8,272.59 542.55,272.6 543.3,272.6 544.05,272.6 544.8,272.6 545.55,272.6 546.3,272.6 547.05,272.6 547.8,272.6 548.55,272.6 549.3,272.6 550.05,272.59 550.8,272.58 551.55,272.57 552.3,272.54 553.05,272.5 553.8,272.46 554.55,272.4 555.3,272.34 556.05,272.28 556.8,272.21 557.55,272.14 558.3,272.07 559.05,271.99 559.8,271.92 560.55,271.84 561.3,271.76 562.05,271.68 562.8,271.6 563.55,271.51 564.3,271.41 565.05,271.31 565.8,271.21 566.55,271.11 567.3,271 568.05,270.89 568.8,270.77 569.55,270.65 570.3,270.53 571.05,270.4 571.8,270.28 572.55,270.14 573.3,270.01 574.05,269.88 574.8,269.74 575.55,269.6 576.3,269.45 577.05,269.31 577.8,269.16 578.55,269.02 579.3,268.87 580.05,268.72 580.8,268.56 581.55,268.41 582.3,268.26 583.05,268.1 583.8,267.94 584.55,267.79 585.3,267.63 586.05,267.47 586.8,267.31 587.55,267.15 588.3,266.99 589.05,266.84 589.8,266.68 590.55,266.52 591.3,266.36 592.05,266.2 592.8,266.05 593.55,265.89 594.3,265.74 595.05,265.58 595.8,265.43 596.55,265.28 597.3,265.13 598.05,264.98 598.8,264.83 599.55,264.69 600.3,264.54 601.05,264.4 601.8,264.26 602.55,264.11 603.3,263.97 604.05,263.82 604.8,263.68 605.55,263.53 606.3,263.39 607.05,263.24 607.8,263.1 608.55,262.95 609.3,262.81 610.05,262.66 610.8,262.51 611.55,262.37 612.3,262.22 613.05,262.07 613.8,261.92 614.55,261.78 615.3,261.63 616.05,261.48 616.8,261.33 617.55,261.18 618.3,261.03 619.05,260.88 619.8,260.73 620.55,260.58 621.3,260.43 622.05,260.28 622.8,260.13 623.55,259.98 624.3,259.83 625.05,259.68 625.8,259.53 626.55,259.37 627.3,259.22 628.05,259.07 628.8,258.92 629.55,258.76 630.3,258.61 631.05,258.46 631.8,258.3 632.55,258.15 633.3,258 634.05,257.84 634.8,257.69 635.55,257.53 636.3,257.38 637.05,257.24 637.8,257.11 638.55,257.01 638.6,256.95" fill="none" stroke="#1f77b4" stroke-width="1.3" stroke-linejoin="round" stroke-linecap="butt" stroke-dasharray="4.8,2.1" stroke-opacity="0.55"/>
<polyline points="450.3,246.3 451.05,246.3 451.8,246.3 452.55,246.3 453.3,246.3 454.05,246.3 454.8,246.3 455.55,246.3 456.3,246.3 457.05,246.3 457.8,246.3 458.55,246.36 459.3,246.44 460.05,246.55 460.8,246.71 461.55,246.92 462.3,247.17 463.05,247.46 463.8,247.79 464.55,248.16 465.3,248.55 466.05,248.98 466.8,249.43 467.55,249.9 468.3,250.38 469.05,250.88 469.8,251.39 470.55,251.91 471.3,252.43 472.05,252.95 472.8,253.48 473.55,254.01 474.3,254.57 475.05,255.15 475.8,255.77 476.55,256.43 477.3,257.12 478.05,257.83 478.8,258.55 479.55,259.27 480.3,259.97 481.05,260.65 481.8,261.31 482.55,261.96 483.3,262.6 484.05,263.24 484.8,263.86 485.55,264.47 486.3,265.08 487.05,265.66 487.8,266.24 488.55,266.79 489.3,267.33 490.05,267.85 490.8,268.36 491.55,268.85 492.3,269.33 493.05,269.8 493.8,270.27 494.55,270.73 495.3,271.19 496.05,271.65 496.8,272.11 497.55,272.57 498.3,273.03 499.05,273.49 499.8,273.94 500.55,274.4 501.3,274.85 502.05,275.3 502.8,275.75 503.55,276.2 504.3,276.65 505.05,277.1 505.8,277.54 506.55,277.99 507.3,278.44 508.05,278.9 508.8,279.35 509.55,279.8 510.3,280.25 511.05,280.7 511.8,281.15 512.55,281.59 513.3,282.02 514.05,282.45 514.8,282.87 515.55,283.27 516.3,283.67 517.05,284.06 517.8,284.44 518.55,284.82 519.3,285.19 520.05,285.56 520.8,285.93 521.55,286.3 522.3,286.66 523.05,287.03 523.8,287.41 524.55,287.79 525.3,288.17 526.05,288.55 526.8,288.94 527.55,289.33 528.3,289.72 529.05,290.1 529.8,290.48 530.55,290.84 531.3,291.2 532.05,291.55 532.8,291.89 533.55,292.22 534.3,292.55 535.05,292.88 535.8,293.2 536.55,293.51 537.3,293.81 538.05,294.1 538.8,294.37 539.55,294.62 540.3,294.85 541.05,295.06 541.8,295.25 542.55,295.43 543.3,295.6 544.05,295.76 544.8,295.92 545.55,296.06 546.3,296.19 547.05,296.31 547.8,296.41 548.55,296.48 549.3,296.53 550.05,296.55 550.8,296.55 551.55,296.52 552.3,296.46 553.05,296.38 553.8,296.28 554.55,296.16 555.3,296.03 556.05,295.89 556.8,295.74 557.55,295.59 558.3,295.44 559.05,295.29 559.8,295.14 560.55,295 561.3,294.86 562.05,294.71 562.8,294.57 563.55,294.42 564.3,294.26 565.05,294.11 565.8,293.95 566.55,293.79 567.3,293.63 568.05,293.46 568.8,293.29 569.55,293.12 570.3,292.94 571.05,292.76 571.8,292.58 572.55,292.4 573.3,292.21 574.05,292.02 574.8,291.82 575.55,291.63 576.3,291.43 577.05,291.22 577.8,291.02 578.55,290.81 579.3,290.59 580.05,290.38 580.8,290.16 581.55,289.93 582.3,289.69 583.05,289.45 583.8,289.21 584.55,288.95 585.3,288.7 586.05,288.43 586.8,288.16 587.55,287.89 588.3,287.61 589.05,287.33 589.8,287.04 590.55,286.75 591.3,286.46 592.05,286.16 592.8,285.86 593.55,285.56 594.3,285.25 595.05,284.94 595.8,284.63 596.55,284.32 597.3,284.01 598.05,283.69 598.8,283.37 599.55,283.06 600.3,282.74 601.05,282.42 601.8,282.1 602.55,281.79 603.3,281.47 604.05,281.15 604.8,280.84 605.55,280.53 606.3,280.21 607.05,279.9 607.8,279.59 608.55,279.29 609.3,278.98 610.05,278.68 610.8,278.38 611.55,278.08 612.3,277.78 613.05,277.48 613.8,277.18 614.55,276.87 615.3,276.57 616.05,276.27 616.8,275.97 617.55,275.66 618.3,275.36 619.05,275.06 619.8,274.75 620.55,274.45 621.3,274.14 622.05,273.84 622.8,273.53 623.55,273.22 624.3,272.92 625.05,272.61 625.8,272.3 626.55,272 627.3,271.69 628.05,271.38 628.8,271.07 629.55,270.76 630.3,270.45 631.05,270.14 631.8,269.83 632.55,269.52 633.3,269.21 634.05,268.9 634.8,268.59 635.55,268.27 636.3,267.97 637.05,267.68 637.8,267.42 638.55,267.22 638.6,267.1" fill="none" stroke="#ff7f0e" stroke-width="1.3" stroke-linejoin="round" stroke-linecap="butt" stroke-dasharray="4.8,2.1" stroke-opacity="0.55"/>
<polyline points="450.3,246.3 451.05,246.3 451.8,246.3 452.55,246.3 453.3,246.3 454.05,246.3 454.8,246.3 455.55,246.3 456.3,246.3 457.05,246.3 457.8,246.3 458.55,246.28 459.3,246.27 460.05,246.24 460.8,246.21 461.55,246.16 462.3,246.1 463.05,246.04 463.8,245.96 464.55,245.87 465.3,245.76 466.05,245.62 466.8,245.43 467.55,245.19 468.3,244.91 469.05,244.58 469.8,244.22 470.55,243.84 471.3,243.44 472.05,243.03 472.8,242.62 473.55,242.23 474.3,241.84 475.05,241.48 475.8,241.14 476.55,240.81 477.3,240.5 478.05,240.19 478.8,239.89 479.55,239.59 480.3,239.29 481.05,239 481.8,238.7 482.55,238.41 483.3,238.12 484.05,237.82 484.8,237.53 485.55,237.23 486.3,236.94 487.05,236.64 487.8,236.35 488.55,236.05 489.3,235.77 490.05,235.49 490.8,235.21 491.55,234.94 492.3,234.67 493.05,234.41 493.8,234.17 494.55,233.95 495.3,233.75 496.05,233.58 496.8,233.44 497.55,233.3 498.3,233.18 499.05,233.07 499.8,232.96 500.55,232.86 501.3,232.77 502.05,232.68 502.8,232.61 503.55,232.54 504.3,232.49 505.05,232.46 505.8,232.43 506.55,232.42 507.3,232.43 508.05,232.45 508.8,232.49 509.55,232.53 510.3,232.58 511.05,232.64 511.8,232.7 512.55,232.76 513.3,232.82 514.05,232.87 514.8,232.92 515.55,232.95 516.3,232.97 517.05,232.97 517.8,232.96 518.55,232.94 519.3,232.9 520.05,232.85 520.8,232.8 521.55,232.74 522.3,232.68 523.05,232.61 523.8,232.56 524.55,232.51 525.3,232.47 526.05,232.44 526.8,232.43 527.55,232.44 528.3,232.47 529.05,232.53 529.8,232.6 530.55,232.69 531.3,232.81 532.05,232.93 532.8,233.07 533.55,233.21 534.3,233.36 535.05,233.51 535.8,233.66 536.55,233.81 537.3,233.95 538.05,234.09 538.8,234.21 539.55,234.32 540.3,234.43 541.05,234.52 541.8,234.62 542.55,234.71 543.3,234.79 544.05,234.88 544.8,234.97 545.55,235.05 546.3,235.13 547.05,235.22 547.8,235.3 548.55,235.38 549.3,235.46 550.05,235.54 550.8,235.62 551.55,235.69 552.3,235.77 553.05,235.84 553.8,235.92 554.55,235.99 555.3,236.07 556.05,236.14 556.8,236.21 557.55,236.28 558.3,236.35 559.05,236.42 559.8,236.49 560.55,236.56 561.3,236.63 562.05,236.7 562.8,236.77 563.55,236.83 564.3,236.9 565.05,236.97 565.8,237.03 566.55,237.1 567.3,237.16 568.05,237.23 568.8,237.29 569.55,237.36 570.3,237.42 571.05,237.48 571.8,237.55 572.55,237.61 573.3,237.68 574.05,237.74 574.8,237.8 575.55,237.86 576.3,237.93 577.05,237.99 577.8,238.05 578.55,238.12 579.3,238.18 580.05,238.24 580.8,238.31 581.55,238.37 582.3,238.43 583.05,238.5 583.8,238.56 584.55,238.63 585.3,238.69 586.05,238.75 586.8,238.82 587.55,238.88 588.3,238.95 589.05,239.02 589.8,239.08 590.55,239.15 591.3,239.22 592.05,239.28 592.8,239.35 593.55,239.41 594.3,239.48 595.05,239.55 595.8,239.61 596.55,239.68 597.3,239.74 598.05,239.81 598.8,239.88 599.55,239.94 600.3,240.01 601.05,240.07 601.8,240.14 602.55,240.2 603.3,240.27 604.05,240.33 604.8,240.4 605.55,240.46 606.3,240.52 607.05,240.59 607.8,240.65 608.55,240.72 609.3,240.78 610.05,240.85 610.8,240.91 611.55,240.97 612.3,241.04 613.05,241.1 613.8,241.16 614.55,241.23 615.3,241.29 616.05,241.35 616.8,241.42 617.55,241.48 618.3,241.54 619.05,241.61 619.8,241.67 620.55,241.73 621.3,241.79 622.05,241.85 622.8,241.92 623.55,241.98 624.3,242.04 625.05,242.1 625.8,242.16 626.55,242.23 627.3,242.29 628.05,242.35 628.8,242.41 629.55,242.47 630.3,242.53 631.05,242.59 631.8,242.65 632.55,242.71 633.3,242.78 634.05,242.84 634.8,242.9 635.55,242.96 636.3,243.01 637.05,243.07 637.8,243.12 638.55,243.16 638.6,243.18" fill="none" stroke="#2ca02c" stroke-width="1.3" stroke-linejoin="round" stroke-linecap="butt" stroke-dasharray="4.8,2.1" stroke-opacity="0.55"/>
<polyline points="450.3,246.3 451.05,246.3 451.8,246.3 452.55,246.3 453.3,246.3 454.05,246.3 454.8,246.3 455.55,246.3 456.3,246.3 457.05,246.3 457.8,246.3 458.55,246.3 459.3,246.3 460.05,246.31 460.8,246.31 461.55,246.32 462.3,246.33 463.05,246.34 463.8,246.34 464.55,246.35 465.3,246.36 466.05,246.37 466.8,246.38 467.55,246.38 468.3,246.39 469.05,246.39 469.8,246.39 470.55,246.39 471.3,246.38 472.05,246.37 472.8,246.34 473.55,246.31 474.3,246.27 475.05,246.23 475.8,246.18 476.55,246.13 477.3,246.07 478.05,246.01 478.8,245.95 479.55,245.9 480.3,245.84 481.05,245.77 481.8,245.71 482.55,245.63 483.3,245.56 484.05,245.48 484.8,245.39 485.55,245.31 486.3,245.23 487.05,245.15 487.8,245.08 488.55,245.01 489.3,244.96 490.05,244.91 490.8,244.87 491.55,244.83 492.3,244.8 493.05,244.77 493.8,244.74 494.55,244.71 495.3,244.69 496.05,244.66 496.8,244.64 497.55,244.62 498.3,244.6 499.05,244.58 499.8,244.56 500.55,244.54 501.3,244.52 502.05,244.5 502.8,244.48 503.55,244.46 504.3,244.44 505.05,244.42 505.8,244.4 506.55,244.38 507.3,244.36 508.05,244.34 508.8,244.32 509.55,244.3 510.3,244.28 511.05,244.26 511.8,244.24 512.55,244.22 513.3,244.21 514.05,244.19 514.8,244.18 515.55,244.16 516.3,244.15 517.05,244.14 517.8,244.13 518.55,244.12 519.3,244.11 520.05,244.11 520.8,244.11 521.55,244.11 522.3,244.11 523.05,244.12 523.8,244.14 524.55,244.16 525.3,244.19 526.05,244.23 526.8,244.27 527.55,244.32 528.3,244.37 529.05,244.43 529.8,244.49 530.55,244.56 531.3,244.62 532.05,244.69 532.8,244.77 533.55,244.84 534.3,244.91 535.05,244.98 535.8,245.06 536.55,245.13 537.3,245.2 538.05,245.27 538.8,245.33 539.55,245.39 540.3,245.45 541.05,245.5 541.8,245.55 542.55,245.59 543.3,245.63 544.05,245.66 544.8,245.69 545.55,245.71 546.3,245.73 547.05,245.75 547.8,245.76 548.55,245.78 549.3,245.8 550.05,245.82 550.8,245.83 551.55,245.85 552.3,245.86 553.05,245.88 553.8,245.9 554.55,245.91 555.3,245.93 556.05,245.94 556.8,245.96 557.55,245.97 558.3,245.99 559.05,246 559.8,246.02 560.55,246.03 561.3,246.05 562.05,246.06 562.8,246.08 563.55,246.09 564.3,246.11 565.05,246.12 565.8,246.13 566.55,246.15 567.3,246.16 568.05,246.17 568.8,246.19 569.55,246.2 570.3,246.21 571.05,246.23 571.8,246.24 572.55,246.25 573.3,246.26 574.05,246.28 574.8,246.29 575.55,246.3 576.3,246.31 577.05,246.32 577.8,246.34 578.55,246.35 579.3,246.36 580.05,246.37 580.8,246.38 581.55,246.39 582.3,246.4 583.05,246.41 583.8,246.42 584.55,246.43 585.3,246.44 586.05,246.45 586.8,246.46 587.55,246.47 588.3,246.48 589.05,246.49 589.8,246.5 590.55,246.51 591.3,246.52 592.05,246.53 592.8,246.54 593.55,246.54 594.3,246.55 595.05,246.56 595.8,246.57 596.55,246.58 597.3,246.59 598.05,246.59 598.8,246.6 599.55,246.61 600.3,246.62 601.05,246.62 601.8,246.63 602.55,246.64 603.3,246.64 604.05,246.65 604.8,246.66 605.55,246.66 606.3,246.67 607.05,246.67 607.8,246.68 608.55,246.69 609.3,246.69 610.05,246.7 610.8,246.7 611.55,246.71 612.3,246.71 613.05,246.72 613.8,246.72 614.55,246.73 615.3,246.73 616.05,246.74 616.8,246.74 617.55,246.74 618.3,246.75 619.05,246.75 619.8,246.76 620.55,246.76 621.3,246.76 622.05,246.77 622.8,246.77 623.55,246.77 624.3,246.77 625.05,246.78 625.8,246.78 626.55,246.78 627.3,246.78 628.05,246.79 628.8,246.79 629.55,246.79 630.3,246.79 631.05,246.79 631.8,246.79 632.55,246.8 633.3,246.8 634.05,246.8 634.8,246.8 635.55,246.8 636.3,246.8 637.05,246.8 637.8,246.8 638.55,246.8 638.6,246.8" fill="none" stroke="#d62728" stroke-width="1.3" stroke-linejoin="round" stroke-linecap="butt" stroke-dasharray="4.8,2.1" stroke-opacity="0.55"/>
<polyline points="450.3,246.3 451.05,246.3 451.8,246.3 452.55,246.3 453.3,246.3 454.05,246.3 454.8,246.3 455.55,246.3 456.3,246.3 457.05,246.3 457.8,246.3 458.55,246.4 459.3,246.5 460.05,246.68 460.8,246.92 461.55,247.22 462.3,247.6 463.05,248.03 463.8,248.51 464.55,249.04 465.3,249.62 466.05,250.22 466.8,250.86 467.55,251.52 468.3,252.19 469.05,252.88 469.8,253.57 470.55,254.26 471.3,254.94 472.05,255.61 472.8,256.27 473.55,256.91 474.3,257.55 475.05,258.18 475.8,258.82 476.55,259.48 477.3,260.15 478.05,260.83 478.8,261.53 479.55,262.23 480.3,262.95 481.05,263.68 481.8,264.42 482.55,265.18 483.3,265.95 484.05,266.74 484.8,267.54 485.55,268.33 486.3,269.13 487.05,269.91 487.8,270.68 488.55,271.43 489.3,272.16 490.05,272.88 490.8,273.58 491.55,274.28 492.3,274.96 493.05,275.64 493.8,276.31 494.55,276.97 495.3,277.62 496.05,278.27 496.8,278.92 497.55,279.56 498.3,280.2 499.05,280.84 499.8,281.48 500.55,282.12 501.3,282.75 502.05,283.37 502.8,283.98 503.55,284.56 504.3,285.13 505.05,285.66 505.8,286.17 506.55,286.66 507.3,287.12 508.05,287.56 508.8,287.99 509.55,288.4 510.3,288.8 511.05,289.18 511.8,289.54 512.55,289.89 513.3,290.22 514.05,290.54 514.8,290.84 515.55,291.13 516.3,291.42 517.05,291.7 517.8,291.98 518.55,292.26 519.3,292.52 520.05,292.75 520.8,292.97 521.55,293.14 522.3,293.28 523.05,293.38 523.8,293.43 524.55,293.43 525.3,293.4 526.05,293.33 526.8,293.23 527.55,293.11 528.3,292.97 529.05,292.81 529.8,292.64 530.55,292.46 531.3,292.28 532.05,292.08 532.8,291.88 533.55,291.65 534.3,291.41 535.05,291.15 535.8,290.86 536.55,290.55 537.3,290.23 538.05,289.91 538.8,289.57 539.55,289.24 540.3,288.92 541.05,288.6 541.8,288.29 542.55,287.99 543.3,287.69 544.05,287.4 544.8,287.1 545.55,286.81 546.3,286.52 547.05,286.22 547.8,285.92 548.55,285.62 549.3,285.31 550.05,284.99 550.8,284.67 551.55,284.33 552.3,283.99 553.05,283.64 553.8,283.28 554.55,282.92 555.3,282.56 556.05,282.2 556.8,281.86 557.55,281.52 558.3,281.2 559.05,280.89 559.8,280.6 560.55,280.33 561.3,280.07 562.05,279.82 562.8,279.59 563.55,279.36 564.3,279.14 565.05,278.93 565.8,278.71 566.55,278.5 567.3,278.29 568.05,278.07 568.8,277.85 569.55,277.63 570.3,277.4 571.05,277.17 571.8,276.93 572.55,276.69 573.3,276.44 574.05,276.2 574.8,275.95 575.55,275.7 576.3,275.45 577.05,275.19 577.8,274.94 578.55,274.68 579.3,274.42 580.05,274.17 580.8,273.91 581.55,273.65 582.3,273.39 583.05,273.13 583.8,272.87 584.55,272.61 585.3,272.35 586.05,272.1 586.8,271.84 587.55,271.59 588.3,271.33 589.05,271.08 589.8,270.83 590.55,270.58 591.3,270.34 592.05,270.09 592.8,269.85 593.55,269.61 594.3,269.38 595.05,269.15 595.8,268.92 596.55,268.69 597.3,268.47 598.05,268.25 598.8,268.04 599.55,267.83 600.3,267.62 601.05,267.42 601.8,267.21 602.55,267.01 603.3,266.81 604.05,266.61 604.8,266.41 605.55,266.22 606.3,266.02 607.05,265.82 607.8,265.63 608.55,265.43 609.3,265.24 610.05,265.05 610.8,264.86 611.55,264.67 612.3,264.48 613.05,264.3 613.8,264.11 614.55,263.93 615.3,263.74 616.05,263.56 616.8,263.38 617.55,263.2 618.3,263.02 619.05,262.85 619.8,262.67 620.55,262.5 621.3,262.33 622.05,262.16 622.8,261.99 623.55,261.82 624.3,261.65 625.05,261.49 625.8,261.33 626.55,261.16 627.3,261 628.05,260.85 628.8,260.69 629.55,260.53 630.3,260.38 631.05,260.23 631.8,260.08 632.55,259.93 633.3,259.79 634.05,259.64 634.8,259.5 635.55,259.36 636.3,259.22 637.05,259.09 637.8,258.98 638.55,258.9 638.6,258.84" fill="none" stroke="#9467bd" stroke-width="1.3" stroke-linejoin="round" stroke-linecap="butt" stroke-dasharray="4.8,2.1" stroke-opacity="0.55"/>
<polyline points="450.3,246.3 451.05,246.3 451.8,246.3 452.55,246.3 453.3,246.3 454.05,246.3 454.8,246.3 455.55,246.3 456.3,246.3 457.05,246.3 457.8,246.3 458.55,246.35 459.3,246.41 460.05,246.5 460.8,246.63 461.55,246.8 462.3,246.99 463.05,247.22 463.8,247.47 464.55,247.74 465.3,248.04 466.05,248.34 466.8,248.66 467.55,248.98 468.3,249.3 469.05,249.63 469.8,249.94 470.55,250.25 471.3,250.55 472.05,250.83 472.8,251.09 473.55,251.34 474.3,251.56 475.05,251.77 475.8,251.97 476.55,252.16 477.3,252.34 478.05,252.52 478.8,252.7 479.55,252.87 480.3,253.04 481.05,253.21 481.8,253.38 482.55,253.55 483.3,253.73 484.05,253.9 484.8,254.08 485.55,254.27 486.3,254.46 487.05,254.65 487.8,254.86 488.55,255.08 489.3,255.32 490.05,255.57 490.8,255.84 491.55,256.13 492.3,256.42 493.05,256.72 493.8,257.01 494.55,257.28 495.3,257.54 496.05,257.77 496.8,257.97 497.55,258.15 498.3,258.3 499.05,258.44 499.8,258.56 500.55,258.68 501.3,258.78 502.05,258.88 502.8,258.98 503.55,259.07 504.3,259.15 505.05,259.23 505.8,259.31 506.55,259.39 507.3,259.46 508.05,259.53 508.8,259.61 509.55,259.68 510.3,259.75 511.05,259.83 511.8,259.91 512.55,259.99 513.3,260.07 514.05,260.16 514.8,260.26 515.55,260.36 516.3,260.46 517.05,260.57 517.8,260.69 518.55,260.81 519.3,260.94 520.05,261.07 520.8,261.2 521.55,261.33 522.3,261.46 523.05,261.6 523.8,261.73 524.55,261.86 525.3,261.98 526.05,262.1 526.8,262.22 527.55,262.33 528.3,262.44 529.05,262.54 529.8,262.62 530.55,262.7 531.3,262.78 532.05,262.84 532.8,262.89 533.55,262.94 534.3,262.98 535.05,263.02 535.8,263.06 536.55,263.1 537.3,263.14 538.05,263.18 538.8,263.22 539.55,263.25 540.3,263.29 541.05,263.32 541.8,263.36 542.55,263.39 543.3,263.42 544.05,263.45 544.8,263.48 545.55,263.51 546.3,263.54 547.05,263.56 547.8,263.59 548.55,263.61 549.3,263.63 550.05,263.66 550.8,263.68 551.55,263.69 552.3,263.71 553.05,263.73 553.8,263.74 554.55,263.75 555.3,263.76 556.05,263.77 556.8,263.78 557.55,263.79 558.3,263.79 559.05,263.8 559.8,263.79 560.55,263.79 561.3,263.78 562.05,263.77 562.8,263.75 563.55,263.72 564.3,263.69 565.05,263.66 565.8,263.62 566.55,263.57 567.3,263.52 568.05,263.47 568.8,263.41 569.55,263.35 570.3,263.28 571.05,263.21 571.8,263.13 572.55,263.05 573.3,262.97 574.05,262.89 574.8,262.8 575.55,262.71 576.3,262.61 577.05,262.51 577.8,262.42 578.55,262.31 579.3,262.21 580.05,262.11 580.8,262 581.55,261.89 582.3,261.78 583.05,261.67 583.8,261.56 584.55,261.44 585.3,261.33 586.05,261.22 586.8,261.1 587.55,260.99 588.3,260.87 589.05,260.76 589.8,260.64 590.55,260.53 591.3,260.41 592.05,260.3 592.8,260.19 593.55,260.08 594.3,259.97 595.05,259.86 595.8,259.76 596.55,259.65 597.3,259.55 598.05,259.45 598.8,259.35 599.55,259.26 600.3,259.16 601.05,259.07 601.8,258.98 602.55,258.88 603.3,258.79 604.05,258.7 604.8,258.6 605.55,258.51 606.3,258.41 607.05,258.32 607.8,258.22 608.55,258.13 609.3,258.03 610.05,257.94 610.8,257.84 611.55,257.75 612.3,257.65 613.05,257.55 613.8,257.45 614.55,257.36 615.3,257.26 616.05,257.16 616.8,257.06 617.55,256.96 618.3,256.87 619.05,256.77 619.8,256.67 620.55,256.57 621.3,256.47 622.05,256.37 622.8,256.27 623.55,256.17 624.3,256.07 625.05,255.97 625.8,255.86 626.55,255.76 627.3,255.66 628.05,255.56 628.8,255.46 629.55,255.35 630.3,255.25 631.05,255.15 631.8,255.05 632.55,254.94 633.3,254.84 634.05,254.73 634.8,254.63 635.55,254.53 636.3,254.42 637.05,254.33 637.8,254.24 638.55,254.17 638.6,254.13" fill="none" stroke="#8c564b" stroke-width="1.3" stroke-linejoin="round" stroke-linecap="butt" stroke-dasharray="4.8,2.1" stroke-opacity="0.55"/>
<polyline points="450.3,246.3 451.05,246.3 451.8,246.3 452.55,246.3 453.3,246.3 454.05,246.3 454.8,246.3 455.55,246.3 456.3,246.3 457.05,246.3 457.8,246.3 458.55,246.43 459.3,246.57 460.05,246.79 460.8,247.1 461.55,247.5 462.3,247.96 463.05,248.5 463.8,249.08 464.55,249.71 465.3,250.37 466.05,251.06 466.8,251.75 467.55,252.44 468.3,253.13 469.05,253.81 469.8,254.48 470.55,255.16 471.3,255.86 472.05,256.58 472.8,257.32 473.55,258.08 474.3,258.87 475.05,259.67 475.8,260.5 476.55,261.34 477.3,262.21 478.05,263.1 478.8,264.02 479.55,264.94 480.3,265.86 481.05,266.79 481.8,267.72 482.55,268.65 483.3,269.57 484.05,270.5 484.8,271.41 485.55,272.32 486.3,273.21 487.05,274.09 487.8,274.95 488.55,275.79 489.3,276.62 490.05,277.42 490.8,278.21 491.55,278.98 492.3,279.75 493.05,280.5 493.8,281.24 494.55,281.97 495.3,282.7 496.05,283.42 496.8,284.14 497.55,284.85 498.3,285.56 499.05,286.27 499.8,286.98 500.55,287.68 501.3,288.37 502.05,289.06 502.8,289.74 503.55,290.4 504.3,291.05 505.05,291.68 505.8,292.29 506.55,292.89 507.3,293.47 508.05,294.03 508.8,294.58 509.55,295.12 510.3,295.64 511.05,296.16 511.8,296.67 512.55,297.17 513.3,297.66 514.05,298.15 514.8,298.64 515.55,299.12 516.3,299.61 517.05,300.09 517.8,300.56 518.55,301.03 519.3,301.5 520.05,301.96 520.8,302.41 521.55,302.84 522.3,303.27 523.05,303.68 523.8,304.09 524.55,304.48 525.3,304.87 526.05,305.26 526.8,305.64 527.55,306.02 528.3,306.38 529.05,306.72 529.8,307.05 530.55,307.34 531.3,307.61 532.05,307.85 532.8,308.07 533.55,308.26 534.3,308.44 535.05,308.61 535.8,308.77 536.55,308.92 537.3,309.06 538.05,309.18 538.8,309.28 539.55,309.36 540.3,309.42 541.05,309.46 541.8,309.47 542.55,309.45 543.3,309.42 544.05,309.37 544.8,309.31 545.55,309.24 546.3,309.15 547.05,309.06 547.8,308.96 548.55,308.85 549.3,308.74 550.05,308.62 550.8,308.5 551.55,308.35 552.3,308.2 553.05,308.02 553.8,307.83 554.55,307.63 555.3,307.42 556.05,307.2 556.8,306.97 557.55,306.74 558.3,306.51 559.05,306.29 559.8,306.06 560.55,305.84 561.3,305.63 562.05,305.41 562.8,305.19 563.55,304.98 564.3,304.76 565.05,304.54 565.8,304.32 566.55,304.11 567.3,303.89 568.05,303.67 568.8,303.45 569.55,303.22 570.3,303 571.05,302.78 571.8,302.55 572.55,302.32 573.3,302.09 574.05,301.86 574.8,301.63 575.55,301.39 576.3,301.16 577.05,300.92 577.8,300.67 578.55,300.43 579.3,300.18 580.05,299.93 580.8,299.68 581.55,299.42 582.3,299.16 583.05,298.9 583.8,298.64 584.55,298.37 585.3,298.09 586.05,297.82 586.8,297.54 587.55,297.25 588.3,296.96 589.05,296.67 589.8,296.37 590.55,296.07 591.3,295.76 592.05,295.44 592.8,295.11 593.55,294.78 594.3,294.44 595.05,294.09 595.8,293.73 596.55,293.37 597.3,293.01 598.05,292.63 598.8,292.26 599.55,291.87 600.3,291.49 601.05,291.09 601.8,290.7 602.55,290.3 603.3,289.9 604.05,289.49 604.8,289.08 605.55,288.67 606.3,288.26 607.05,287.84 607.8,287.42 608.55,287.01 609.3,286.59 610.05,286.17 610.8,285.75 611.55,285.33 612.3,284.91 613.05,284.49 613.8,284.07 614.55,283.65 615.3,283.23 616.05,282.81 616.8,282.39 617.55,281.97 618.3,281.55 619.05,281.12 619.8,280.69 620.55,280.26 621.3,279.83 622.05,279.39 622.8,278.96 623.55,278.52 624.3,278.08 625.05,277.63 625.8,277.19 626.55,276.74 627.3,276.29 628.05,275.84 628.8,275.39 629.55,274.93 630.3,274.48 631.05,274.02 631.8,273.56 632.55,273.09 633.3,272.63 634.05,272.16 634.8,271.7 635.55,271.23 636.3,270.77 637.05,270.33 637.8,269.94 638.55,269.64 638.6,269.45" fill="none" stroke="#e377c2" stroke-width="1.3" stroke-linejoin="round" stroke-linecap="butt" stroke-dasharray="4.8,2.1" stroke-opacity="0.55"/>
<polyline points="450.3,246.3 451.05,246.3 451.8,246.3 452.55,246.3 453.3,246.3 454.05,246.3 454.8,246.3 455.55,246.3 456.3,246.3 457.05,246.3 457.8,246.3 458.55,246.13 459.3,245.96 460.05,245.71 460.8,245.41 461.55,245.07 462.3,244.72 463.05,244.36 463.8,243.99 464.55,243.61 465.3,243.21 466.05,242.77 466.8,242.3 467.55,241.8 468.3,241.27 469.05,240.71 469.8,240.12 470.55,239.5 471.3,238.85 472.05,238.15 472.8,237.42 473.55,236.66 474.3,235.88 475.05,235.07 475.8,234.24 476.55,233.38 477.3,232.5 478.05,231.61 478.8,230.7 479.55,229.8 480.3,228.91 481.05,228.02 481.8,227.15 482.55,226.28 483.3,225.44 484.05,224.62 484.8,223.84 485.55,223.11 486.3,222.44 487.05,221.81 487.8,221.22 488.55,220.66 489.3,220.11 490.05,219.56 490.8,219.01 491.55,218.46 492.3,217.91 493.05,217.36 493.8,216.8 494.55,216.24 495.3,215.66 496.05,215.07 496.8,214.45 497.55,213.8 498.3,213.14 499.05,212.45 499.8,211.76 500.55,211.05 501.3,210.34 502.05,209.63 502.8,208.93 503.55,208.25 504.3,207.59 505.05,206.96 505.8,206.35 506.55,205.78 507.3,205.24 508.05,204.72 508.8,204.23 509.55,203.75 510.3,203.28 511.05,202.83 511.8,202.39 512.55,201.96 513.3,201.53 514.05,201.1 514.8,200.68 515.55,200.26 516.3,199.84 517.05,199.41 517.8,198.99 518.55,198.56 519.3,198.13 520.05,197.71 520.8,197.29 521.55,196.87 522.3,196.46 523.05,196.06 523.8,195.66 524.55,195.27 525.3,194.89 526.05,194.51 526.8,194.15 527.55,193.78 528.3,193.42 529.05,193.06 529.8,192.69 530.55,192.33 531.3,191.97 532.05,191.62 532.8,191.29 533.55,190.98 534.3,190.7 535.05,190.44 535.8,190.21 536.55,190.02 537.3,189.86 538.05,189.71 538.8,189.59 539.55,189.48 540.3,189.38 541.05,189.3 541.8,189.23 542.55,189.18 543.3,189.15 544.05,189.14 544.8,189.15 545.55,189.19 546.3,189.25 547.05,189.33 547.8,189.42 548.55,189.53 549.3,189.65 550.05,189.79 550.8,189.94 551.55,190.13 552.3,190.34 553.05,190.59 553.8,190.87 554.55,191.17 555.3,191.5 556.05,191.84 556.8,192.2 557.55,192.56 558.3,192.93 559.05,193.3 559.8,193.66 560.55,194.03 561.3,194.4 562.05,194.77 562.8,195.16 563.55,195.55 564.3,195.95 565.05,196.36 565.8,196.77 566.55,197.19 567.3,197.6 568.05,198.02 568.8,198.43 569.55,198.83 570.3,199.23 571.05,199.62 571.8,200 572.55,200.38 573.3,200.76 574.05,201.13 574.8,201.5 575.55,201.87 576.3,202.24 577.05,202.6 577.8,202.97 578.55,203.34 579.3,203.71 580.05,204.08 580.8,204.46 581.55,204.84 582.3,205.22 583.05,205.61 583.8,206 584.55,206.4 585.3,206.79 586.05,207.19 586.8,207.58 587.55,207.97 588.3,208.35 589.05,208.72 589.8,209.09 590.55,209.44 591.3,209.79 592.05,210.12 592.8,210.45 593.55,210.77 594.3,211.08 595.05,211.39 595.8,211.69 596.55,211.99 597.3,212.28 598.05,212.57 598.8,212.85 599.55,213.14 600.3,213.42 601.05,213.7 601.8,213.97 602.55,214.25 603.3,214.52 604.05,214.79 604.8,215.06 605.55,215.32 606.3,215.59 607.05,215.84 607.8,216.1 608.55,216.35 609.3,216.59 610.05,216.83 610.8,217.06 611.55,217.29 612.3,217.51 613.05,217.72 613.8,217.92 614.55,218.12 615.3,218.32 616.05,218.51 616.8,218.7 617.55,218.88 618.3,219.07 619.05,219.25 619.8,219.43 620.55,219.62 621.3,219.8 622.05,219.99 622.8,220.18 623.55,220.36 624.3,220.55 625.05,220.74 625.8,220.93 626.55,221.12 627.3,221.3 628.05,221.49 628.8,221.68 629.55,221.87 630.3,222.05 631.05,222.24 631.8,222.42 632.55,222.61 633.3,222.8 634.05,222.98 634.8,223.17 635.55,223.35 636.3,223.53 637.05,223.7 637.8,223.85 638.55,223.97 638.6,224.04" fill="none" stroke="#7f7f7f" stroke-width="1.5" stroke-linejoin="round" stroke-linecap="butt" />
<polyline points="450.3,246.3 451.05,246.3 451.8,246.3 452.55,246.3 453.3,246.3 454.05,246.3 454.8,246.3 455.55,246.3 456.3,246.3 457.05,246.3 457.8,246.3 458.55,246.33 459.3,246.36 460.05,246.41 460.8,246.48 461.55,246.57 462.3,246.68 463.05,246.8 463.8,246.94 464.55,247.09 465.3,247.25 466.05,247.42 466.8,247.6 467.55,247.78 468.3,247.96 469.05,248.14 469.8,248.31 470.55,248.49 471.3,248.66 472.05,248.82 472.8,248.97 473.55,249.11 474.3,249.24 475.05,249.37 475.8,249.5 476.55,249.62 477.3,249.74 478.05,249.87 478.8,249.99 479.55,250.11 480.3,250.23 481.05,250.35 481.8,250.46 482.55,250.58 483.3,250.69 484.05,250.8 484.8,250.9 485.55,251 486.3,251.1 487.05,251.2 487.8,251.29 488.55,251.38 489.3,251.46 490.05,251.54 490.8,251.62 491.55,251.69 492.3,251.76 493.05,251.83 493.8,251.89 494.55,251.96 495.3,252.02 496.05,252.09 496.8,252.15 497.55,252.21 498.3,252.27 499.05,252.34 499.8,252.4 500.55,252.47 501.3,252.54 502.05,252.61 502.8,252.67 503.55,252.74 504.3,252.81 505.05,252.88 505.8,252.94 506.55,253.01 507.3,253.07 508.05,253.13 508.8,253.2 509.55,253.26 510.3,253.32 511.05,253.39 511.8,253.45 512.55,253.51 513.3,253.58 514.05,253.65 514.8,253.71 515.55,253.78 516.3,253.85 517.05,253.93 517.8,254 518.55,254.08 519.3,254.16 520.05,254.24 520.8,254.32 521.55,254.41 522.3,254.5 523.05,254.59 523.8,254.69 524.55,254.79 525.3,254.89 526.05,255 526.8,255.12 527.55,255.26 528.3,255.41 529.05,255.58 529.8,255.78 530.55,256 531.3,256.24 532.05,256.49 532.8,256.76 533.55,257.02 534.3,257.3 535.05,257.57 535.8,257.83 536.55,258.08 537.3,258.31 538.05,258.53 538.8,258.72 539.55,258.88 540.3,259.01 541.05,259.12 541.8,259.2 542.55,259.26 543.3,259.32 544.05,259.36 544.8,259.41 545.55,259.45 546.3,259.5 547.05,259.54 547.8,259.57 548.55,259.61 549.3,259.65 550.05,259.68 550.8,259.71 551.55,259.74 552.3,259.76 553.05,259.79 553.8,259.81 554.55,259.83 555.3,259.85 556.05,259.86 556.8,259.87 557.55,259.88 558.3,259.89 559.05,259.89 559.8,259.9 560.55,259.89 561.3,259.89 562.05,259.88 562.8,259.87 563.55,259.85 564.3,259.83 565.05,259.81 565.8,259.79 566.55,259.76 567.3,259.73 568.05,259.69 568.8,259.66 569.55,259.62 570.3,259.57 571.05,259.53 571.8,259.48 572.55,259.43 573.3,259.38 574.05,259.33 574.8,259.27 575.55,259.21 576.3,259.15 577.05,259.09 577.8,259.03 578.55,258.96 579.3,258.9 580.05,258.83 580.8,258.76 581.55,258.69 582.3,258.62 583.05,258.55 583.8,258.48 584.55,258.4 585.3,258.33 586.05,258.25 586.8,258.18 587.55,258.11 588.3,258.03 589.05,257.95 589.8,257.88 590.55,257.8 591.3,257.73 592.05,257.65 592.8,257.58 593.55,257.5 594.3,257.43 595.05,257.36 595.8,257.29 596.55,257.22 597.3,257.15 598.05,257.08 598.8,257.01 599.55,256.94 600.3,256.87 601.05,256.81 601.8,256.74 602.55,256.67 603.3,256.61 604.05,256.54 604.8,256.47 605.55,256.4 606.3,256.33 607.05,256.26 607.8,256.19 608.55,256.12 609.3,256.05 610.05,255.98 610.8,255.9 611.55,255.83 612.3,255.76 613.05,255.68 613.8,255.61 614.55,255.53 615.3,255.46 616.05,255.38 616.8,255.3 617.55,255.23 618.3,255.15 619.05,255.07 619.8,254.99 620.55,254.92 621.3,254.84 622.05,254.76 622.8,254.68 623.55,254.6 624.3,254.52 625.05,254.43 625.8,254.35 626.55,254.27 627.3,254.19 628.05,254.11 628.8,254.02 629.55,253.94 630.3,253.85 631.05,253.77 631.8,253.69 632.55,253.6 633.3,253.51 634.05,253.43 634.8,253.34 635.55,253.26 636.3,253.17 637.05,253.09 637.8,253.02 638.55,252.96 638.6,252.93" fill="none" stroke="#bcbd22" stroke-width="1.3" stroke-linejoin="round" stroke-linecap="butt" stroke-dasharray="4.8,2.1" stroke-opacity="0.55"/>
<polyline points="450.3,246.3 451.05,246.3 451.8,246.3 452.55,246.3 453.3,246.3 454.05,246.3 454.8,246.3 455.55,246.3 456.3,246.3 457.05,246.3 457.8,246.3 458.55,246.36 459.3,246.43 460.05,246.53 460.8,246.68 461.55,246.86 462.3,247.08 463.05,247.34 463.8,247.62 464.55,247.93 465.3,248.26 466.05,248.6 466.8,248.96 467.55,249.32 468.3,249.68 469.05,250.04 469.8,250.4 470.55,250.74 471.3,251.07 472.05,251.37 472.8,251.66 473.55,251.92 474.3,252.16 475.05,252.38 475.8,252.59 476.55,252.79 477.3,252.97 478.05,253.15 478.8,253.33 479.55,253.5 480.3,253.67 481.05,253.84 481.8,254.01 482.55,254.18 483.3,254.36 484.05,254.54 484.8,254.72 485.55,254.91 486.3,255.11 487.05,255.32 487.8,255.54 488.55,255.78 489.3,256.04 490.05,256.33 490.8,256.63 491.55,256.96 492.3,257.29 493.05,257.64 493.8,257.98 494.55,258.31 495.3,258.63 496.05,258.93 496.8,259.2 497.55,259.46 498.3,259.7 499.05,259.92 499.8,260.15 500.55,260.37 501.3,260.59 502.05,260.8 502.8,261.02 503.55,261.23 504.3,261.44 505.05,261.63 505.8,261.83 506.55,262.01 507.3,262.18 508.05,262.35 508.8,262.5 509.55,262.64 510.3,262.76 511.05,262.87 511.8,262.97 512.55,263.04 513.3,263.1 514.05,263.15 514.8,263.17 515.55,263.18 516.3,263.17 517.05,263.15 517.8,263.12 518.55,263.08 519.3,263.04 520.05,262.98 520.8,262.92 521.55,262.86 522.3,262.78 523.05,262.71 523.8,262.63 524.55,262.54 525.3,262.46 526.05,262.37 526.8,262.28 527.55,262.19 528.3,262.1 529.05,262.01 529.8,261.92 530.55,261.81 531.3,261.7 532.05,261.58 532.8,261.46 533.55,261.33 534.3,261.19 535.05,261.05 535.8,260.91 536.55,260.77 537.3,260.63 538.05,260.49 538.8,260.35 539.55,260.22 540.3,260.1 541.05,259.98 541.8,259.86 542.55,259.75 543.3,259.65 544.05,259.55 544.8,259.44 545.55,259.34 546.3,259.25 547.05,259.15 547.8,259.06 548.55,258.96 549.3,258.87 550.05,258.78 550.8,258.69 551.55,258.6 552.3,258.51 553.05,258.42 553.8,258.33 554.55,258.25 555.3,258.16 556.05,258.07 556.8,257.98 557.55,257.89 558.3,257.8 559.05,257.71 559.8,257.62 560.55,257.53 561.3,257.44 562.05,257.35 562.8,257.26 563.55,257.17 564.3,257.07 565.05,256.98 565.8,256.89 566.55,256.79 567.3,256.7 568.05,256.61 568.8,256.51 569.55,256.42 570.3,256.32 571.05,256.23 571.8,256.14 572.55,256.04 573.3,255.95 574.05,255.86 574.8,255.76 575.55,255.67 576.3,255.58 577.05,255.48 577.8,255.39 578.55,255.3 579.3,255.21 580.05,255.11 580.8,255.02 581.55,254.93 582.3,254.84 583.05,254.75 583.8,254.66 584.55,254.57 585.3,254.48 586.05,254.4 586.8,254.31 587.55,254.22 588.3,254.14 589.05,254.05 589.8,253.97 590.55,253.88 591.3,253.8 592.05,253.72 592.8,253.64 593.55,253.56 594.3,253.48 595.05,253.4 595.8,253.32 596.55,253.24 597.3,253.17 598.05,253.09 598.8,253.02 599.55,252.94 600.3,252.87 601.05,252.8 601.8,252.73 602.55,252.66 603.3,252.59 604.05,252.52 604.8,252.45 605.55,252.38 606.3,252.31 607.05,252.24 607.8,252.18 608.55,252.11 609.3,252.04 610.05,251.98 610.8,251.91 611.55,251.84 612.3,251.78 613.05,251.71 613.8,251.65 614.55,251.59 615.3,251.52 616.05,251.46 616.8,251.4 617.55,251.33 618.3,251.27 619.05,251.21 619.8,251.15 620.55,251.09 621.3,251.03 622.05,250.97 622.8,250.91 623.55,250.85 624.3,250.8 625.05,250.74 625.8,250.68 626.55,250.63 627.3,250.57 628.05,250.51 628.8,250.46 629.55,250.41 630.3,250.35 631.05,250.3 631.8,250.25 632.55,250.2 633.3,250.15 634.05,250.09 634.8,250.04 635.55,250 636.3,249.95 637.05,249.9 637.8,249.86 638.55,249.83 638.6,249.81" fill="none" stroke="#17becf" stroke-width="1.3" stroke-linejoin="round" stroke-linecap="butt" stroke-dasharray="4.8,2.1" stroke-opacity="0.55"/>
<g filter="url(#dblur)" shape-rendering="crispEdges">
<rect x="33" y="272" width="2" height="2" fill="#50c46a"/>
<rect x="35" y="272" width="1" height="2" fill="#2c728e"/>
<rect x="36" y="272" width="2" height="2" fill="#75d054"/>
<rect x="33" y="274" width="2" height="2" fill="#414487"/>
<rect x="35" y="274" width="1" height="2" fill="#440154"/>
<rect x="36" y="274" width="2" height="2" fill="#297a8e"/>
<rect x="31" y="276" width="2" height="2" fill="#7fd34e"/>
<rect x="33" y="276" width="2" height="2" fill="#440154"/>
<rect x="35" y="276" width="1" height="2" fill="#440154"/>
<rect x="36" y="276" width="2" height="2" fill="#29af7f"/>
<rect x="31" y="278" width="2" height="2" fill="#21918c"/>
<rect x="33" y="278" width="2" height="2" fill="#440154"/>
<rect x="35" y="278" width="1" height="2" fill="#46085c"/>
<rect x="36" y="278" width="2" height="2" fill="#b5de2b"/>
<rect x="29" y="280" width="2" height="2" fill="#d0e11c"/>
<rect x="31" y="280" width="2" height="2" fill="#443983"/>
<rect x="33" y="280" width="2" height="2" fill="#440154"/>
<rect x="35" y="280" width="1" height="2" fill="#31668e"/>
<rect x="29" y="282" width="2" height="2" fill="#75d054"/>
<rect x="31" y="282" width="2" height="2" fill="#440154"/>
<rect x="33" y="282" width="2" height="2" fill="#440154"/>
<rect x="35" y="282" width="1" height="2" fill="#35b779"/>
<rect x="29" y="284" width="2" height="2" fill="#228b8d"/>
<rect x="31" y="284" width="2" height="2" fill="#440154"/>
<rect x="33" y="284" width="2" height="2" fill="#471164"/>
<rect x="35" y="284" width="1" height="2" fill="#bddf26"/>
<rect x="27" y="286" width="2" height="2" fill="#d0e11c"/>
<rect x="29" y="286" width="2" height="2" fill="#453781"/>
<rect x="31" y="286" width="2" height="2" fill="#440154"/>
<rect x="33" y="286" width="2" height="2" fill="#2f6c8e"/>
<rect x="27" y="288" width="2" height="1" fill="#77d153"/>
<rect x="29" y="288" width="2" height="1" fill="#440154"/>
<rect x="31" y="288" width="2" height="1" fill="#440154"/>
<rect x="33" y="288" width="2" height="1" fill="#35b779"/>
<rect x="27" y="289" width="2" height="2" fill="#23888e"/>
<rect x="29" y="289" width="2" height="2" fill="#440154"/>
<rect x="31" y="289" width="2" height="2" fill="#471063"/>
<rect x="33" y="289" width="2" height="2" fill="#bade28"/>
<rect x="25" y="291" width="2" height="2" fill="#cde11d"/>
<rect x="27" y="291" width="2" height="2" fill="#46307e"/>
<rect x="29" y="291" width="2" height="2" fill="#440154"/>
<rect x="31" y="291" width="2" height="2" fill="#2e6f8e"/>
<rect x="25" y="293" width="2" height="2" fill="#60ca60"/>
<rect x="27" y="293" width="2" height="2" fill="#440154"/>
<rect x="29" y="293" width="2" height="2" fill="#440154"/>
<rect x="31" y="293" width="2" height="2" fill="#3fbc73"/>
<rect x="25" y="295" width="2" height="2" fill="#27808e"/>
<rect x="27" y="295" width="2" height="2" fill="#440154"/>
<rect x="29" y="295" width="2" height="2" fill="#481a6c"/>
<rect x="31" y="295" width="2" height="2" fill="#c5e021"/>
<rect x="23" y="297" width="2" height="2" fill="#cae11f"/>
<rect x="25" y="297" width="2" height="2" fill="#482576"/>
<rect x="27" y="297" width="2" height="2" fill="#440154"/>
<rect x="29" y="297" width="2" height="2" fill="#2d718e"/>
<rect x="23" y="299" width="2" height="2" fill="#56c667"/>
<rect x="25" y="299" width="2" height="2" fill="#440154"/>
<rect x="27" y="299" width="2" height="2" fill="#440154"/>
<rect x="29" y="299" width="2" height="2" fill="#42be71"/>
<rect x="23" y="301" width="2" height="2" fill="#287d8e"/>
<rect x="25" y="301" width="2" height="2" fill="#440154"/>
<rect x="27" y="301" width="2" height="2" fill="#48186a"/>
<rect x="29" y="301" width="2" height="2" fill="#c2df23"/>
<rect x="21" y="303" width="2" height="2" fill="#cae11f"/>
<rect x="23" y="303" width="2" height="2" fill="#482475"/>
<rect x="25" y="303" width="2" height="2" fill="#440154"/>
<rect x="27" y="303" width="2" height="2" fill="#2a768e"/>
<rect x="21" y="305" width="2" height="2" fill="#52c569"/>
<rect x="23" y="305" width="2" height="2" fill="#440154"/>
<rect x="25" y="305" width="2" height="2" fill="#440154"/>
<rect x="27" y="305" width="2" height="2" fill="#4ec36b"/>
<rect x="21" y="307" width="2" height="2" fill="#2a778e"/>
<rect x="23" y="307" width="2" height="2" fill="#440154"/>
<rect x="25" y="307" width="2" height="2" fill="#482374"/>
<rect x="27" y="307" width="2" height="2" fill="#c8e020"/>
<rect x="21" y="309" width="2" height="2" fill="#375a8c"/>
<rect x="23" y="309" width="2" height="2" fill="#440154"/>
<rect x="25" y="309" width="2" height="2" fill="#25848e"/>
<rect x="21" y="311" width="2" height="2" fill="#98d83e"/>
<rect x="23" y="311" width="2" height="2" fill="#27ad81"/>
<rect x="25" y="311" width="2" height="2" fill="#cae11f"/>
</g>
<g filter="url(#dblur)" shape-rendering="crispEdges">
<rect x="243" y="270" width="2" height="2" fill="#cae11f"/>
<rect x="245" y="270" width="2" height="2" fill="#b5de2b"/>
<rect x="247" y="270" width="2" height="2" fill="#77d153"/>
<rect x="249" y="270" width="2" height="2" fill="#93d741"/>
<rect x="251" y="270" width="2" height="2" fill="#cde11d"/>
<rect x="239" y="272" width="2" height="2" fill="#bddf26"/>
<rect x="241" y="272" width="2" height="2" fill="#25848e"/>
<rect x="243" y="272" width="2" height="2" fill="#440154"/>
<rect x="245" y="272" width="2" height="2" fill="#440154"/>
<rect x="247" y="272" width="2" height="2" fill="#440154"/>
<rect x="249" y="272" width="2" height="2" fill="#440154"/>
<rect x="251" y="272" width="2" height="2" fill="#471365"/>
<rect x="253" y="272" width="2" height="2" fill="#287c8e"/>
<rect x="255" y="272" width="2" height="2" fill="#d0e11c"/>
<rect x="237" y="274" width="2" height="2" fill="#89d548"/>
<rect x="239" y="274" width="2" height="2" fill="#46337f"/>
<rect x="241" y="274" width="2" height="2" fill="#440154"/>
<rect x="243" y="274" width="2" height="2" fill="#440154"/>
<rect x="245" y="274" width="2" height="2" fill="#440154"/>
<rect x="247" y="274" width="2" height="2" fill="#440154"/>
<rect x="249" y="274" width="2" height="2" fill="#440154"/>
<rect x="251" y="274" width="2" height="2" fill="#440154"/>
<rect x="253" y="274" width="2" height="2" fill="#440154"/>
<rect x="255" y="274" width="2" height="2" fill="#1e9b8a"/>
<rect x="237" y="276" width="2" height="2" fill="#375b8d"/>
<rect x="239" y="276" width="2" height="2" fill="#440154"/>
<rect x="241" y="276" width="2" height="2" fill="#440154"/>
<rect x="243" y="276" width="2" height="2" fill="#453581"/>
<rect x="245" y="276" width="2" height="2" fill="#1f9a8a"/>
<rect x="247" y="276" width="2" height="2" fill="#3aba76"/>
<rect x="249" y="276" width="2" height="2" fill="#1f988b"/>
<rect x="251" y="276" width="2" height="2" fill="#440154"/>
<rect x="253" y="276" width="2" height="2" fill="#440154"/>
<rect x="255" y="276" width="2" height="2" fill="#481467"/>
<rect x="257" y="276" width="2" height="2" fill="#d0e11c"/>
<rect x="235" y="278" width="2" height="2" fill="#bddf26"/>
<rect x="237" y="278" width="2" height="2" fill="#440154"/>
<rect x="239" y="278" width="2" height="2" fill="#440154"/>
<rect x="241" y="278" width="2" height="2" fill="#3c508b"/>
<rect x="243" y="278" width="2" height="2" fill="#b5de2b"/>
<rect x="251" y="278" width="2" height="2" fill="#2a778e"/>
<rect x="253" y="278" width="2" height="2" fill="#440154"/>
<rect x="255" y="278" width="2" height="2" fill="#440154"/>
<rect x="257" y="278" width="2" height="2" fill="#c8e020"/>
<rect x="235" y="280" width="2" height="2" fill="#6ece58"/>
<rect x="237" y="280" width="2" height="2" fill="#440154"/>
<rect x="239" y="280" width="2" height="2" fill="#440154"/>
<rect x="241" y="280" width="2" height="2" fill="#2fb47c"/>
<rect x="251" y="280" width="2" height="2" fill="#3e4c8a"/>
<rect x="253" y="280" width="2" height="2" fill="#440154"/>
<rect x="255" y="280" width="2" height="2" fill="#482071"/>
<rect x="237" y="282" width="2" height="2" fill="#2d718e"/>
<rect x="239" y="282" width="2" height="2" fill="#2e6f8e"/>
<rect x="241" y="282" width="2" height="2" fill="#d0e11c"/>
<rect x="249" y="282" width="2" height="2" fill="#89d548"/>
<rect x="251" y="282" width="2" height="2" fill="#440154"/>
<rect x="253" y="282" width="2" height="2" fill="#440154"/>
<rect x="255" y="282" width="2" height="2" fill="#2f6c8e"/>
<rect x="249" y="284" width="2" height="2" fill="#2d708e"/>
<rect x="251" y="284" width="2" height="2" fill="#440154"/>
<rect x="253" y="284" width="2" height="2" fill="#440154"/>
<rect x="255" y="284" width="2" height="2" fill="#65cb5e"/>
<rect x="247" y="286" width="2" height="2" fill="#73d056"/>
<rect x="249" y="286" width="2" height="2" fill="#440154"/>
<rect x="251" y="286" width="2" height="2" fill="#440154"/>
<rect x="253" y="286" width="2" height="2" fill="#39558c"/>
<rect x="245" y="288" width="2" height="2" fill="#cde11d"/>
<rect x="247" y="288" width="2" height="2" fill="#3d4d8a"/>
<rect x="249" y="288" width="2" height="2" fill="#440154"/>
<rect x="251" y="288" width="2" height="2" fill="#440154"/>
<rect x="253" y="288" width="2" height="2" fill="#69cd5b"/>
<rect x="245" y="290" width="2" height="2" fill="#2ab07f"/>
<rect x="247" y="290" width="2" height="2" fill="#440154"/>
<rect x="249" y="290" width="2" height="2" fill="#440154"/>
<rect x="251" y="290" width="2" height="2" fill="#297a8e"/>
<rect x="243" y="292" width="2" height="2" fill="#b5de2b"/>
<rect x="245" y="292" width="2" height="2" fill="#471063"/>
<rect x="247" y="292" width="2" height="2" fill="#440154"/>
<rect x="249" y="292" width="2" height="2" fill="#450559"/>
<rect x="251" y="292" width="2" height="2" fill="#addc30"/>
<rect x="243" y="294" width="2" height="2" fill="#26828e"/>
<rect x="245" y="294" width="2" height="2" fill="#440154"/>
<rect x="247" y="294" width="2" height="2" fill="#440154"/>
<rect x="249" y="294" width="2" height="2" fill="#23a983"/>
<rect x="241" y="296" width="2" height="2" fill="#73d056"/>
<rect x="243" y="296" width="2" height="2" fill="#440154"/>
<rect x="245" y="296" width="2" height="2" fill="#440154"/>
<rect x="247" y="296" width="2" height="2" fill="#414287"/>
<rect x="249" y="296" width="2" height="2" fill="#cae11f"/>
<rect x="241" y="298" width="2" height="2" fill="#3b528b"/>
<rect x="243" y="298" width="2" height="2" fill="#440154"/>
<rect x="245" y="298" width="2" height="2" fill="#440154"/>
<rect x="247" y="298" width="2" height="2" fill="#65cb5e"/>
<rect x="239" y="300" width="2" height="2" fill="#52c569"/>
<rect x="241" y="300" width="2" height="2" fill="#440154"/>
<rect x="243" y="300" width="2" height="2" fill="#440154"/>
<rect x="245" y="300" width="2" height="2" fill="#2f6b8e"/>
<rect x="261" y="300" width="2" height="2" fill="#d0e11c"/>
<rect x="263" y="300" width="2" height="2" fill="#cae11f"/>
<rect x="265" y="300" width="2" height="2" fill="#c5e021"/>
<rect x="267" y="300" width="2" height="2" fill="#c0df25"/>
<rect x="269" y="300" width="2" height="2" fill="#a2da37"/>
<rect x="271" y="300" width="1" height="2" fill="#6ece58"/>
<rect x="272" y="300" width="2" height="2" fill="#b5de2b"/>
<rect x="239" y="302" width="2" height="2" fill="#355e8d"/>
<rect x="241" y="302" width="2" height="2" fill="#440154"/>
<rect x="243" y="302" width="2" height="2" fill="#440154"/>
<rect x="245" y="302" width="2" height="2" fill="#38b977"/>
<rect x="247" y="302" width="2" height="2" fill="#7ad151"/>
<rect x="249" y="302" width="2" height="2" fill="#58c765"/>
<rect x="251" y="302" width="2" height="2" fill="#34b679"/>
<rect x="253" y="302" width="2" height="2" fill="#1f9a8a"/>
<rect x="255" y="302" width="2" height="2" fill="#287c8e"/>
<rect x="257" y="302" width="2" height="2" fill="#365d8d"/>
<rect x="259" y="302" width="2" height="2" fill="#433e85"/>
<rect x="261" y="302" width="2" height="2" fill="#481b6d"/>
<rect x="263" y="302" width="2" height="2" fill="#440154"/>
<rect x="265" y="302" width="2" height="2" fill="#440154"/>
<rect x="267" y="302" width="2" height="2" fill="#440154"/>
<rect x="269" y="302" width="2" height="2" fill="#440154"/>
<rect x="271" y="302" width="1" height="2" fill="#440154"/>
<rect x="272" y="302" width="2" height="2" fill="#482374"/>
<rect x="237" y="304" width="2" height="2" fill="#c8e020"/>
<rect x="239" y="304" width="2" height="2" fill="#440154"/>
<rect x="241" y="304" width="2" height="2" fill="#440154"/>
<rect x="243" y="304" width="2" height="2" fill="#440154"/>
<rect x="245" y="304" width="2" height="2" fill="#440154"/>
<rect x="247" y="304" width="2" height="2" fill="#440154"/>
<rect x="249" y="304" width="2" height="2" fill="#440154"/>
<rect x="251" y="304" width="2" height="2" fill="#440154"/>
<rect x="253" y="304" width="2" height="2" fill="#440154"/>
<rect x="255" y="304" width="2" height="2" fill="#440154"/>
<rect x="257" y="304" width="2" height="2" fill="#440154"/>
<rect x="259" y="304" width="2" height="2" fill="#440154"/>
<rect x="261" y="304" width="2" height="2" fill="#440154"/>
<rect x="263" y="304" width="2" height="2" fill="#440154"/>
<rect x="265" y="304" width="2" height="2" fill="#440154"/>
<rect x="267" y="304" width="2" height="2" fill="#440154"/>
<rect x="269" y="304" width="2" height="2" fill="#440154"/>
<rect x="271" y="304" width="1" height="2" fill="#440154"/>
<rect x="272" y="304" width="2" height="2" fill="#482173"/>
<rect x="239" y="306" width="2" height="2" fill="#3b518b"/>
<rect x="241" y="306" width="2" height="2" fill="#440154"/>
<rect x="243" y="306" width="2" height="2" fill="#440154"/>
<rect x="245" y="306" width="2" height="2" fill="#440154"/>
<rect x="247" y="306" width="2" height="2" fill="#440154"/>
<rect x="249" y="306" width="2" height="2" fill="#440154"/>
<rect x="251" y="306" width="2" height="2" fill="#440154"/>
<rect x="253" y="306" width="2" height="2" fill="#440154"/>
<rect x="255" y="306" width="2" height="2" fill="#440154"/>
<rect x="257" y="306" width="2" height="2" fill="#481b6d"/>
<rect x="259" y="306" width="2" height="2" fill="#424086"/>
<rect x="261" y="306" width="2" height="2" fill="#34608d"/>
<rect x="263" y="306" width="2" height="2" fill="#297a8e"/>
<rect x="265" y="306" width="2" height="2" fill="#21918c"/>
<rect x="267" y="306" width="2" height="2" fill="#1fa287"/>
<rect x="269" y="306" width="2" height="2" fill="#2db27d"/>
<rect x="271" y="306" width="1" height="2" fill="#4ac16d"/>
<rect x="272" y="306" width="2" height="2" fill="#b2dd2d"/>
<rect x="241" y="308" width="2" height="1" fill="#b8de29"/>
<rect x="243" y="308" width="2" height="1" fill="#67cc5c"/>
<rect x="245" y="308" width="2" height="1" fill="#37b878"/>
<rect x="247" y="308" width="2" height="1" fill="#44bf70"/>
<rect x="249" y="308" width="2" height="1" fill="#67cc5c"/>
<rect x="251" y="308" width="2" height="1" fill="#8ed645"/>
<rect x="253" y="308" width="2" height="1" fill="#bddf26"/>
<rect x="255" y="308" width="2" height="1" fill="#cae11f"/>
<rect x="257" y="308" width="2" height="1" fill="#d0e11c"/>
</g>
<g filter="url(#dblur)" shape-rendering="crispEdges">
<rect x="446" y="273" width="2" height="2" fill="#b8de29"/>
<rect x="448" y="273" width="2" height="2" fill="#32648e"/>
<rect x="450" y="273" width="2" height="2" fill="#355f8d"/>
<rect x="452" y="273" width="2" height="2" fill="#2c718e"/>
<rect x="454" y="273" width="2" height="2" fill="#26828e"/>
<rect x="456" y="273" width="2" height="2" fill="#1f988b"/>
<rect x="458" y="273" width="2" height="2" fill="#54c568"/>
<rect x="460" y="273" width="2" height="2" fill="#b8de29"/>
<rect x="462" y="273" width="2" height="2" fill="#cde11d"/>
<rect x="446" y="275" width="2" height="2" fill="#3bbb75"/>
<rect x="448" y="275" width="2" height="2" fill="#440154"/>
<rect x="450" y="275" width="2" height="2" fill="#440154"/>
<rect x="452" y="275" width="2" height="2" fill="#440154"/>
<rect x="454" y="275" width="2" height="2" fill="#440154"/>
<rect x="456" y="275" width="2" height="2" fill="#440154"/>
<rect x="458" y="275" width="2" height="2" fill="#440154"/>
<rect x="460" y="275" width="2" height="2" fill="#440154"/>
<rect x="462" y="275" width="2" height="2" fill="#470d60"/>
<rect x="464" y="275" width="1" height="2" fill="#46307e"/>
<rect x="465" y="275" width="2" height="2" fill="#3f4889"/>
<rect x="467" y="275" width="2" height="2" fill="#365d8d"/>
<rect x="469" y="275" width="2" height="2" fill="#2f6c8e"/>
<rect x="471" y="275" width="2" height="2" fill="#2c728e"/>
<rect x="473" y="275" width="2" height="2" fill="#2a788e"/>
<rect x="475" y="275" width="2" height="2" fill="#26ad81"/>
<rect x="448" y="277" width="2" height="2" fill="#1f988b"/>
<rect x="450" y="277" width="2" height="2" fill="#2a778e"/>
<rect x="452" y="277" width="2" height="2" fill="#32648e"/>
<rect x="454" y="277" width="2" height="2" fill="#3c508b"/>
<rect x="456" y="277" width="2" height="2" fill="#482071"/>
<rect x="458" y="277" width="2" height="2" fill="#440154"/>
<rect x="460" y="277" width="2" height="2" fill="#440154"/>
<rect x="462" y="277" width="2" height="2" fill="#440154"/>
<rect x="464" y="277" width="1" height="2" fill="#440154"/>
<rect x="465" y="277" width="2" height="2" fill="#440154"/>
<rect x="467" y="277" width="2" height="2" fill="#440154"/>
<rect x="469" y="277" width="2" height="2" fill="#440154"/>
<rect x="471" y="277" width="2" height="2" fill="#440154"/>
<rect x="473" y="277" width="2" height="2" fill="#440154"/>
<rect x="475" y="277" width="2" height="2" fill="#440154"/>
<rect x="477" y="277" width="2" height="2" fill="#cae11f"/>
<rect x="458" y="279" width="2" height="2" fill="#bddf26"/>
<rect x="460" y="279" width="2" height="2" fill="#65cb5e"/>
<rect x="462" y="279" width="2" height="2" fill="#25ac82"/>
<rect x="464" y="279" width="1" height="2" fill="#1f988b"/>
<rect x="465" y="279" width="2" height="2" fill="#25848e"/>
<rect x="467" y="279" width="2" height="2" fill="#2d718e"/>
<rect x="469" y="279" width="2" height="2" fill="#38588c"/>
<rect x="471" y="279" width="2" height="2" fill="#440154"/>
<rect x="473" y="279" width="2" height="2" fill="#440154"/>
<rect x="475" y="279" width="2" height="2" fill="#3a548c"/>
<rect x="469" y="281" width="2" height="2" fill="#1fa287"/>
<rect x="471" y="281" width="2" height="2" fill="#440154"/>
<rect x="473" y="281" width="2" height="2" fill="#440154"/>
<rect x="475" y="281" width="2" height="2" fill="#63cb5f"/>
<rect x="467" y="283" width="2" height="2" fill="#bddf26"/>
<rect x="469" y="283" width="2" height="2" fill="#481d6f"/>
<rect x="471" y="283" width="2" height="2" fill="#440154"/>
<rect x="473" y="283" width="2" height="2" fill="#34618d"/>
<rect x="467" y="285" width="2" height="2" fill="#1f948c"/>
<rect x="469" y="285" width="2" height="2" fill="#440154"/>
<rect x="471" y="285" width="2" height="2" fill="#440154"/>
<rect x="473" y="285" width="2" height="2" fill="#7cd250"/>
<rect x="465" y="287" width="2" height="1" fill="#9dd93b"/>
<rect x="467" y="287" width="2" height="1" fill="#440154"/>
<rect x="469" y="287" width="2" height="1" fill="#440154"/>
<rect x="471" y="287" width="2" height="1" fill="#287d8e"/>
<rect x="465" y="288" width="2" height="2" fill="#2a778e"/>
<rect x="467" y="288" width="2" height="2" fill="#440154"/>
<rect x="469" y="288" width="2" height="2" fill="#440154"/>
<rect x="471" y="288" width="2" height="2" fill="#a8db34"/>
<rect x="464" y="290" width="1" height="2" fill="#77d153"/>
<rect x="465" y="290" width="2" height="2" fill="#440154"/>
<rect x="467" y="290" width="2" height="2" fill="#440154"/>
<rect x="469" y="290" width="2" height="2" fill="#1f988b"/>
<rect x="464" y="292" width="1" height="2" fill="#39568c"/>
<rect x="465" y="292" width="2" height="2" fill="#440154"/>
<rect x="467" y="292" width="2" height="2" fill="#482071"/>
<rect x="469" y="292" width="2" height="2" fill="#c0df25"/>
<rect x="462" y="294" width="2" height="2" fill="#3fbc73"/>
<rect x="464" y="294" width="1" height="2" fill="#440154"/>
<rect x="465" y="294" width="2" height="2" fill="#440154"/>
<rect x="467" y="294" width="2" height="2" fill="#34b679"/>
<rect x="460" y="296" width="2" height="2" fill="#c5e021"/>
<rect x="462" y="296" width="2" height="2" fill="#472a7a"/>
<rect x="464" y="296" width="1" height="2" fill="#440154"/>
<rect x="465" y="296" width="2" height="2" fill="#3e4989"/>
<rect x="467" y="296" width="2" height="2" fill="#d0e11c"/>
<rect x="460" y="298" width="2" height="2" fill="#1fa287"/>
<rect x="462" y="298" width="2" height="2" fill="#440154"/>
<rect x="464" y="298" width="1" height="2" fill="#440154"/>
<rect x="465" y="298" width="2" height="2" fill="#5cc863"/>
<rect x="458" y="300" width="2" height="2" fill="#c0df25"/>
<rect x="460" y="300" width="2" height="2" fill="#481467"/>
<rect x="462" y="300" width="2" height="2" fill="#440154"/>
<rect x="464" y="300" width="1" height="2" fill="#33628d"/>
<rect x="458" y="302" width="2" height="2" fill="#1fa088"/>
<rect x="460" y="302" width="2" height="2" fill="#440154"/>
<rect x="462" y="302" width="2" height="2" fill="#440154"/>
<rect x="464" y="302" width="1" height="2" fill="#77d153"/>
<rect x="456" y="304" width="2" height="2" fill="#c0df25"/>
<rect x="458" y="304" width="2" height="2" fill="#471063"/>
<rect x="460" y="304" width="2" height="2" fill="#440154"/>
<rect x="462" y="304" width="2" height="2" fill="#31678e"/>
<rect x="456" y="306" width="2" height="2" fill="#32b67a"/>
<rect x="458" y="306" width="2" height="2" fill="#440154"/>
<rect x="460" y="306" width="2" height="2" fill="#440154"/>
<rect x="462" y="306" width="2" height="2" fill="#7fd34e"/>
<rect x="456" y="308" width="2" height="2" fill="#7ad151"/>
<rect x="458" y="308" width="2" height="2" fill="#482677"/>
<rect x="460" y="308" width="2" height="2" fill="#25848e"/>
</g>
<rect x="653.3" y="187.3" width="31.3" height="120.9" rx="2" ry="2" fill="#fff" stroke="#d0d0d0" stroke-width="0.8"/>
<text x="668.9" y="195.8" font-size="8.4" text-anchor="middle" fill="#262626" textLength="19.8" lengthAdjust="spacingAndGlyphs" >Label</text>
<line x1="655.9" y1="203.7" x2="671.8" y2="203.7" stroke="#1f77b4" stroke-width="1.5" />
<text x="677.2" y="206.8" font-size="8.6" text-anchor="start" fill="#262626" >0</text>
<line x1="655.9" y1="214.6" x2="671.8" y2="214.6" stroke="#ff7f0e" stroke-width="1.5" />
<text x="677.2" y="217.7" font-size="8.6" text-anchor="start" fill="#262626" >1</text>
<line x1="655.9" y1="225.5" x2="671.8" y2="225.5" stroke="#2ca02c" stroke-width="1.5" />
<text x="677.2" y="228.6" font-size="8.6" text-anchor="start" fill="#262626" >2</text>
<line x1="655.9" y1="236.4" x2="671.8" y2="236.4" stroke="#d62728" stroke-width="1.5" />
<text x="677.2" y="239.5" font-size="8.6" text-anchor="start" fill="#262626" >3</text>
<line x1="655.9" y1="247.3" x2="671.8" y2="247.3" stroke="#9467bd" stroke-width="1.5" />
<text x="677.2" y="250.4" font-size="8.6" text-anchor="start" fill="#262626" >4</text>
<line x1="655.9" y1="258.2" x2="671.8" y2="258.2" stroke="#8c564b" stroke-width="1.5" />
<text x="677.2" y="261.3" font-size="8.6" text-anchor="start" fill="#262626" >5</text>
<line x1="655.9" y1="269.1" x2="671.8" y2="269.1" stroke="#e377c2" stroke-width="1.5" />
<text x="677.2" y="272.2" font-size="8.6" text-anchor="start" fill="#262626" >6</text>
<line x1="655.9" y1="280" x2="671.8" y2="280" stroke="#7f7f7f" stroke-width="1.5" />
<text x="677.2" y="283.1" font-size="8.6" text-anchor="start" fill="#262626" >7</text>
<line x1="655.9" y1="290.9" x2="671.8" y2="290.9" stroke="#bcbd22" stroke-width="1.5" />
<text x="677.2" y="294" font-size="8.6" text-anchor="start" fill="#262626" >8</text>
<line x1="655.9" y1="301.8" x2="671.8" y2="301.8" stroke="#17becf" stroke-width="1.5" />
<text x="677.2" y="304.9" font-size="8.6" text-anchor="start" fill="#262626" >9</text>
</svg>
</body></html>
